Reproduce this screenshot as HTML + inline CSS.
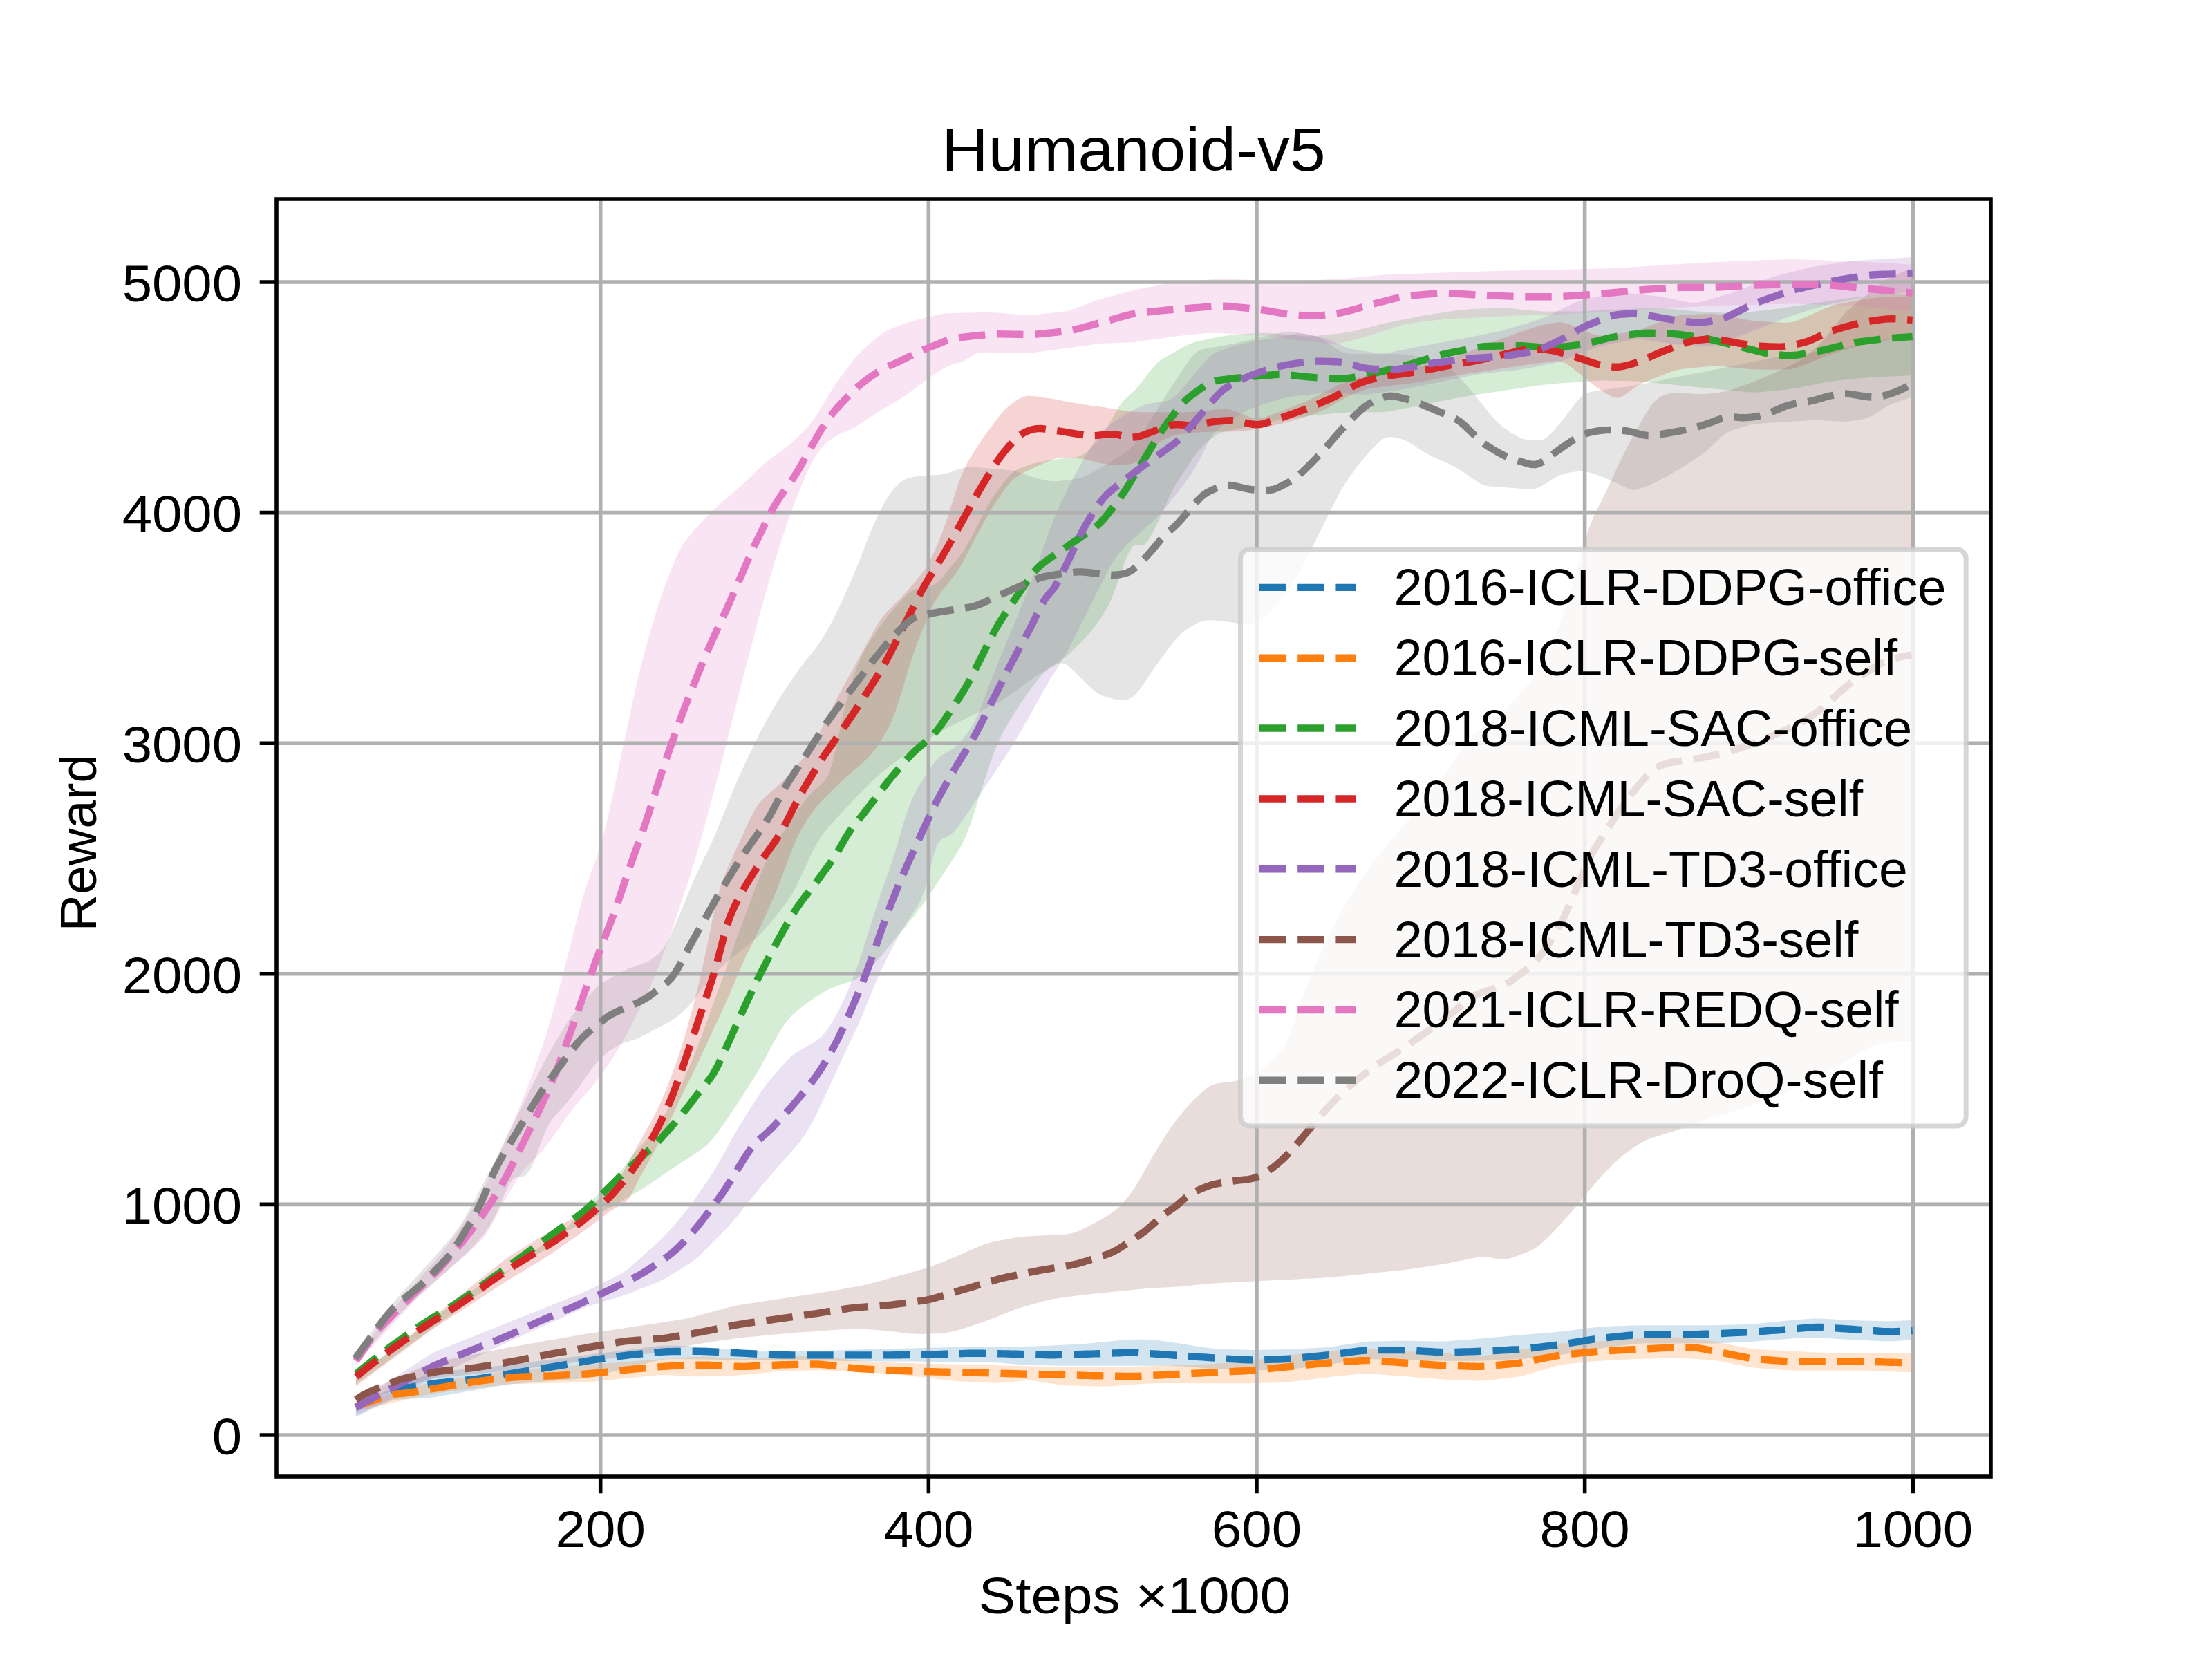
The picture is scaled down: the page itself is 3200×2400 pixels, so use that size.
<!DOCTYPE html>
<html><head><meta charset="utf-8"><style>html,body{margin:0;padding:0;background:#fff;width:3200px;height:2400px;overflow:hidden}</style></head><body><svg width="3200" height="2400" viewBox="0 0 3200 2400" style="display:block"><rect x="0" y="0" width="3200" height="2400" fill="#ffffff"/><defs><clipPath id="axclip"><rect x="400" y="288" width="2480" height="1848"/></clipPath></defs><g clip-path="url(#axclip)"><path d="M514.9 2030.4L520.9 2028.0L526.9 2025.5L532.9 2023.0L538.9 2020.6L544.9 2018.1L550.9 2015.7L557.0 2013.2L563.0 2010.7L569.0 2008.3L575.0 2005.8L581.0 2003.3L587.0 2000.9L593.0 1998.4L599.0 1995.9L605.0 1993.5L611.0 1991.0L617.0 1988.7L623.0 1986.8L629.0 1985.4L635.0 1984.6L641.0 1983.9L647.0 1983.3L653.0 1982.7L659.0 1982.1L665.0 1981.5L671.0 1980.9L677.0 1980.3L683.1 1979.7L689.1 1979.1L695.1 1978.5L701.1 1977.9L707.1 1977.3L713.1 1976.7L719.1 1976.1L725.1 1975.5L731.1 1974.9L737.1 1974.2L743.1 1973.5L749.1 1972.8L755.1 1972.0L761.1 1971.3L767.1 1970.5L773.1 1969.8L779.1 1969.0L785.1 1968.3L791.1 1967.5L797.1 1966.8L803.2 1966.0L809.2 1965.3L815.2 1964.5L821.2 1963.8L827.2 1963.0L833.2 1962.3L839.2 1961.5L845.2 1960.8L851.2 1960.0L857.2 1959.3L863.2 1958.5L869.2 1957.8L875.2 1957.0L881.2 1956.3L887.2 1955.5L893.2 1954.8L899.2 1954.0L905.2 1953.3L911.2 1952.5L917.2 1951.8L923.2 1951.0L929.3 1950.3L935.3 1949.5L941.3 1948.8L947.3 1948.0L953.3 1947.3L959.3 1946.8L965.3 1946.6L971.3 1946.6L977.3 1946.7L983.3 1946.9L989.3 1947.0L995.3 1947.2L1001.3 1947.5L1007.3 1947.9L1013.3 1948.4L1019.3 1948.9L1025.3 1949.4L1031.3 1949.9L1037.3 1950.4L1043.3 1950.9L1049.4 1951.4L1055.4 1951.9L1061.4 1952.4L1067.4 1952.9L1073.4 1953.4L1079.4 1953.9L1085.4 1954.4L1091.4 1954.8L1097.4 1955.0L1103.4 1955.2L1109.4 1955.2L1115.4 1955.2L1121.4 1955.2L1127.4 1955.2L1133.4 1955.2L1139.4 1955.2L1145.4 1955.2L1151.4 1955.2L1157.4 1955.1L1163.4 1955.0L1169.4 1954.8L1175.5 1954.6L1181.5 1954.4L1187.5 1954.2L1193.5 1954.0L1199.5 1953.8L1205.5 1953.6L1211.5 1953.4L1217.5 1953.2L1223.5 1953.0L1229.5 1952.8L1235.5 1952.6L1241.5 1952.4L1247.5 1952.2L1253.5 1952.0L1259.5 1951.9L1265.5 1951.7L1271.5 1951.6L1277.5 1951.4L1283.5 1951.3L1289.5 1951.1L1295.6 1951.0L1301.6 1950.8L1307.6 1950.7L1313.6 1950.5L1319.6 1950.4L1325.6 1950.2L1331.6 1950.1L1337.6 1949.9L1343.6 1949.8L1349.6 1949.6L1355.6 1949.5L1361.6 1949.3L1367.6 1949.2L1373.6 1949.0L1379.6 1948.9L1385.6 1948.9L1391.6 1948.9L1397.6 1948.9L1403.6 1948.9L1409.6 1948.9L1415.6 1948.9L1421.7 1948.9L1427.7 1948.9L1433.7 1948.9L1439.7 1948.8L1445.7 1948.8L1451.7 1948.6L1457.7 1948.5L1463.7 1948.3L1469.7 1948.2L1475.7 1948.0L1481.7 1947.9L1487.7 1947.7L1493.7 1947.6L1499.7 1947.4L1505.7 1947.2L1511.7 1947.0L1517.7 1946.7L1523.7 1946.4L1529.7 1946.1L1535.7 1945.8L1541.8 1945.5L1547.8 1945.2L1553.8 1944.9L1559.8 1944.6L1565.8 1944.2L1571.8 1943.8L1577.8 1943.3L1583.8 1942.7L1589.8 1942.1L1595.8 1941.5L1601.8 1940.9L1607.8 1940.3L1613.8 1939.7L1619.8 1939.1L1625.8 1938.5L1631.8 1938.1L1637.8 1937.9L1643.8 1937.8L1649.8 1937.8L1655.8 1937.8L1661.8 1938.0L1667.9 1938.4L1673.9 1939.1L1679.9 1939.8L1685.9 1940.6L1691.9 1941.5L1697.9 1942.3L1703.9 1943.2L1709.9 1944.1L1715.9 1945.1L1721.9 1946.0L1727.9 1947.0L1733.9 1947.9L1739.9 1948.9L1745.9 1949.8L1751.9 1950.5L1757.9 1951.0L1763.9 1951.3L1769.9 1951.5L1775.9 1951.8L1781.9 1952.0L1788.0 1952.3L1794.0 1952.5L1800.0 1952.7L1806.0 1952.9L1812.0 1952.9L1818.0 1952.9L1824.0 1952.8L1830.0 1952.6L1836.0 1952.5L1842.0 1952.4L1848.0 1952.3L1854.0 1952.1L1860.0 1952.0L1866.0 1951.8L1872.0 1951.5L1878.0 1951.3L1884.0 1951.0L1890.0 1950.7L1896.0 1950.4L1902.0 1950.1L1908.0 1949.8L1914.1 1949.4L1920.1 1948.9L1926.1 1948.2L1932.1 1947.4L1938.1 1946.5L1944.1 1945.6L1950.1 1944.7L1956.1 1943.8L1962.1 1942.9L1968.1 1942.0L1974.1 1941.3L1980.1 1940.8L1986.1 1940.6L1992.1 1940.4L1998.1 1940.3L2004.1 1940.2L2010.1 1940.1L2016.1 1939.9L2022.1 1939.8L2028.1 1939.8L2034.2 1939.7L2040.2 1939.8L2046.2 1939.9L2052.2 1940.0L2058.2 1940.1L2064.2 1940.3L2070.2 1940.4L2076.2 1940.5L2082.2 1940.6L2088.2 1940.5L2094.2 1940.2L2100.2 1939.8L2106.2 1939.3L2112.2 1938.8L2118.2 1938.4L2124.2 1937.9L2130.2 1937.4L2136.2 1936.9L2142.2 1936.4L2148.2 1935.9L2154.2 1935.4L2160.3 1934.8L2166.3 1934.3L2172.3 1933.8L2178.3 1933.2L2184.3 1932.7L2190.3 1932.1L2196.3 1931.6L2202.3 1931.1L2208.3 1930.6L2214.3 1930.1L2220.3 1929.6L2226.3 1929.2L2232.3 1928.7L2238.3 1928.2L2244.3 1927.7L2250.3 1927.2L2256.3 1926.6L2262.3 1925.9L2268.3 1925.2L2274.3 1924.4L2280.3 1923.6L2286.4 1922.9L2292.4 1922.1L2298.4 1921.3L2304.4 1920.6L2310.4 1919.9L2316.4 1919.4L2322.4 1919.1L2328.4 1918.8L2334.4 1918.6L2340.4 1918.3L2346.4 1918.1L2352.4 1917.9L2358.4 1917.6L2364.4 1917.4L2370.4 1917.3L2376.4 1917.2L2382.4 1917.2L2388.4 1917.2L2394.4 1917.2L2400.4 1917.2L2406.5 1917.2L2412.5 1917.2L2418.5 1917.2L2424.5 1917.2L2430.5 1917.2L2436.5 1917.2L2442.5 1917.2L2448.5 1917.2L2454.5 1917.2L2460.5 1917.2L2466.5 1917.2L2472.5 1917.2L2478.5 1917.1L2484.5 1917.0L2490.5 1916.9L2496.5 1916.7L2502.5 1916.5L2508.5 1916.4L2514.5 1916.2L2520.5 1916.0L2526.5 1915.8L2532.6 1915.6L2538.6 1915.2L2544.6 1914.7L2550.6 1914.1L2556.6 1913.5L2562.6 1912.9L2568.6 1912.3L2574.6 1911.7L2580.6 1911.1L2586.6 1910.6L2592.6 1910.0L2598.6 1909.5L2604.6 1908.9L2610.6 1908.4L2616.6 1908.0L2622.6 1907.6L2628.6 1907.5L2634.6 1907.6L2640.6 1907.9L2646.6 1908.2L2652.7 1908.6L2658.7 1908.9L2664.7 1909.2L2670.7 1909.5L2676.7 1909.8L2682.7 1910.1L2688.7 1910.3L2694.7 1910.4L2700.7 1910.6L2706.7 1910.8L2712.7 1911.0L2718.7 1911.2L2724.7 1911.3L2730.7 1911.4L2736.7 1911.3L2742.7 1911.1L2748.7 1910.8L2754.7 1910.5L2760.7 1910.2L2766.7 1909.9L2766.7 1937.9L2760.7 1938.4L2754.7 1938.9L2748.7 1939.4L2742.7 1939.9L2736.7 1940.2L2730.7 1940.4L2724.7 1940.3L2718.7 1940.0L2712.7 1939.7L2706.7 1939.4L2700.7 1939.1L2694.7 1938.8L2688.7 1938.5L2682.7 1938.2L2676.7 1937.9L2670.7 1937.6L2664.7 1937.2L2658.7 1936.9L2652.7 1936.6L2646.6 1936.2L2640.6 1935.9L2634.6 1935.6L2628.6 1935.4L2622.6 1935.4L2616.6 1935.5L2610.6 1935.7L2604.6 1935.9L2598.6 1936.1L2592.6 1936.4L2586.6 1936.8L2580.6 1937.2L2574.6 1937.7L2568.6 1938.2L2562.6 1938.7L2556.6 1939.2L2550.6 1939.6L2544.6 1940.1L2538.6 1940.5L2532.6 1940.9L2526.5 1941.3L2520.5 1941.6L2514.5 1941.9L2508.5 1942.2L2502.5 1942.5L2496.5 1942.8L2490.5 1943.0L2484.5 1943.3L2478.5 1943.5L2472.5 1943.5L2466.5 1943.5L2460.5 1943.5L2454.5 1943.5L2448.5 1943.5L2442.5 1943.5L2436.5 1943.5L2430.5 1943.5L2424.5 1943.5L2418.5 1943.5L2412.5 1943.5L2406.5 1943.5L2400.4 1943.5L2394.4 1943.5L2388.4 1943.5L2382.4 1943.6L2376.4 1943.6L2370.4 1943.8L2364.4 1944.3L2358.4 1944.9L2352.4 1945.7L2346.4 1946.4L2340.4 1947.2L2334.4 1948.0L2328.4 1948.8L2322.4 1949.6L2316.4 1950.4L2310.4 1951.3L2304.4 1952.3L2298.4 1953.3L2292.4 1954.3L2286.4 1955.3L2280.3 1956.3L2274.3 1957.3L2268.3 1958.4L2262.3 1959.3L2256.3 1960.2L2250.3 1960.9L2244.3 1961.6L2238.3 1962.2L2232.3 1962.8L2226.3 1963.4L2220.3 1964.0L2214.3 1964.6L2208.3 1965.2L2202.3 1965.7L2196.3 1966.1L2190.3 1966.5L2184.3 1966.8L2178.3 1967.1L2172.3 1967.4L2166.3 1967.7L2160.3 1968.0L2154.2 1968.3L2148.2 1968.5L2142.2 1968.7L2136.2 1968.7L2130.2 1968.8L2124.2 1968.8L2118.2 1968.8L2112.2 1968.8L2106.2 1968.8L2100.2 1968.8L2094.2 1968.8L2088.2 1968.7L2082.2 1968.6L2076.2 1968.5L2070.2 1968.4L2064.2 1968.3L2058.2 1968.2L2052.2 1968.0L2046.2 1967.9L2040.2 1967.8L2034.2 1967.7L2028.1 1967.5L2022.1 1967.3L2016.1 1967.2L2010.1 1967.0L2004.1 1966.8L1998.1 1966.6L1992.1 1966.4L1986.1 1966.3L1980.1 1966.3L1974.1 1966.6L1968.1 1967.3L1962.1 1968.1L1956.1 1969.0L1950.1 1969.9L1944.1 1970.8L1938.1 1971.7L1932.1 1972.6L1926.1 1973.5L1920.1 1974.3L1914.1 1975.1L1908.0 1975.8L1902.0 1976.6L1896.0 1977.3L1890.0 1978.0L1884.0 1978.7L1878.0 1979.4L1872.0 1980.1L1866.0 1980.7L1860.0 1981.1L1854.0 1981.4L1848.0 1981.6L1842.0 1981.8L1836.0 1981.9L1830.0 1982.1L1824.0 1982.3L1818.0 1982.5L1812.0 1982.6L1806.0 1982.5L1800.0 1982.3L1794.0 1982.1L1788.0 1981.8L1781.9 1981.5L1775.9 1981.2L1769.9 1980.9L1763.9 1980.6L1757.9 1980.2L1751.9 1979.9L1745.9 1979.5L1739.9 1979.0L1733.9 1978.5L1727.9 1978.0L1721.9 1977.5L1715.9 1977.0L1709.9 1976.6L1703.9 1976.2L1697.9 1975.9L1691.9 1975.8L1685.9 1975.8L1679.9 1975.8L1673.9 1975.8L1667.9 1975.8L1661.8 1975.8L1655.8 1975.8L1649.8 1975.8L1643.8 1975.8L1637.8 1975.8L1631.8 1975.8L1625.8 1975.8L1619.8 1975.8L1613.8 1975.8L1607.8 1975.8L1601.8 1975.8L1595.8 1975.8L1589.8 1975.8L1583.8 1975.8L1577.8 1975.8L1571.8 1975.8L1565.8 1975.8L1559.8 1975.8L1553.8 1975.8L1547.8 1975.8L1541.8 1975.7L1535.7 1975.7L1529.7 1975.5L1523.7 1975.4L1517.7 1975.3L1511.7 1975.1L1505.7 1975.0L1499.7 1974.8L1493.7 1974.7L1487.7 1974.5L1481.7 1974.3L1475.7 1974.0L1469.7 1973.6L1463.7 1973.1L1457.7 1972.5L1451.7 1971.9L1445.7 1971.5L1439.7 1971.2L1433.7 1971.0L1427.7 1971.0L1421.7 1971.0L1415.6 1971.0L1409.6 1971.0L1403.6 1971.0L1397.6 1971.0L1391.6 1971.0L1385.6 1971.0L1379.6 1970.9L1373.6 1970.8L1367.6 1970.7L1361.6 1970.6L1355.6 1970.4L1349.6 1970.3L1343.6 1970.1L1337.6 1970.0L1331.6 1969.8L1325.6 1969.7L1319.6 1969.5L1313.6 1969.5L1307.6 1969.4L1301.6 1969.4L1295.6 1969.4L1289.5 1969.4L1283.5 1969.4L1277.5 1969.4L1271.5 1969.4L1265.5 1969.4L1259.5 1969.4L1253.5 1969.4L1247.5 1969.3L1241.5 1969.2L1235.5 1969.1L1229.5 1969.0L1223.5 1968.9L1217.5 1968.8L1211.5 1968.7L1205.5 1968.6L1199.5 1968.5L1193.5 1968.4L1187.5 1968.3L1181.5 1968.2L1175.5 1968.1L1169.4 1968.0L1163.4 1968.0L1157.4 1967.9L1151.4 1967.9L1145.4 1967.8L1139.4 1967.8L1133.4 1967.8L1127.4 1967.8L1121.4 1967.8L1115.4 1967.8L1109.4 1967.8L1103.4 1967.8L1097.4 1967.8L1091.4 1967.8L1085.4 1967.7L1079.4 1967.6L1073.4 1967.5L1067.4 1967.4L1061.4 1967.3L1055.4 1967.2L1049.4 1967.1L1043.3 1967.0L1037.3 1966.9L1031.3 1966.8L1025.3 1966.7L1019.3 1966.6L1013.3 1966.5L1007.3 1966.4L1001.3 1966.3L995.3 1966.2L989.3 1966.2L983.3 1966.1L977.3 1966.1L971.3 1966.1L965.3 1966.3L959.3 1966.9L953.3 1967.9L947.3 1969.3L941.3 1970.8L935.3 1972.3L929.3 1973.8L923.2 1975.3L917.2 1976.8L911.2 1978.3L905.2 1979.8L899.2 1981.3L893.2 1982.8L887.2 1984.3L881.2 1985.8L875.2 1987.3L869.2 1988.8L863.2 1990.3L857.2 1991.7L851.2 1993.0L845.2 1994.0L839.2 1994.6L833.2 1995.1L827.2 1995.6L821.2 1996.0L815.2 1996.5L809.2 1996.9L803.2 1997.4L797.1 1997.8L791.1 1998.3L785.1 1998.7L779.1 1999.2L773.1 1999.6L767.1 2000.1L761.1 2000.5L755.1 2001.0L749.1 2001.5L743.1 2002.0L737.1 2002.6L731.1 2003.4L725.1 2004.4L719.1 2005.4L713.1 2006.5L707.1 2007.5L701.1 2008.6L695.1 2009.6L689.1 2010.7L683.1 2011.7L677.0 2012.8L671.0 2013.8L665.0 2014.9L659.0 2015.9L653.0 2017.0L647.0 2018.0L641.0 2019.1L635.0 2020.1L629.0 2021.1L623.0 2021.8L617.0 2022.3L611.0 2022.7L605.0 2023.0L599.0 2023.3L593.0 2023.6L587.0 2023.9L581.0 2024.2L575.0 2024.7L569.0 2025.7L563.0 2027.4L557.0 2029.6L550.9 2032.1L544.9 2034.6L538.9 2037.1L532.9 2039.7L526.9 2042.2L520.9 2044.7L514.9 2047.2Z" fill="#1f77b4" fill-opacity="0.2" stroke="none"/><path d="M514.9 2030.4L520.9 2028.7L526.9 2027.0L532.9 2025.4L538.9 2023.7L544.9 2022.0L550.9 2020.3L557.0 2018.6L563.0 2016.9L569.0 2015.2L575.0 2013.5L581.0 2011.8L587.0 2010.1L593.0 2008.4L599.0 2006.7L605.0 2005.0L611.0 2003.3L617.0 2001.7L623.0 2000.2L629.0 1999.0L635.0 1998.0L641.0 1997.1L647.0 1996.2L653.0 1995.3L659.0 1994.4L665.0 1993.5L671.0 1992.6L677.0 1991.7L683.1 1990.8L689.1 1989.9L695.1 1989.0L701.1 1988.1L707.1 1987.2L713.1 1986.3L719.1 1985.4L725.1 1984.5L731.1 1983.6L737.1 1982.9L743.1 1982.3L749.1 1981.8L755.1 1981.4L761.1 1980.9L767.1 1980.5L773.1 1980.0L779.1 1979.6L785.1 1979.1L791.1 1978.7L797.1 1978.2L803.2 1977.8L809.2 1977.3L815.2 1976.9L821.2 1976.4L827.2 1976.0L833.2 1975.5L839.2 1975.1L845.2 1974.6L851.2 1974.2L857.2 1973.7L863.2 1973.3L869.2 1972.8L875.2 1972.4L881.2 1971.9L887.2 1971.5L893.2 1971.0L899.2 1970.6L905.2 1970.1L911.2 1969.7L917.2 1969.2L923.2 1968.8L929.3 1968.3L935.3 1967.9L941.3 1967.4L947.3 1967.0L953.3 1966.5L959.3 1966.1L965.3 1965.6L971.3 1965.2L977.3 1964.8L983.3 1964.4L989.3 1964.0L995.3 1963.5L1001.3 1963.1L1007.3 1962.7L1013.3 1962.5L1019.3 1962.5L1025.3 1962.7L1031.3 1963.1L1037.3 1963.5L1043.3 1963.9L1049.4 1964.3L1055.4 1964.8L1061.4 1965.2L1067.4 1965.5L1073.4 1965.6L1079.4 1965.6L1085.4 1965.3L1091.4 1965.0L1097.4 1964.7L1103.4 1964.4L1109.4 1964.1L1115.4 1963.8L1121.4 1963.5L1127.4 1963.2L1133.4 1962.9L1139.4 1962.6L1145.4 1962.3L1151.4 1962.0L1157.4 1961.7L1163.4 1961.4L1169.4 1961.1L1175.5 1960.9L1181.5 1960.8L1187.5 1961.1L1193.5 1961.7L1199.5 1962.6L1205.5 1963.5L1211.5 1964.4L1217.5 1965.3L1223.5 1966.2L1229.5 1967.1L1235.5 1967.9L1241.5 1968.6L1247.5 1969.0L1253.5 1969.4L1259.5 1969.7L1265.5 1970.0L1271.5 1970.3L1277.5 1970.6L1283.5 1970.9L1289.5 1971.2L1295.6 1971.4L1301.6 1971.7L1307.6 1971.8L1313.6 1972.0L1319.6 1972.1L1325.6 1972.3L1331.6 1972.4L1337.6 1972.6L1343.6 1972.7L1349.6 1972.9L1355.6 1973.0L1361.6 1973.2L1367.6 1973.3L1373.6 1973.5L1379.6 1973.6L1385.6 1973.8L1391.6 1973.9L1397.6 1974.1L1403.6 1974.2L1409.6 1974.4L1415.6 1974.5L1421.7 1974.7L1427.7 1974.8L1433.7 1975.0L1439.7 1975.1L1445.7 1975.3L1451.7 1975.4L1457.7 1975.6L1463.7 1975.7L1469.7 1975.9L1475.7 1976.0L1481.7 1976.2L1487.7 1976.3L1493.7 1976.5L1499.7 1976.6L1505.7 1976.8L1511.7 1976.9L1517.7 1977.1L1523.7 1977.1L1529.7 1977.2L1535.7 1977.2L1541.8 1977.2L1547.8 1977.2L1553.8 1977.2L1559.8 1977.2L1565.8 1977.2L1571.8 1977.2L1577.8 1977.2L1583.8 1977.2L1589.8 1977.2L1595.8 1977.2L1601.8 1977.2L1607.8 1977.2L1613.8 1977.2L1619.8 1977.2L1625.8 1977.2L1631.8 1977.2L1637.8 1977.1L1643.8 1977.0L1649.8 1976.8L1655.8 1976.6L1661.8 1976.4L1667.9 1976.2L1673.9 1976.0L1679.9 1975.8L1685.9 1975.6L1691.9 1975.4L1697.9 1975.2L1703.9 1974.9L1709.9 1974.7L1715.9 1974.5L1721.9 1974.3L1727.9 1974.1L1733.9 1973.9L1739.9 1973.7L1745.9 1973.4L1751.9 1973.1L1757.9 1972.8L1763.9 1972.3L1769.9 1971.8L1775.9 1971.3L1781.9 1970.9L1788.0 1970.4L1794.0 1969.9L1800.0 1969.4L1806.0 1968.8L1812.0 1968.1L1818.0 1967.3L1824.0 1966.4L1830.0 1965.5L1836.0 1964.6L1842.0 1963.7L1848.0 1962.8L1854.0 1961.9L1860.0 1961.1L1866.0 1960.3L1872.0 1959.6L1878.0 1959.0L1884.0 1958.4L1890.0 1957.8L1896.0 1957.2L1902.0 1956.6L1908.0 1956.0L1914.1 1955.4L1920.1 1954.9L1926.1 1954.4L1932.1 1953.9L1938.1 1953.5L1944.1 1953.1L1950.1 1952.7L1956.1 1952.2L1962.1 1951.8L1968.1 1951.5L1974.1 1951.3L1980.1 1951.3L1986.1 1951.6L1992.1 1951.9L1998.1 1952.4L2004.1 1952.8L2010.1 1953.2L2016.1 1953.6L2022.1 1954.0L2028.1 1954.4L2034.2 1954.8L2040.2 1955.1L2046.2 1955.4L2052.2 1955.7L2058.2 1956.0L2064.2 1956.3L2070.2 1956.6L2076.2 1956.9L2082.2 1957.3L2088.2 1957.6L2094.2 1958.0L2100.2 1958.5L2106.2 1959.0L2112.2 1959.5L2118.2 1959.9L2124.2 1960.4L2130.2 1960.9L2136.2 1961.3L2142.2 1961.4L2148.2 1961.0L2154.2 1960.2L2160.3 1959.2L2166.3 1958.1L2172.3 1957.0L2178.3 1956.0L2184.3 1954.9L2190.3 1953.8L2196.3 1952.8L2202.3 1951.8L2208.3 1950.8L2214.3 1949.9L2220.3 1949.0L2226.3 1948.1L2232.3 1947.2L2238.3 1946.3L2244.3 1945.4L2250.3 1944.5L2256.3 1943.8L2262.3 1943.3L2268.3 1943.0L2274.3 1942.7L2280.3 1942.4L2286.4 1942.1L2292.4 1941.8L2298.4 1941.5L2304.4 1941.1L2310.4 1940.8L2316.4 1940.4L2322.4 1940.0L2328.4 1939.5L2334.4 1939.0L2340.4 1938.5L2346.4 1938.0L2352.4 1937.6L2358.4 1937.1L2364.4 1936.6L2370.4 1936.3L2376.4 1936.0L2382.4 1935.7L2388.4 1935.5L2394.4 1935.2L2400.4 1935.0L2406.5 1934.7L2412.5 1934.5L2418.5 1934.4L2424.5 1934.4L2430.5 1934.8L2436.5 1935.4L2442.5 1936.1L2448.5 1936.9L2454.5 1937.6L2460.5 1938.3L2466.5 1939.0L2472.5 1939.8L2478.5 1940.6L2484.5 1941.6L2490.5 1942.7L2496.5 1943.9L2502.5 1945.1L2508.5 1946.3L2514.5 1947.5L2520.5 1948.7L2526.5 1949.8L2532.6 1950.9L2538.6 1951.7L2544.6 1952.3L2550.6 1952.6L2556.6 1952.9L2562.6 1953.2L2568.6 1953.5L2574.6 1953.8L2580.6 1954.1L2586.6 1954.4L2592.6 1954.7L2598.6 1955.0L2604.6 1955.3L2610.6 1955.6L2616.6 1955.9L2622.6 1956.2L2628.6 1956.5L2634.6 1956.8L2640.6 1957.1L2646.6 1957.3L2652.7 1957.5L2658.7 1957.5L2664.7 1957.6L2670.7 1957.6L2676.7 1957.6L2682.7 1957.6L2688.7 1957.6L2694.7 1957.6L2700.7 1957.6L2706.7 1957.6L2712.7 1957.6L2718.7 1957.6L2724.7 1957.6L2730.7 1957.6L2736.7 1957.6L2742.7 1957.6L2748.7 1957.6L2754.7 1957.6L2760.7 1957.6L2766.7 1957.6L2766.7 1985.6L2760.7 1985.3L2754.7 1985.0L2748.7 1984.8L2742.7 1984.5L2736.7 1984.2L2730.7 1983.9L2724.7 1983.7L2718.7 1983.4L2712.7 1983.2L2706.7 1983.0L2700.7 1982.8L2694.7 1982.8L2688.7 1982.8L2682.7 1982.8L2676.7 1982.8L2670.7 1982.8L2664.7 1982.8L2658.7 1982.8L2652.7 1982.8L2646.6 1982.8L2640.6 1982.8L2634.6 1982.8L2628.6 1982.8L2622.6 1982.8L2616.6 1982.8L2610.6 1982.8L2604.6 1982.8L2598.6 1982.7L2592.6 1982.6L2586.6 1982.3L2580.6 1981.9L2574.6 1981.5L2568.6 1981.1L2562.6 1980.7L2556.6 1980.2L2550.6 1979.8L2544.6 1979.3L2538.6 1978.7L2532.6 1977.8L2526.5 1976.8L2520.5 1975.6L2514.5 1974.4L2508.5 1973.2L2502.5 1972.0L2496.5 1970.8L2490.5 1969.6L2484.5 1968.6L2478.5 1967.8L2472.5 1967.2L2466.5 1966.8L2460.5 1966.4L2454.5 1966.1L2448.5 1965.7L2442.5 1965.3L2436.5 1965.0L2430.5 1964.7L2424.5 1964.5L2418.5 1964.5L2412.5 1964.7L2406.5 1964.8L2400.4 1965.0L2394.4 1965.2L2388.4 1965.4L2382.4 1965.6L2376.4 1965.7L2370.4 1966.0L2364.4 1966.2L2358.4 1966.5L2352.4 1966.8L2346.4 1967.1L2340.4 1967.4L2334.4 1967.7L2328.4 1968.0L2322.4 1968.3L2316.4 1968.7L2310.4 1969.1L2304.4 1969.6L2298.4 1970.2L2292.4 1970.8L2286.4 1971.4L2280.3 1972.0L2274.3 1972.6L2268.3 1973.2L2262.3 1974.0L2256.3 1975.0L2250.3 1976.4L2244.3 1978.1L2238.3 1979.9L2232.3 1981.7L2226.3 1983.5L2220.3 1985.3L2214.3 1987.1L2208.3 1988.8L2202.3 1990.3L2196.3 1991.5L2190.3 1992.4L2184.3 1993.1L2178.3 1993.9L2172.3 1994.6L2166.3 1995.3L2160.3 1996.0L2154.2 1996.7L2148.2 1997.2L2142.2 1997.5L2136.2 1997.5L2130.2 1997.3L2124.2 1997.1L2118.2 1996.9L2112.2 1996.6L2106.2 1996.4L2100.2 1996.1L2094.2 1995.9L2088.2 1995.6L2082.2 1995.2L2076.2 1994.7L2070.2 1994.2L2064.2 1993.7L2058.2 1993.3L2052.2 1992.8L2046.2 1992.3L2040.2 1991.8L2034.2 1991.3L2028.1 1990.9L2022.1 1990.4L2016.1 1989.9L2010.1 1989.4L2004.1 1988.9L1998.1 1988.4L1992.1 1988.0L1986.1 1987.5L1980.1 1987.3L1974.1 1987.3L1968.1 1987.6L1962.1 1988.1L1956.1 1988.7L1950.1 1989.3L1944.1 1989.9L1938.1 1990.5L1932.1 1991.1L1926.1 1991.8L1920.1 1992.4L1914.1 1993.1L1908.0 1993.9L1902.0 1994.7L1896.0 1995.5L1890.0 1996.2L1884.0 1997.0L1878.0 1997.8L1872.0 1998.5L1866.0 1999.2L1860.0 1999.6L1854.0 1999.9L1848.0 2000.1L1842.0 2000.3L1836.0 2000.4L1830.0 2000.6L1824.0 2000.8L1818.0 2001.0L1812.0 2001.1L1806.0 2001.2L1800.0 2001.3L1794.0 2001.3L1788.0 2001.3L1781.9 2001.3L1775.9 2001.3L1769.9 2001.3L1763.9 2001.3L1757.9 2001.3L1751.9 2001.3L1745.9 2001.3L1739.9 2001.2L1733.9 2001.2L1727.9 2001.2L1721.9 2001.2L1715.9 2001.1L1709.9 2001.1L1703.9 2001.1L1697.9 2001.1L1691.9 2001.1L1685.9 2001.1L1679.9 2001.1L1673.9 2001.1L1667.9 2001.2L1661.8 2001.4L1655.8 2001.8L1649.8 2002.2L1643.8 2002.6L1637.8 2003.1L1631.8 2003.5L1625.8 2004.0L1619.8 2004.4L1613.8 2004.9L1607.8 2005.3L1601.8 2005.5L1595.8 2005.6L1589.8 2005.5L1583.8 2005.4L1577.8 2005.2L1571.8 2005.1L1565.8 2004.9L1559.8 2004.8L1553.8 2004.6L1547.8 2004.4L1541.8 2004.1L1535.7 2003.6L1529.7 2002.8L1523.7 2001.9L1517.7 2000.9L1511.7 1999.9L1505.7 1998.9L1499.7 1998.0L1493.7 1997.3L1487.7 1997.1L1481.7 1997.3L1475.7 1997.8L1469.7 1998.4L1463.7 1999.0L1457.7 1999.6L1451.7 2000.2L1445.7 2000.6L1439.7 2000.7L1433.7 2000.6L1427.7 2000.3L1421.7 2000.0L1415.6 1999.7L1409.6 1999.4L1403.6 1999.1L1397.6 1998.8L1391.6 1998.5L1385.6 1998.2L1379.6 1997.7L1373.6 1997.1L1367.6 1996.4L1361.6 1995.6L1355.6 1994.9L1349.6 1994.1L1343.6 1993.4L1337.6 1992.6L1331.6 1991.9L1325.6 1991.2L1319.6 1990.5L1313.6 1989.9L1307.6 1989.4L1301.6 1988.9L1295.6 1988.4L1289.5 1988.0L1283.5 1987.5L1277.5 1987.1L1271.5 1986.6L1265.5 1986.2L1259.5 1985.7L1253.5 1985.3L1247.5 1985.0L1241.5 1984.7L1235.5 1984.4L1229.5 1984.1L1223.5 1983.8L1217.5 1983.5L1211.5 1983.2L1205.5 1982.9L1199.5 1982.6L1193.5 1982.4L1187.5 1982.3L1181.5 1982.3L1175.5 1982.5L1169.4 1982.6L1163.4 1982.7L1157.4 1982.9L1151.4 1983.0L1145.4 1983.2L1139.4 1983.4L1133.4 1983.5L1127.4 1983.8L1121.4 1984.3L1115.4 1984.8L1109.4 1985.4L1103.4 1986.0L1097.4 1986.6L1091.4 1987.2L1085.4 1987.8L1079.4 1988.4L1073.4 1989.0L1067.4 1989.5L1061.4 1989.9L1055.4 1990.2L1049.4 1990.3L1043.3 1990.5L1037.3 1990.6L1031.3 1990.8L1025.3 1990.9L1019.3 1991.1L1013.3 1991.2L1007.3 1991.3L1001.3 1991.3L995.3 1991.1L989.3 1990.7L983.3 1990.2L977.3 1989.7L971.3 1989.3L965.3 1989.0L959.3 1988.9L953.3 1989.2L947.3 1989.7L941.3 1990.3L935.3 1990.9L929.3 1991.5L923.2 1992.1L917.2 1992.7L911.2 1993.3L905.2 1993.9L899.2 1994.5L893.2 1995.1L887.2 1995.7L881.2 1996.3L875.2 1996.9L869.2 1997.5L863.2 1998.1L857.2 1998.7L851.2 1999.2L845.2 1999.6L839.2 1999.8L833.2 2000.0L827.2 2000.1L821.2 2000.3L815.2 2000.4L809.2 2000.6L803.2 2000.7L797.1 2000.9L791.1 2001.0L785.1 2001.2L779.1 2001.3L773.1 2001.5L767.1 2001.6L761.1 2001.8L755.1 2001.9L749.1 2002.1L743.1 2002.3L737.1 2002.6L731.1 2003.1L725.1 2003.8L719.1 2004.6L713.1 2005.3L707.1 2006.1L701.1 2006.8L695.1 2007.6L689.1 2008.3L683.1 2009.1L677.0 2009.8L671.0 2010.6L665.0 2011.3L659.0 2012.1L653.0 2012.8L647.0 2013.6L641.0 2014.3L635.0 2015.1L629.0 2015.9L623.0 2016.9L617.0 2018.1L611.0 2019.5L605.0 2020.9L599.0 2022.2L593.0 2023.6L587.0 2025.0L581.0 2026.4L575.0 2027.8L569.0 2029.2L563.0 2030.6L557.0 2031.9L550.9 2033.3L544.9 2034.7L538.9 2036.1L532.9 2037.5L526.9 2038.9L520.9 2040.3L514.9 2041.6Z" fill="#ff7f0e" fill-opacity="0.2" stroke="none"/><path d="M514.9 1991.2L520.9 1986.7L526.9 1982.2L532.9 1977.8L538.9 1973.3L544.9 1968.8L550.9 1964.3L557.0 1959.8L563.0 1955.4L569.0 1950.9L575.0 1946.4L581.0 1941.9L587.0 1937.5L593.0 1933.0L599.0 1928.5L605.0 1924.0L611.0 1919.5L617.0 1915.1L623.0 1910.6L629.0 1906.1L635.0 1901.6L641.0 1897.1L647.0 1892.7L653.0 1888.2L659.0 1883.7L665.0 1879.2L671.0 1874.8L677.0 1870.6L683.1 1866.7L689.1 1863.1L695.1 1859.7L701.1 1856.4L707.1 1853.1L713.1 1849.8L719.1 1846.5L725.1 1843.2L731.1 1839.9L737.1 1836.6L743.1 1833.3L749.1 1830.0L755.1 1826.7L761.1 1823.4L767.1 1820.1L773.1 1816.8L779.1 1813.5L785.1 1809.9L791.1 1805.7L797.1 1800.4L803.2 1794.3L809.2 1787.8L815.2 1781.2L821.2 1774.6L827.2 1768.0L833.2 1761.4L839.2 1754.8L845.2 1748.3L851.2 1742.0L857.2 1735.8L863.2 1729.8L869.2 1723.8L875.2 1717.8L881.2 1711.8L887.2 1705.8L893.2 1699.6L899.2 1692.8L905.2 1684.9L911.2 1676.3L917.2 1668.6L923.2 1661.9L929.3 1655.4L935.3 1648.5L941.3 1641.0L947.3 1633.1L953.3 1624.7L959.3 1615.6L965.3 1605.9L971.3 1595.6L977.3 1584.8L983.3 1573.3L989.3 1561.0L995.3 1547.7L1001.3 1533.7L1007.3 1518.9L1013.3 1503.3L1019.3 1487.1L1025.3 1470.6L1031.3 1454.1L1037.3 1437.5L1043.3 1420.7L1049.4 1403.8L1055.4 1386.9L1061.4 1370.1L1067.4 1353.6L1073.4 1337.1L1079.4 1320.6L1085.4 1304.1L1091.4 1287.9L1097.4 1272.3L1103.4 1257.7L1109.4 1244.0L1115.4 1231.3L1121.4 1220.5L1127.4 1211.8L1133.4 1203.8L1139.4 1195.0L1145.4 1185.5L1151.4 1176.2L1157.4 1167.5L1163.4 1159.5L1169.4 1152.1L1175.5 1145.5L1181.5 1140.1L1187.5 1135.3L1193.5 1129.4L1199.5 1118.5L1205.5 1099.0L1211.5 1072.4L1217.5 1043.8L1223.5 1017.3L1229.5 994.5L1235.5 975.7L1241.5 960.1L1247.5 947.2L1253.5 936.3L1259.5 926.6L1265.5 917.3L1271.5 908.4L1277.5 900.0L1283.5 892.0L1289.5 884.6L1295.6 877.7L1301.6 871.2L1307.6 864.8L1313.6 858.9L1319.6 854.3L1325.6 851.7L1331.6 850.5L1337.6 849.8L1343.6 849.0L1349.6 847.1L1355.6 843.2L1361.6 837.3L1367.6 830.2L1373.6 822.8L1379.6 815.3L1385.6 807.7L1391.6 799.8L1397.6 790.8L1403.6 780.3L1409.6 768.8L1415.6 756.9L1421.7 745.0L1427.7 733.7L1433.7 723.5L1439.7 714.6L1445.7 706.3L1451.7 698.3L1457.7 690.8L1463.7 684.4L1469.7 680.0L1475.7 677.1L1481.7 674.9L1487.7 672.9L1493.7 671.0L1499.7 669.4L1505.7 668.1L1511.7 667.0L1517.7 666.0L1523.7 665.1L1529.7 664.2L1535.7 663.4L1541.8 662.8L1547.8 662.3L1553.8 661.7L1559.8 660.7L1565.8 658.3L1571.8 653.8L1577.8 647.9L1583.8 641.5L1589.8 634.7L1595.8 627.2L1601.8 618.2L1607.8 607.6L1613.8 596.5L1619.8 586.5L1625.8 579.0L1631.8 573.5L1637.8 568.3L1643.8 562.2L1649.8 555.0L1655.8 547.1L1661.8 539.2L1667.9 531.7L1673.9 525.3L1679.9 520.5L1685.9 516.7L1691.9 513.3L1697.9 510.0L1703.9 506.6L1709.9 503.3L1715.9 500.1L1721.9 497.3L1727.9 495.1L1733.9 493.5L1739.9 492.3L1745.9 491.0L1751.9 489.8L1757.9 488.6L1763.9 487.4L1769.9 486.3L1775.9 485.2L1781.9 484.4L1788.0 483.9L1794.0 483.5L1800.0 483.2L1806.0 482.9L1812.0 482.6L1818.0 482.3L1824.0 482.0L1830.0 481.8L1836.0 481.8L1842.0 482.1L1848.0 482.6L1854.0 483.2L1860.0 483.8L1866.0 484.4L1872.0 485.0L1878.0 485.6L1884.0 486.1L1890.0 486.4L1896.0 486.3L1902.0 486.0L1908.0 485.4L1914.1 484.8L1920.1 484.2L1926.1 483.6L1932.1 483.0L1938.1 482.4L1944.1 481.6L1950.1 480.6L1956.1 479.4L1962.1 477.9L1968.1 476.5L1974.1 474.9L1980.1 473.4L1986.1 471.9L1992.1 470.4L1998.1 469.0L2004.1 467.6L2010.1 466.3L2016.1 465.0L2022.1 463.8L2028.1 462.6L2034.2 461.4L2040.2 460.2L2046.2 459.0L2052.2 457.8L2058.2 456.7L2064.2 455.7L2070.2 454.7L2076.2 453.8L2082.2 452.9L2088.2 452.0L2094.2 451.1L2100.2 450.2L2106.2 449.3L2112.2 448.5L2118.2 447.9L2124.2 447.4L2130.2 447.1L2136.2 446.8L2142.2 446.5L2148.2 446.2L2154.2 445.9L2160.3 445.6L2166.3 445.4L2172.3 445.4L2178.3 445.6L2184.3 446.1L2190.3 446.7L2196.3 447.3L2202.3 447.9L2208.3 448.5L2214.3 449.1L2220.3 449.7L2226.3 450.1L2232.3 450.4L2238.3 450.5L2244.3 450.6L2250.3 450.6L2256.3 450.6L2262.3 450.6L2268.3 450.6L2274.3 450.6L2280.3 450.5L2286.4 450.4L2292.4 450.2L2298.4 449.9L2304.4 449.6L2310.4 449.3L2316.4 449.0L2322.4 448.7L2328.4 448.4L2334.4 448.1L2340.4 447.8L2346.4 447.5L2352.4 447.2L2358.4 446.9L2364.4 446.6L2370.4 446.3L2376.4 446.0L2382.4 445.7L2388.4 445.4L2394.4 445.4L2400.4 445.5L2406.5 446.0L2412.5 446.5L2418.5 447.1L2424.5 447.7L2430.5 448.3L2436.5 448.9L2442.5 449.5L2448.5 450.1L2454.5 450.5L2460.5 450.9L2466.5 451.2L2472.5 451.5L2478.5 451.8L2484.5 452.1L2490.5 452.4L2496.5 452.7L2502.5 453.0L2508.5 453.0L2514.5 452.7L2520.5 452.2L2526.5 451.6L2532.6 451.0L2538.6 450.4L2544.6 449.8L2550.6 449.2L2556.6 448.6L2562.6 447.9L2568.6 447.1L2574.6 446.3L2580.6 445.4L2586.6 444.5L2592.6 443.6L2598.6 442.7L2604.6 441.8L2610.6 440.9L2616.6 440.0L2622.6 439.1L2628.6 438.2L2634.6 437.3L2640.6 436.4L2646.6 435.5L2652.7 434.6L2658.7 433.7L2664.7 432.8L2670.7 431.9L2676.7 431.1L2682.7 430.4L2688.7 429.8L2694.7 429.2L2700.7 428.6L2706.7 428.0L2712.7 427.4L2718.7 426.8L2724.7 426.2L2730.7 425.8L2736.7 425.5L2742.7 425.4L2748.7 425.3L2754.7 425.3L2760.7 425.3L2766.7 425.3L2766.7 543.1L2760.7 543.3L2754.7 543.6L2748.7 543.9L2742.7 544.2L2736.7 544.4L2730.7 544.7L2724.7 545.0L2718.7 545.2L2712.7 545.5L2706.7 545.9L2700.7 546.4L2694.7 546.9L2688.7 547.5L2682.7 548.1L2676.7 548.7L2670.7 549.3L2664.7 549.9L2658.7 550.5L2652.7 551.2L2646.6 552.1L2640.6 553.2L2634.6 554.4L2628.6 555.5L2622.6 556.7L2616.6 557.9L2610.6 559.1L2604.6 560.3L2598.6 561.5L2592.6 562.5L2586.6 563.3L2580.6 563.9L2574.6 564.5L2568.6 565.1L2562.6 565.7L2556.6 566.3L2550.6 566.9L2544.6 567.4L2538.6 567.7L2532.6 567.6L2526.5 567.2L2520.5 566.6L2514.5 566.0L2508.5 565.4L2502.5 564.8L2496.5 564.2L2490.5 563.6L2484.5 563.0L2478.5 562.4L2472.5 561.8L2466.5 561.2L2460.5 560.6L2454.5 560.0L2448.5 559.4L2442.5 558.8L2436.5 558.2L2430.5 557.6L2424.5 557.0L2418.5 556.4L2412.5 555.8L2406.5 555.2L2400.4 554.6L2394.4 554.0L2388.4 553.4L2382.4 552.8L2376.4 552.3L2370.4 551.8L2364.4 551.5L2358.4 551.3L2352.4 551.1L2346.4 551.0L2340.4 550.9L2334.4 550.8L2328.4 550.7L2322.4 550.6L2316.4 550.6L2310.4 550.7L2304.4 551.0L2298.4 551.4L2292.4 551.9L2286.4 552.3L2280.3 552.8L2274.3 553.2L2268.3 553.7L2262.3 554.1L2256.3 554.6L2250.3 555.1L2244.3 555.7L2238.3 556.2L2232.3 556.8L2226.3 557.5L2220.3 558.4L2214.3 559.2L2208.3 560.1L2202.3 561.0L2196.3 561.9L2190.3 562.8L2184.3 563.7L2178.3 564.6L2172.3 565.5L2166.3 566.4L2160.3 567.3L2154.2 568.2L2148.2 569.1L2142.2 570.0L2136.2 570.9L2130.2 571.8L2124.2 572.8L2118.2 573.7L2112.2 574.8L2106.2 576.0L2100.2 577.2L2094.2 578.4L2088.2 579.6L2082.2 580.8L2076.2 582.0L2070.2 583.2L2064.2 584.4L2058.2 585.6L2052.2 586.8L2046.2 588.0L2040.2 589.2L2034.2 590.4L2028.1 591.6L2022.1 592.8L2016.1 593.9L2010.1 595.0L2004.1 595.8L1998.1 596.2L1992.1 596.3L1986.1 596.3L1980.1 596.3L1974.1 596.3L1968.1 596.3L1962.1 596.3L1956.1 596.4L1950.1 596.5L1944.1 596.9L1938.1 597.4L1932.1 598.0L1926.1 598.5L1920.1 599.1L1914.1 599.7L1908.0 600.3L1902.0 600.9L1896.0 601.6L1890.0 602.2L1884.0 602.8L1878.0 603.4L1872.0 604.0L1866.0 604.8L1860.0 605.7L1854.0 606.8L1848.0 608.0L1842.0 609.2L1836.0 610.4L1830.0 611.6L1824.0 612.8L1818.0 614.0L1812.0 615.4L1806.0 617.1L1800.0 618.7L1794.0 620.1L1788.0 621.2L1781.9 622.2L1775.9 623.4L1769.9 625.0L1763.9 627.1L1757.9 630.3L1751.9 634.7L1745.9 639.8L1739.9 645.4L1733.9 651.8L1727.9 659.6L1721.9 668.5L1715.9 677.7L1709.9 686.8L1703.9 695.9L1697.9 705.9L1691.9 717.7L1685.9 731.1L1679.9 744.9L1673.9 757.8L1667.9 769.9L1661.8 780.6L1655.8 787.8L1649.8 789.4L1643.8 788.1L1637.8 790.9L1631.8 801.5L1625.8 817.1L1619.8 834.2L1613.8 851.1L1607.8 866.5L1601.8 879.2L1595.8 889.3L1589.8 898.1L1583.8 906.4L1577.8 914.1L1571.8 920.9L1565.8 927.2L1559.8 933.3L1553.8 939.2L1547.8 944.9L1541.8 950.0L1535.7 954.5L1529.7 958.7L1523.7 962.7L1517.7 967.0L1511.7 972.0L1505.7 978.3L1499.7 985.7L1493.7 993.5L1487.7 1001.6L1481.7 1009.8L1475.7 1018.5L1469.7 1027.9L1463.7 1037.8L1457.7 1047.8L1451.7 1058.3L1445.7 1069.9L1439.7 1083.9L1433.7 1100.3L1427.7 1118.0L1421.7 1136.5L1415.6 1155.5L1409.6 1174.8L1403.6 1193.2L1397.6 1209.2L1391.6 1221.8L1385.6 1232.1L1379.6 1241.5L1373.6 1250.6L1367.6 1259.6L1361.6 1268.8L1355.6 1278.1L1349.6 1287.3L1343.6 1296.3L1337.6 1304.8L1331.6 1312.8L1325.6 1320.7L1319.6 1328.4L1313.6 1336.0L1307.6 1343.4L1301.6 1350.6L1295.6 1357.8L1289.5 1365.0L1283.5 1372.2L1277.5 1379.5L1271.5 1386.6L1265.5 1393.6L1259.5 1400.1L1253.5 1405.7L1247.5 1410.5L1241.5 1414.7L1235.5 1418.1L1229.5 1420.5L1223.5 1422.1L1217.5 1423.8L1211.5 1425.9L1205.5 1428.4L1199.5 1431.1L1193.5 1434.2L1187.5 1437.8L1181.5 1441.7L1175.5 1445.7L1169.4 1449.7L1163.4 1453.9L1157.4 1458.5L1151.4 1463.5L1145.4 1469.2L1139.4 1476.0L1133.4 1484.3L1127.4 1493.6L1121.4 1503.8L1115.4 1514.8L1109.4 1526.3L1103.4 1537.5L1097.4 1548.0L1091.4 1558.1L1085.4 1567.8L1079.4 1577.3L1073.4 1586.4L1067.4 1595.5L1061.4 1604.5L1055.4 1613.5L1049.4 1622.4L1043.3 1631.1L1037.3 1639.5L1031.3 1647.1L1025.3 1653.8L1019.3 1659.3L1013.3 1663.8L1007.3 1667.9L1001.3 1671.8L995.3 1675.7L989.3 1679.6L983.3 1683.5L977.3 1687.4L971.3 1691.4L965.3 1695.5L959.3 1699.5L953.3 1703.6L947.3 1707.8L941.3 1711.9L935.3 1716.0L929.3 1719.8L923.2 1723.6L917.2 1727.2L911.2 1730.8L905.2 1734.3L899.2 1737.7L893.2 1741.2L887.2 1744.7L881.2 1748.1L875.2 1751.6L869.2 1755.0L863.2 1758.5L857.2 1761.9L851.2 1765.3L845.2 1768.5L839.2 1771.6L833.2 1774.6L827.2 1777.6L821.2 1780.6L815.2 1783.6L809.2 1786.6L803.2 1789.7L797.1 1792.9L791.1 1796.6L785.1 1800.8L779.1 1805.3L773.1 1809.9L767.1 1814.6L761.1 1819.2L755.1 1823.9L749.1 1828.5L743.1 1833.2L737.1 1837.9L731.1 1842.5L725.1 1847.2L719.1 1851.8L713.1 1856.5L707.1 1861.1L701.1 1865.8L695.1 1870.4L689.1 1875.1L683.1 1879.7L677.0 1884.2L671.0 1888.6L665.0 1893.0L659.0 1897.4L653.0 1901.7L647.0 1906.1L641.0 1910.5L635.0 1914.9L629.0 1919.3L623.0 1923.6L617.0 1928.0L611.0 1932.4L605.0 1936.8L599.0 1941.1L593.0 1945.5L587.0 1949.9L581.0 1954.3L575.0 1958.6L569.0 1963.0L563.0 1967.4L557.0 1971.8L550.9 1976.1L544.9 1980.5L538.9 1984.9L532.9 1989.3L526.9 1993.7L520.9 1998.0L514.9 2002.4Z" fill="#2ca02c" fill-opacity="0.2" stroke="none"/><path d="M514.9 1994.0L520.9 1989.2L526.9 1984.4L532.9 1979.7L538.9 1974.9L544.9 1970.1L550.9 1965.4L557.0 1960.6L563.0 1955.8L569.0 1951.0L575.0 1946.3L581.0 1941.5L587.0 1936.7L593.0 1931.9L599.0 1927.2L605.0 1922.4L611.0 1917.6L617.0 1912.8L623.0 1908.1L629.0 1903.3L635.0 1898.5L641.0 1893.7L647.0 1888.9L653.0 1884.1L659.0 1879.3L665.0 1874.5L671.0 1869.7L677.0 1864.8L683.1 1860.0L689.1 1855.2L695.1 1850.4L701.1 1845.6L707.1 1840.8L713.1 1836.0L719.1 1831.2L725.1 1826.4L731.1 1821.8L737.1 1817.4L743.1 1813.5L749.1 1809.8L755.1 1806.2L761.1 1802.6L767.1 1798.9L773.1 1795.3L779.1 1791.7L785.1 1788.1L791.1 1784.5L797.1 1780.9L803.2 1777.3L809.2 1773.7L815.2 1770.1L821.2 1766.5L827.2 1762.9L833.2 1759.3L839.2 1755.6L845.2 1751.7L851.2 1747.3L857.2 1742.4L863.2 1737.2L869.2 1732.0L875.2 1726.7L881.2 1721.4L887.2 1715.6L893.2 1708.5L899.2 1699.4L905.2 1688.9L911.2 1678.0L917.2 1667.0L923.2 1656.1L929.3 1645.1L935.3 1634.3L941.3 1623.4L947.3 1612.3L953.3 1600.2L959.3 1586.6L965.3 1571.8L971.3 1556.2L977.3 1540.1L983.3 1522.6L989.3 1503.3L995.3 1482.5L1001.3 1460.7L1007.3 1437.5L1013.3 1412.4L1019.3 1385.5L1025.3 1356.6L1031.3 1327.2L1037.3 1300.4L1043.3 1279.3L1049.4 1263.3L1055.4 1249.5L1061.4 1236.4L1067.4 1223.3L1073.4 1210.2L1079.4 1197.1L1085.4 1184.3L1091.4 1172.6L1097.4 1163.1L1103.4 1156.2L1109.4 1150.7L1115.4 1145.6L1121.4 1140.4L1127.4 1134.9L1133.4 1128.9L1139.4 1122.4L1145.4 1115.7L1151.4 1108.9L1157.4 1102.1L1163.4 1095.2L1169.4 1087.6L1175.5 1078.5L1181.5 1067.9L1187.5 1056.2L1193.5 1044.3L1199.5 1032.3L1205.5 1020.6L1211.5 1009.1L1217.5 998.0L1223.5 986.9L1229.5 975.9L1235.5 964.9L1241.5 953.9L1247.5 942.9L1253.5 931.9L1259.5 920.9L1265.5 910.2L1271.5 900.2L1277.5 891.7L1283.5 884.7L1289.5 878.4L1295.6 872.3L1301.6 866.3L1307.6 859.9L1313.6 853.3L1319.6 846.4L1325.6 839.4L1331.6 832.1L1337.6 824.1L1343.6 814.2L1349.6 802.3L1355.6 788.9L1361.6 774.2L1367.6 757.7L1373.6 739.6L1379.6 720.8L1385.6 702.4L1391.6 686.1L1397.6 673.0L1403.6 662.3L1409.6 652.6L1415.6 643.2L1421.7 634.2L1427.7 625.8L1433.7 617.7L1439.7 609.7L1445.7 601.9L1451.7 594.8L1457.7 588.9L1463.7 584.0L1469.7 579.7L1475.7 576.0L1481.7 573.4L1487.7 572.5L1493.7 572.9L1499.7 573.6L1505.7 574.5L1511.7 575.4L1517.7 576.3L1523.7 577.3L1529.7 578.3L1535.7 579.4L1541.8 580.6L1547.8 581.7L1553.8 582.8L1559.8 583.9L1565.8 584.9L1571.8 585.8L1577.8 586.7L1583.8 587.5L1589.8 588.3L1595.8 589.1L1601.8 590.0L1607.8 591.0L1613.8 592.0L1619.8 593.0L1625.8 593.9L1631.8 594.9L1637.8 595.6L1643.8 596.1L1649.8 596.3L1655.8 596.3L1661.8 596.3L1667.9 596.3L1673.9 596.3L1679.9 596.3L1685.9 596.3L1691.9 596.3L1697.9 596.3L1703.9 596.3L1709.9 596.3L1715.9 596.3L1721.9 596.1L1727.9 595.8L1733.9 595.3L1739.9 594.7L1745.9 594.0L1751.9 593.4L1757.9 592.8L1763.9 592.2L1769.9 591.8L1775.9 592.0L1781.9 593.3L1788.0 595.4L1794.0 597.8L1800.0 600.2L1806.0 602.4L1812.0 604.4L1818.0 605.4L1824.0 605.0L1830.0 603.5L1836.0 601.5L1842.0 599.3L1848.0 597.1L1854.0 594.8L1860.0 592.4L1866.0 590.0L1872.0 587.6L1878.0 585.2L1884.0 582.8L1890.0 580.2L1896.0 577.5L1902.0 574.6L1908.0 571.6L1914.1 568.6L1920.1 565.6L1926.1 562.6L1932.1 559.6L1938.1 556.6L1944.1 553.8L1950.1 551.4L1956.1 549.2L1962.1 547.4L1968.1 545.6L1974.1 543.9L1980.1 542.5L1986.1 541.1L1992.1 539.9L1998.1 538.7L2004.1 537.5L2010.1 536.3L2016.1 535.2L2022.1 534.3L2028.1 533.4L2034.2 532.6L2040.2 531.8L2046.2 530.9L2052.2 530.1L2058.2 529.0L2064.2 527.7L2070.2 526.1L2076.2 524.3L2082.2 522.5L2088.2 520.7L2094.2 518.9L2100.2 517.1L2106.2 515.3L2112.2 513.4L2118.2 511.3L2124.2 509.1L2130.2 506.7L2136.2 504.3L2142.2 501.9L2148.2 499.5L2154.2 497.1L2160.3 494.7L2166.3 492.4L2172.3 490.1L2178.3 487.8L2184.3 485.7L2190.3 483.6L2196.3 481.5L2202.3 479.4L2208.3 477.3L2214.3 475.2L2220.3 473.2L2226.3 471.3L2232.3 469.8L2238.3 468.5L2244.3 467.4L2250.3 466.5L2256.3 466.1L2262.3 466.7L2268.3 468.4L2274.3 470.7L2280.3 473.2L2286.4 475.8L2292.4 478.4L2298.4 480.9L2304.4 483.2L2310.4 485.0L2316.4 485.6L2322.4 485.4L2328.4 484.6L2334.4 483.7L2340.4 482.8L2346.4 481.9L2352.4 481.0L2358.4 480.1L2364.4 478.9L2370.4 477.4L2376.4 475.4L2382.4 473.1L2388.4 470.7L2394.4 468.3L2400.4 465.9L2406.5 463.5L2412.5 461.1L2418.5 458.9L2424.5 457.2L2430.5 456.1L2436.5 455.6L2442.5 455.3L2448.5 455.0L2454.5 454.7L2460.5 454.4L2466.5 454.1L2472.5 453.9L2478.5 453.9L2484.5 454.5L2490.5 455.4L2496.5 456.5L2502.5 457.7L2508.5 458.9L2514.5 460.1L2520.5 461.3L2526.5 462.5L2532.6 463.5L2538.6 464.4L2544.6 464.9L2550.6 465.3L2556.6 465.6L2562.6 465.9L2568.6 466.2L2574.6 466.5L2580.6 466.7L2586.6 466.8L2592.6 466.1L2598.6 464.5L2604.6 462.1L2610.6 459.4L2616.6 456.7L2622.6 454.0L2628.6 451.3L2634.6 448.6L2640.6 446.0L2646.6 443.7L2652.7 441.8L2658.7 440.3L2664.7 439.0L2670.7 437.8L2676.7 436.6L2682.7 435.4L2688.7 434.2L2694.7 433.1L2700.7 432.0L2706.7 431.2L2712.7 430.7L2718.7 430.3L2724.7 430.1L2730.7 429.8L2736.7 429.5L2742.7 429.2L2748.7 429.0L2754.7 428.7L2760.7 428.4L2766.7 428.1L2766.7 487.0L2760.7 487.8L2754.7 488.6L2748.7 489.5L2742.7 490.3L2736.7 491.1L2730.7 491.9L2724.7 492.7L2718.7 493.6L2712.7 494.5L2706.7 495.5L2700.7 496.9L2694.7 498.6L2688.7 500.3L2682.7 502.1L2676.7 503.9L2670.7 505.7L2664.7 507.5L2658.7 509.4L2652.7 511.3L2646.6 513.4L2640.6 515.6L2634.6 518.0L2628.6 520.4L2622.6 522.8L2616.6 525.2L2610.6 527.6L2604.6 529.9L2598.6 532.1L2592.6 533.7L2586.6 534.4L2580.6 534.6L2574.6 534.6L2568.6 534.7L2562.6 534.7L2556.6 534.7L2550.6 534.6L2544.6 534.6L2538.6 534.4L2532.6 534.1L2526.5 533.6L2520.5 533.0L2514.5 532.4L2508.5 531.8L2502.5 531.2L2496.5 530.6L2490.5 530.1L2484.5 529.7L2478.5 529.6L2472.5 530.0L2466.5 530.5L2460.5 531.1L2454.5 531.7L2448.5 532.3L2442.5 532.9L2436.5 533.5L2430.5 534.3L2424.5 535.5L2418.5 537.4L2412.5 539.6L2406.5 542.0L2400.4 544.4L2394.4 546.8L2388.4 549.2L2382.4 551.6L2376.4 554.2L2370.4 557.2L2364.4 561.0L2358.4 565.4L2352.4 570.0L2346.4 573.9L2340.4 575.8L2334.4 574.8L2328.4 572.0L2322.4 568.4L2316.4 564.6L2310.4 560.5L2304.4 556.0L2298.4 551.2L2292.4 546.5L2286.4 541.7L2280.3 536.9L2274.3 532.1L2268.3 527.7L2262.3 524.2L2256.3 522.5L2250.3 522.3L2244.3 522.9L2238.3 523.7L2232.3 524.6L2226.3 525.4L2220.3 526.3L2214.3 527.1L2208.3 528.0L2202.3 528.8L2196.3 529.7L2190.3 530.6L2184.3 531.5L2178.3 532.4L2172.3 533.3L2166.3 534.2L2160.3 535.1L2154.2 536.0L2148.2 536.9L2142.2 537.8L2136.2 538.7L2130.2 539.6L2124.2 540.5L2118.2 541.4L2112.2 542.3L2106.2 543.2L2100.2 544.1L2094.2 545.0L2088.2 546.1L2082.2 547.2L2076.2 548.3L2070.2 549.5L2064.2 550.7L2058.2 551.9L2052.2 553.1L2046.2 554.1L2040.2 554.8L2034.2 555.5L2028.1 556.1L2022.1 556.7L2016.1 557.3L2010.1 557.9L2004.1 558.6L1998.1 559.5L1992.1 560.3L1986.1 561.3L1980.1 562.5L1974.1 564.1L1968.1 566.1L1962.1 568.4L1956.1 570.9L1950.1 573.6L1944.1 576.7L1938.1 580.1L1932.1 583.6L1926.1 587.1L1920.1 590.3L1914.1 593.1L1908.0 595.6L1902.0 598.0L1896.0 600.3L1890.0 602.4L1884.0 604.4L1878.0 606.2L1872.0 608.0L1866.0 609.7L1860.0 611.2L1854.0 612.7L1848.0 614.1L1842.0 615.5L1836.0 616.9L1830.0 618.3L1824.0 619.6L1818.0 620.7L1812.0 621.7L1806.0 622.6L1800.0 623.4L1794.0 624.0L1788.0 624.3L1781.9 624.3L1775.9 624.4L1769.9 624.4L1763.9 624.5L1757.9 624.6L1751.9 624.8L1745.9 625.0L1739.9 625.2L1733.9 625.5L1727.9 625.8L1721.9 626.4L1715.9 627.2L1709.9 628.1L1703.9 629.1L1697.9 630.3L1691.9 632.0L1685.9 634.5L1679.9 638.0L1673.9 642.5L1667.9 648.2L1661.8 654.5L1655.8 660.3L1649.8 665.0L1643.8 668.5L1637.8 670.7L1631.8 671.7L1625.8 672.0L1619.8 672.0L1613.8 672.0L1607.8 671.9L1601.8 671.5L1595.8 670.7L1589.8 669.5L1583.8 668.0L1577.8 666.5L1571.8 665.1L1565.8 664.0L1559.8 663.2L1553.8 662.6L1547.8 662.1L1541.8 661.7L1535.7 661.8L1529.7 662.7L1523.7 664.6L1517.7 666.9L1511.7 669.4L1505.7 671.9L1499.7 674.6L1493.7 677.4L1487.7 680.3L1481.7 683.3L1475.7 686.5L1469.7 690.3L1463.7 695.5L1457.7 702.4L1451.7 710.5L1445.7 718.9L1439.7 727.9L1433.7 737.6L1427.7 747.9L1421.7 758.6L1415.6 769.5L1409.6 780.7L1403.6 792.2L1397.6 804.0L1391.6 815.3L1385.6 825.4L1379.6 833.8L1373.6 841.2L1367.6 848.4L1361.6 855.8L1355.6 864.6L1349.6 875.7L1343.6 888.9L1337.6 903.4L1331.6 918.3L1325.6 933.8L1319.6 950.9L1313.6 970.1L1307.6 990.4L1301.6 1010.2L1295.6 1028.4L1289.5 1044.1L1283.5 1056.6L1277.5 1066.7L1271.5 1075.8L1265.5 1084.4L1259.5 1091.9L1253.5 1098.2L1247.5 1103.7L1241.5 1108.9L1235.5 1114.2L1229.5 1119.4L1223.5 1124.7L1217.5 1130.2L1211.5 1136.0L1205.5 1141.9L1199.5 1147.9L1193.5 1154.0L1187.5 1160.1L1181.5 1166.7L1175.5 1174.3L1169.4 1183.2L1163.4 1192.9L1157.4 1203.4L1151.4 1215.7L1145.4 1230.2L1139.4 1246.3L1133.4 1262.6L1127.4 1278.3L1121.4 1292.9L1115.4 1306.7L1109.4 1320.1L1103.4 1333.4L1097.4 1346.5L1091.4 1359.0L1085.4 1370.7L1079.4 1382.5L1073.4 1395.7L1067.4 1409.9L1061.4 1424.3L1055.4 1438.2L1049.4 1451.8L1043.3 1464.9L1037.3 1477.9L1031.3 1490.7L1025.3 1503.6L1019.3 1516.7L1013.3 1529.8L1007.3 1542.6L1001.3 1554.8L995.3 1566.5L989.3 1578.5L983.3 1591.1L977.3 1604.1L971.3 1616.9L965.3 1629.0L959.3 1640.6L953.3 1652.2L947.3 1663.7L941.3 1675.1L935.3 1685.9L929.3 1696.4L923.2 1707.9L917.2 1720.6L911.2 1731.8L905.2 1739.0L899.2 1742.8L893.2 1745.8L887.2 1749.4L881.2 1753.6L875.2 1758.1L869.2 1762.6L863.2 1767.1L857.2 1771.6L851.2 1776.0L845.2 1780.4L839.2 1784.7L833.2 1788.9L827.2 1793.1L821.2 1797.3L815.2 1801.5L809.2 1805.7L803.2 1809.9L797.1 1814.0L791.1 1817.9L785.1 1821.7L779.1 1825.4L773.1 1829.0L767.1 1832.6L761.1 1836.2L755.1 1839.8L749.1 1843.4L743.1 1847.0L737.1 1850.7L731.1 1854.5L725.1 1858.4L719.1 1862.3L713.1 1866.2L707.1 1870.1L701.1 1874.0L695.1 1877.9L689.1 1881.8L683.1 1885.7L677.0 1889.6L671.0 1893.5L665.0 1897.4L659.0 1901.3L653.0 1905.2L647.0 1909.1L641.0 1913.0L635.0 1916.9L629.0 1920.9L623.0 1925.0L617.0 1929.3L611.0 1933.8L605.0 1938.2L599.0 1942.7L593.0 1947.2L587.0 1951.6L581.0 1956.1L575.0 1960.6L569.0 1965.0L563.0 1969.5L557.0 1973.9L550.9 1978.4L544.9 1982.9L538.9 1987.3L532.9 1991.8L526.9 1996.3L520.9 2000.7L514.9 2005.2Z" fill="#d62728" fill-opacity="0.2" stroke="none"/><path d="M514.9 2030.4L520.9 2026.4L526.9 2022.4L532.9 2018.4L538.9 2014.4L544.9 2010.4L550.9 2006.4L557.0 2002.4L563.0 1998.4L569.0 1994.4L575.0 1990.4L581.0 1986.4L587.0 1982.4L593.0 1978.4L599.0 1974.4L605.0 1970.4L611.0 1966.4L617.0 1962.5L623.0 1959.0L629.0 1955.9L635.0 1953.3L641.0 1950.8L647.0 1948.4L653.0 1946.0L659.0 1943.6L665.0 1941.2L671.0 1938.8L677.0 1936.4L683.1 1934.0L689.1 1931.6L695.1 1929.2L701.1 1926.8L707.1 1924.4L713.1 1922.0L719.1 1919.6L725.1 1917.2L731.1 1914.8L737.1 1912.4L743.1 1910.0L749.1 1907.6L755.1 1905.2L761.1 1902.8L767.1 1900.4L773.1 1898.0L779.1 1895.6L785.1 1893.2L791.1 1890.8L797.1 1888.4L803.2 1886.0L809.2 1883.6L815.2 1881.2L821.2 1878.8L827.2 1876.4L833.2 1874.0L839.2 1871.5L845.2 1869.0L851.2 1866.3L857.2 1863.5L863.2 1860.5L869.2 1857.5L875.2 1854.5L881.2 1851.5L887.2 1848.5L893.2 1845.4L899.2 1842.1L905.2 1838.2L911.2 1833.6L917.2 1828.3L923.2 1823.0L929.3 1817.6L935.3 1812.2L941.3 1806.8L947.3 1801.3L953.3 1795.8L959.3 1790.0L965.3 1783.6L971.3 1776.8L977.3 1769.9L983.3 1762.8L989.3 1755.6L995.3 1748.0L1001.3 1739.9L1007.3 1731.4L1013.3 1722.8L1019.3 1714.2L1025.3 1705.5L1031.3 1696.3L1037.3 1686.4L1043.3 1675.8L1049.4 1664.9L1055.4 1653.9L1061.4 1643.1L1067.4 1632.6L1073.4 1622.7L1079.4 1613.1L1085.4 1603.7L1091.4 1594.3L1097.4 1585.0L1103.4 1576.1L1109.4 1567.9L1115.4 1560.5L1121.4 1553.5L1127.4 1546.7L1133.4 1539.8L1139.4 1533.3L1145.4 1527.6L1151.4 1523.0L1157.4 1519.3L1163.4 1515.9L1169.4 1512.5L1175.5 1509.1L1181.5 1505.3L1187.5 1500.6L1193.5 1494.0L1199.5 1485.5L1205.5 1475.8L1211.5 1465.1L1217.5 1453.1L1223.5 1440.0L1229.5 1426.2L1235.5 1411.1L1241.5 1394.5L1247.5 1376.6L1253.5 1357.8L1259.5 1338.5L1265.5 1319.3L1271.5 1301.0L1277.5 1283.7L1283.5 1266.7L1289.5 1249.0L1295.6 1229.9L1301.6 1209.8L1307.6 1189.5L1313.6 1170.8L1319.6 1155.4L1325.6 1143.4L1331.6 1133.3L1337.6 1123.8L1343.6 1114.5L1349.6 1105.7L1355.6 1098.3L1361.6 1093.0L1367.6 1089.3L1373.6 1086.0L1379.6 1082.2L1385.6 1077.1L1391.6 1070.5L1397.6 1062.8L1403.6 1054.4L1409.6 1044.2L1415.6 1031.3L1421.7 1016.0L1427.7 1000.0L1433.7 984.4L1439.7 969.3L1445.7 954.5L1451.7 939.9L1457.7 925.6L1463.7 911.4L1469.7 897.1L1475.7 882.5L1481.7 867.3L1487.7 851.7L1493.7 835.7L1499.7 819.2L1505.7 802.5L1511.7 785.6L1517.7 769.0L1523.7 753.2L1529.7 738.7L1535.7 725.5L1541.8 713.0L1547.8 701.1L1553.8 689.6L1559.8 678.5L1565.8 667.9L1571.8 657.4L1577.8 647.2L1583.8 637.6L1589.8 629.1L1595.8 622.4L1601.8 617.3L1607.8 612.9L1613.8 608.8L1619.8 604.9L1625.8 601.2L1631.8 597.6L1637.8 594.3L1643.8 591.1L1649.8 588.3L1655.8 585.8L1661.8 584.1L1667.9 582.9L1673.9 582.1L1679.9 581.4L1685.9 580.4L1691.9 578.7L1697.9 575.1L1703.9 569.6L1709.9 562.8L1715.9 555.7L1721.9 548.5L1727.9 541.3L1733.9 534.1L1739.9 526.9L1745.9 520.2L1751.9 514.6L1757.9 510.7L1763.9 508.1L1769.9 505.9L1775.9 503.7L1781.9 501.6L1788.0 499.7L1794.0 498.0L1800.0 496.7L1806.0 495.5L1812.0 494.3L1818.0 493.2L1824.0 492.1L1830.0 491.0L1836.0 489.8L1842.0 488.7L1848.0 487.6L1854.0 486.5L1860.0 485.3L1866.0 484.2L1872.0 483.2L1878.0 482.6L1884.0 482.7L1890.0 483.5L1896.0 484.6L1902.0 485.9L1908.0 487.2L1914.1 488.6L1920.1 490.5L1926.1 492.9L1932.1 495.7L1938.1 498.6L1944.1 501.3L1950.1 503.4L1956.1 505.0L1962.1 506.1L1968.1 507.1L1974.1 508.1L1980.1 509.1L1986.1 510.1L1992.1 510.9L1998.1 511.2L2004.1 510.8L2010.1 509.9L2016.1 508.7L2022.1 507.6L2028.1 506.4L2034.2 505.2L2040.2 504.0L2046.2 502.8L2052.2 501.6L2058.2 500.4L2064.2 499.3L2070.2 498.2L2076.2 497.1L2082.2 496.0L2088.2 494.9L2094.2 493.9L2100.2 492.8L2106.2 491.7L2112.2 490.6L2118.2 489.4L2124.2 488.2L2130.2 487.1L2136.2 485.9L2142.2 484.7L2148.2 483.5L2154.2 482.3L2160.3 481.0L2166.3 479.8L2172.3 478.4L2178.3 476.8L2184.3 475.1L2190.3 473.3L2196.3 471.5L2202.3 469.7L2208.3 467.9L2214.3 466.1L2220.3 464.2L2226.3 462.1L2232.3 459.7L2238.3 457.1L2244.3 454.2L2250.3 451.3L2256.3 448.5L2262.3 445.6L2268.3 442.7L2274.3 439.9L2280.3 437.2L2286.4 435.0L2292.4 433.3L2298.4 431.9L2304.4 430.5L2310.4 429.2L2316.4 427.9L2322.4 426.6L2328.4 425.3L2334.4 424.1L2340.4 423.4L2346.4 423.3L2352.4 423.7L2358.4 424.3L2364.4 424.9L2370.4 425.5L2376.4 426.1L2382.4 426.7L2388.4 427.4L2394.4 428.1L2400.4 429.0L2406.5 430.1L2412.5 431.3L2418.5 432.5L2424.5 433.7L2430.5 434.9L2436.5 436.1L2442.5 437.2L2448.5 437.9L2454.5 437.8L2460.5 436.8L2466.5 435.2L2472.5 433.4L2478.5 431.6L2484.5 429.8L2490.5 428.0L2496.5 426.2L2502.5 424.4L2508.5 422.4L2514.5 420.2L2520.5 417.9L2526.5 415.5L2532.6 413.1L2538.6 410.7L2544.6 408.3L2550.6 405.9L2556.6 403.5L2562.6 401.3L2568.6 399.4L2574.6 397.7L2580.6 396.2L2586.6 394.7L2592.6 393.2L2598.6 391.7L2604.6 390.2L2610.6 388.7L2616.6 387.3L2622.6 386.1L2628.6 385.0L2634.6 384.1L2640.6 383.2L2646.6 382.3L2652.7 381.4L2658.7 380.5L2664.7 379.6L2670.7 378.7L2676.7 378.0L2682.7 377.4L2688.7 377.0L2694.7 376.6L2700.7 376.2L2706.7 375.8L2712.7 375.5L2718.7 375.1L2724.7 374.7L2730.7 374.3L2736.7 374.0L2742.7 373.6L2748.7 373.2L2754.7 372.8L2760.7 372.5L2766.7 372.1L2766.7 422.5L2760.7 423.1L2754.7 423.6L2748.7 424.2L2742.7 424.7L2736.7 425.3L2730.7 425.8L2724.7 426.4L2718.7 426.9L2712.7 427.5L2706.7 428.2L2700.7 429.1L2694.7 430.2L2688.7 431.4L2682.7 432.6L2676.7 433.8L2670.7 435.0L2664.7 436.2L2658.7 437.5L2652.7 438.8L2646.6 440.3L2640.6 441.9L2634.6 443.7L2628.6 445.5L2622.6 447.3L2616.6 449.1L2610.6 450.9L2604.6 452.7L2598.6 454.6L2592.6 456.6L2586.6 458.8L2580.6 461.1L2574.6 463.5L2568.6 465.9L2562.6 468.3L2556.6 470.7L2550.6 473.1L2544.6 475.5L2538.6 477.9L2532.6 480.3L2526.5 482.7L2520.5 485.1L2514.5 487.5L2508.5 489.9L2502.5 492.3L2496.5 494.7L2490.5 497.0L2484.5 498.9L2478.5 500.1L2472.5 500.4L2466.5 500.3L2460.5 500.0L2454.5 499.7L2448.5 499.4L2442.5 499.1L2436.5 498.8L2430.5 498.4L2424.5 497.9L2418.5 497.2L2412.5 496.4L2406.5 495.5L2400.4 494.6L2394.4 493.7L2388.4 492.8L2382.4 491.9L2376.4 491.1L2370.4 490.8L2364.4 491.1L2358.4 492.0L2352.4 493.1L2346.4 494.3L2340.4 495.5L2334.4 496.7L2328.4 497.9L2322.4 499.1L2316.4 500.6L2310.4 502.3L2304.4 504.4L2298.4 506.8L2292.4 509.1L2286.4 511.5L2280.3 513.9L2274.3 516.3L2268.3 518.7L2262.3 521.0L2256.3 523.0L2250.3 524.6L2244.3 525.9L2238.3 527.1L2232.3 528.3L2226.3 529.5L2220.3 530.7L2214.3 531.9L2208.3 533.1L2202.3 534.1L2196.3 535.0L2190.3 535.7L2184.3 536.3L2178.3 536.9L2172.3 537.5L2166.3 538.1L2160.3 538.7L2154.2 539.3L2148.2 540.0L2142.2 540.9L2136.2 542.0L2130.2 543.1L2124.2 544.3L2118.2 545.5L2112.2 546.7L2106.2 547.9L2100.2 549.1L2094.2 550.3L2088.2 551.5L2082.2 552.7L2076.2 553.9L2070.2 555.1L2064.2 556.3L2058.2 557.5L2052.2 558.7L2046.2 559.9L2040.2 561.1L2034.2 562.2L2028.1 563.3L2022.1 564.2L2016.1 565.1L2010.1 566.0L2004.1 566.9L1998.1 567.8L1992.1 568.7L1986.1 569.6L1980.1 570.2L1974.1 570.6L1968.1 570.6L1962.1 570.4L1956.1 570.1L1950.1 569.8L1944.1 569.5L1938.1 569.2L1932.1 568.9L1926.1 568.7L1920.1 568.7L1914.1 569.0L1908.0 569.5L1902.0 570.1L1896.0 570.7L1890.0 571.3L1884.0 571.9L1878.0 572.5L1872.0 573.2L1866.0 574.1L1860.0 575.4L1854.0 577.0L1848.0 578.8L1842.0 580.6L1836.0 582.4L1830.0 584.2L1824.0 586.0L1818.0 587.9L1812.0 590.0L1806.0 592.7L1800.0 596.0L1794.0 599.7L1788.0 603.5L1781.9 607.3L1775.9 611.1L1769.9 614.9L1763.9 619.2L1757.9 624.9L1751.9 633.1L1745.9 643.9L1739.9 655.9L1733.9 667.5L1727.9 678.0L1721.9 687.4L1715.9 696.1L1709.9 704.2L1703.9 711.8L1697.9 719.5L1691.9 727.3L1685.9 735.0L1679.9 742.2L1673.9 748.6L1667.9 754.5L1661.8 759.9L1655.8 765.1L1649.8 770.3L1643.8 775.6L1637.8 781.1L1631.8 786.8L1625.8 792.7L1619.8 799.2L1613.8 807.0L1607.8 816.6L1601.8 827.6L1595.8 839.4L1589.8 851.4L1583.8 863.4L1577.8 875.4L1571.8 887.4L1565.8 899.4L1559.8 911.4L1553.8 923.4L1547.8 935.0L1541.8 946.0L1535.7 956.2L1529.7 966.0L1523.7 975.7L1517.7 985.6L1511.7 995.8L1505.7 1006.4L1499.7 1017.2L1493.7 1028.0L1487.7 1038.7L1481.7 1049.3L1475.7 1059.8L1469.7 1070.1L1463.7 1080.0L1457.7 1089.4L1451.7 1098.5L1445.7 1107.5L1439.7 1116.5L1433.7 1125.5L1427.7 1134.5L1421.7 1143.5L1415.6 1152.5L1409.6 1161.5L1403.6 1170.4L1397.6 1179.2L1391.6 1188.0L1385.6 1196.4L1379.6 1203.8L1373.6 1208.9L1367.6 1211.5L1361.6 1214.2L1355.6 1222.4L1349.6 1240.3L1343.6 1264.9L1337.6 1287.4L1331.6 1303.0L1325.6 1313.5L1319.6 1322.5L1313.6 1331.4L1307.6 1340.8L1301.6 1351.0L1295.6 1362.1L1289.5 1373.7L1283.5 1385.7L1277.5 1397.9L1271.5 1410.6L1265.5 1424.4L1259.5 1439.0L1253.5 1454.1L1247.5 1468.9L1241.5 1482.7L1235.5 1495.6L1229.5 1508.0L1223.5 1520.6L1217.5 1533.5L1211.5 1546.4L1205.5 1559.4L1199.5 1572.5L1193.5 1585.5L1187.5 1598.4L1181.5 1610.9L1175.5 1622.7L1169.4 1633.3L1163.4 1642.9L1157.4 1651.3L1151.4 1658.6L1145.4 1665.4L1139.4 1672.2L1133.4 1678.9L1127.4 1685.8L1121.4 1692.7L1115.4 1699.6L1109.4 1706.6L1103.4 1713.6L1097.4 1720.8L1091.4 1728.2L1085.4 1735.7L1079.4 1743.2L1073.4 1750.7L1067.4 1758.2L1061.4 1765.5L1055.4 1772.5L1049.4 1778.9L1043.3 1785.1L1037.3 1791.1L1031.3 1797.1L1025.3 1803.1L1019.3 1809.1L1013.3 1814.9L1007.3 1820.4L1001.3 1825.1L995.3 1829.2L989.3 1833.1L983.3 1836.8L977.3 1840.6L971.3 1844.3L965.3 1847.9L959.3 1851.1L953.3 1853.9L947.3 1856.4L941.3 1858.8L935.3 1861.2L929.3 1863.6L923.2 1866.0L917.2 1868.4L911.2 1870.7L905.2 1872.9L899.2 1875.0L893.2 1876.8L887.2 1878.7L881.2 1880.5L875.2 1882.3L869.2 1884.1L863.2 1885.9L857.2 1887.7L851.2 1889.7L845.2 1892.0L839.2 1894.5L833.2 1897.2L827.2 1899.9L821.2 1902.6L815.2 1905.3L809.2 1908.0L803.2 1910.7L797.1 1913.4L791.1 1916.1L785.1 1918.8L779.1 1921.5L773.1 1924.2L767.1 1926.9L761.1 1929.6L755.1 1932.3L749.1 1935.0L743.1 1937.7L737.1 1940.5L731.1 1943.3L725.1 1946.1L719.1 1948.9L713.1 1951.8L707.1 1954.6L701.1 1957.5L695.1 1960.3L689.1 1963.2L683.1 1966.1L677.0 1968.9L671.0 1971.8L665.0 1974.6L659.0 1977.5L653.0 1980.3L647.0 1983.2L641.0 1986.0L635.0 1988.9L629.0 1991.8L623.0 1994.7L617.0 1997.7L611.0 2000.8L605.0 2003.9L599.0 2006.9L593.0 2010.0L587.0 2013.1L581.0 2016.2L575.0 2019.3L569.0 2022.3L563.0 2025.4L557.0 2028.5L550.9 2031.6L544.9 2034.7L538.9 2037.7L532.9 2040.8L526.9 2043.9L520.9 2047.0L514.9 2050.1Z" fill="#9467bd" fill-opacity="0.2" stroke="none"/><path d="M514.9 2019.2L520.9 2016.6L526.9 2014.0L532.9 2011.4L538.9 2008.7L544.9 2006.1L551.0 2003.5L557.0 2000.9L563.0 1998.3L569.0 1995.7L575.0 1993.0L581.0 1990.4L587.0 1987.8L593.0 1985.2L599.0 1982.6L605.0 1979.9L611.0 1977.3L617.0 1974.8L623.0 1972.6L629.0 1970.9L635.0 1969.5L641.0 1968.2L647.1 1967.0L653.1 1965.8L659.1 1964.6L665.1 1963.4L671.1 1962.2L677.1 1961.0L683.1 1959.8L689.1 1958.6L695.1 1957.4L701.1 1956.2L707.1 1955.0L713.1 1953.8L719.1 1952.6L725.1 1951.4L731.1 1950.2L737.1 1949.1L743.2 1948.0L749.2 1946.9L755.2 1945.9L761.2 1944.8L767.2 1943.8L773.2 1942.7L779.2 1941.6L785.2 1940.6L791.2 1939.5L797.2 1938.5L803.2 1937.4L809.2 1936.4L815.2 1935.3L821.2 1934.3L827.2 1933.2L833.2 1932.2L839.3 1931.1L845.3 1930.1L851.3 1929.1L857.3 1928.2L863.3 1927.3L869.3 1926.4L875.3 1925.5L881.3 1924.6L887.3 1923.7L893.3 1922.8L899.3 1921.9L905.3 1921.0L911.3 1920.1L917.3 1919.2L923.3 1918.3L929.4 1917.4L935.4 1916.5L941.4 1915.6L947.4 1914.7L953.4 1913.8L959.4 1912.9L965.4 1911.9L971.4 1910.9L977.4 1909.9L983.4 1908.9L989.4 1907.9L995.4 1906.8L1001.4 1905.5L1007.4 1904.0L1013.4 1902.4L1019.4 1900.8L1025.5 1899.1L1031.5 1897.5L1037.5 1895.8L1043.5 1894.2L1049.5 1892.5L1055.5 1890.9L1061.5 1889.5L1067.5 1888.3L1073.5 1887.2L1079.5 1886.3L1085.5 1885.4L1091.5 1884.5L1097.5 1883.6L1103.5 1882.7L1109.5 1881.8L1115.5 1880.9L1121.6 1880.0L1127.6 1879.1L1133.6 1878.2L1139.6 1877.3L1145.6 1876.4L1151.6 1875.5L1157.6 1874.6L1163.6 1873.7L1169.6 1872.8L1175.6 1871.9L1181.6 1871.0L1187.6 1870.0L1193.6 1869.1L1199.6 1868.0L1205.6 1867.0L1211.6 1865.9L1217.7 1864.9L1223.7 1863.8L1229.7 1862.8L1235.7 1861.7L1241.7 1860.7L1247.7 1859.5L1253.7 1858.3L1259.7 1856.8L1265.7 1855.2L1271.7 1853.6L1277.7 1851.9L1283.7 1850.3L1289.7 1848.6L1295.7 1847.0L1301.7 1845.3L1307.7 1843.7L1313.8 1842.0L1319.8 1840.2L1325.8 1838.5L1331.8 1836.7L1337.8 1834.8L1343.8 1832.9L1349.8 1830.9L1355.8 1828.6L1361.8 1826.3L1367.8 1823.9L1373.8 1821.5L1379.8 1819.0L1385.8 1816.5L1391.8 1813.9L1397.8 1811.3L1403.8 1808.7L1409.9 1806.1L1415.9 1803.5L1421.9 1801.1L1427.9 1799.0L1433.9 1797.3L1439.9 1796.0L1445.9 1794.8L1451.9 1793.6L1457.9 1792.4L1463.9 1791.2L1469.9 1790.2L1475.9 1789.3L1481.9 1788.8L1487.9 1788.4L1493.9 1788.1L1499.9 1787.8L1506.0 1787.5L1512.0 1787.2L1518.0 1786.9L1524.0 1786.6L1530.0 1786.3L1536.0 1785.9L1542.0 1785.4L1548.0 1784.6L1554.0 1783.2L1560.0 1780.9L1566.0 1778.2L1572.0 1775.2L1578.0 1772.1L1584.0 1769.0L1590.0 1765.6L1596.0 1762.1L1602.1 1758.5L1608.1 1754.7L1614.1 1750.3L1620.1 1745.0L1626.1 1738.5L1632.1 1731.3L1638.1 1723.2L1644.1 1714.0L1650.1 1703.8L1656.1 1693.1L1662.1 1682.4L1668.1 1672.0L1674.1 1662.0L1680.1 1652.3L1686.1 1642.8L1692.1 1633.6L1698.2 1625.1L1704.2 1617.3L1710.2 1609.9L1716.2 1602.8L1722.2 1596.1L1728.2 1589.9L1734.2 1584.2L1740.2 1578.8L1746.2 1573.8L1752.2 1570.0L1758.2 1567.9L1764.2 1566.8L1770.2 1566.2L1776.2 1565.5L1782.2 1564.8L1788.2 1563.8L1794.3 1562.1L1800.3 1559.7L1806.3 1557.1L1812.3 1554.2L1818.3 1551.2L1824.3 1547.4L1830.3 1542.6L1836.3 1536.9L1842.3 1531.0L1848.3 1524.9L1854.3 1518.3L1860.3 1509.5L1866.3 1496.4L1872.3 1478.9L1878.3 1460.0L1884.3 1442.5L1890.4 1426.8L1896.4 1412.1L1902.4 1397.8L1908.4 1384.1L1914.4 1370.9L1920.4 1358.1L1926.4 1345.8L1932.4 1333.9L1938.4 1322.4L1944.4 1311.3L1950.4 1300.7L1956.4 1290.9L1962.4 1281.7L1968.4 1272.8L1974.4 1263.9L1980.4 1255.2L1986.5 1246.9L1992.5 1239.2L1998.5 1232.0L2004.5 1225.0L2010.5 1218.1L2016.5 1211.2L2022.5 1204.2L2028.5 1197.1L2034.5 1189.8L2040.5 1182.4L2046.5 1174.9L2052.5 1167.4L2058.5 1159.9L2064.5 1152.3L2070.5 1144.8L2076.6 1137.2L2082.6 1129.5L2088.6 1121.5L2094.6 1113.3L2100.6 1105.0L2106.6 1096.5L2112.6 1087.9L2118.6 1079.4L2124.6 1071.3L2130.6 1064.2L2136.6 1058.7L2142.6 1054.3L2148.6 1050.0L2154.6 1045.5L2160.6 1040.8L2166.6 1036.0L2172.7 1030.9L2178.7 1025.4L2184.7 1019.4L2190.7 1012.9L2196.7 1006.2L2202.7 999.4L2208.7 992.5L2214.7 985.1L2220.7 976.8L2226.7 967.3L2232.7 956.6L2238.7 944.9L2244.7 932.6L2250.7 919.1L2256.7 903.6L2262.7 886.1L2268.8 866.9L2274.8 846.4L2280.8 825.2L2286.8 803.8L2292.8 782.9L2298.8 764.2L2304.8 748.8L2310.8 736.1L2316.8 724.4L2322.8 712.3L2328.8 699.5L2334.8 686.4L2340.8 673.7L2346.8 661.3L2352.8 649.4L2358.8 637.8L2364.9 626.7L2370.9 615.9L2376.9 605.3L2382.9 595.2L2388.9 586.3L2394.9 579.4L2400.9 574.6L2406.9 571.6L2412.9 569.7L2418.9 568.6L2424.9 568.2L2430.9 568.4L2436.9 568.8L2442.9 569.3L2448.9 569.7L2454.9 570.0L2461.0 570.1L2467.0 569.9L2473.0 569.4L2479.0 568.7L2485.0 567.9L2491.0 566.9L2497.0 565.7L2503.0 564.2L2509.0 562.4L2515.0 560.3L2521.0 558.1L2527.0 555.9L2533.0 553.7L2539.0 551.4L2545.0 548.9L2551.0 546.4L2557.1 543.8L2563.1 541.1L2569.1 538.5L2575.1 535.7L2581.1 532.9L2587.1 530.0L2593.1 527.1L2599.1 524.1L2605.1 520.8L2611.1 516.9L2617.1 512.1L2623.1 506.6L2629.1 500.9L2635.1 494.7L2641.1 487.9L2647.1 480.6L2653.2 472.8L2659.2 464.9L2665.2 457.6L2671.2 451.1L2677.2 445.4L2683.2 440.3L2689.2 435.5L2695.2 430.7L2701.2 426.0L2707.2 421.0L2713.2 415.7L2719.2 410.8L2725.2 406.8L2731.2 403.5L2737.2 400.6L2743.2 397.7L2749.3 394.8L2755.3 392.3L2761.3 390.3L2767.3 388.8L2766.7 1506.3L2760.7 1506.3L2754.7 1506.3L2748.7 1506.4L2742.7 1506.6L2736.7 1507.3L2730.7 1508.4L2724.7 1509.8L2718.7 1511.3L2712.7 1513.0L2706.7 1515.0L2700.7 1517.8L2694.7 1521.0L2688.7 1524.6L2682.7 1528.2L2676.7 1531.8L2670.7 1535.4L2664.7 1539.0L2658.7 1542.5L2652.7 1546.0L2646.6 1549.3L2640.6 1552.5L2634.6 1555.5L2628.6 1558.5L2622.6 1561.5L2616.6 1564.5L2610.6 1567.5L2604.6 1570.5L2598.6 1573.5L2592.6 1576.3L2586.6 1578.9L2580.6 1581.3L2574.6 1583.7L2568.6 1586.1L2562.6 1588.5L2556.6 1590.9L2550.6 1593.3L2544.6 1595.7L2538.6 1597.9L2532.6 1600.0L2526.5 1601.9L2520.5 1603.7L2514.5 1605.5L2508.5 1607.3L2502.5 1609.1L2496.5 1610.9L2490.5 1612.7L2484.5 1614.6L2478.5 1616.5L2472.5 1618.6L2466.5 1620.6L2460.5 1622.7L2454.5 1624.8L2448.5 1626.9L2442.5 1629.0L2436.5 1631.1L2430.5 1633.2L2424.5 1635.2L2418.5 1637.2L2412.5 1639.1L2406.5 1641.0L2400.4 1642.8L2394.4 1644.7L2388.4 1646.7L2382.4 1649.1L2376.4 1652.1L2370.4 1655.7L2364.4 1659.6L2358.4 1663.6L2352.4 1667.8L2346.4 1672.5L2340.4 1677.8L2334.4 1683.6L2328.4 1689.6L2322.4 1695.7L2316.4 1702.0L2310.4 1708.7L2304.4 1715.8L2298.4 1723.2L2292.4 1730.5L2286.4 1737.8L2280.3 1744.9L2274.3 1751.9L2268.3 1758.9L2262.3 1765.8L2256.3 1772.4L2250.3 1778.8L2244.3 1784.9L2238.3 1790.9L2232.3 1796.7L2226.3 1801.9L2220.3 1806.1L2214.3 1809.2L2208.3 1811.7L2202.3 1814.0L2196.3 1816.2L2190.3 1818.4L2184.3 1820.4L2178.3 1821.6L2172.3 1821.7L2166.3 1821.0L2160.3 1820.0L2154.2 1819.1L2148.2 1818.5L2142.2 1818.6L2136.2 1819.2L2130.2 1820.3L2124.2 1821.5L2118.2 1822.7L2112.2 1823.9L2106.2 1825.1L2100.2 1826.3L2094.2 1827.4L2088.2 1828.5L2082.2 1829.5L2076.2 1830.5L2070.2 1831.4L2064.2 1832.3L2058.2 1833.2L2052.2 1834.1L2046.2 1835.0L2040.2 1835.8L2034.2 1836.7L2028.1 1837.4L2022.1 1838.0L2016.1 1838.7L2010.1 1839.3L2004.1 1839.9L1998.1 1840.5L1992.1 1841.1L1986.1 1841.7L1980.1 1842.3L1974.1 1842.9L1968.1 1843.5L1962.1 1844.1L1956.1 1844.7L1950.1 1845.3L1944.1 1845.9L1938.1 1846.5L1932.1 1847.1L1926.1 1847.6L1920.1 1848.1L1914.1 1848.5L1908.0 1848.9L1902.0 1849.2L1896.0 1849.5L1890.0 1849.8L1884.0 1850.1L1878.0 1850.4L1872.0 1850.7L1866.0 1851.0L1860.0 1851.3L1854.0 1851.6L1848.0 1851.9L1842.0 1852.2L1836.0 1852.5L1830.0 1852.8L1824.0 1853.1L1818.0 1853.4L1812.0 1853.7L1806.0 1854.0L1800.0 1854.3L1794.0 1854.6L1788.0 1854.9L1781.9 1855.2L1775.9 1855.5L1769.9 1855.8L1763.9 1856.1L1757.9 1856.4L1751.9 1856.8L1745.9 1857.3L1739.9 1857.9L1733.9 1858.5L1727.9 1859.1L1721.9 1859.7L1715.9 1860.3L1709.9 1860.8L1703.9 1861.4L1697.9 1861.8L1691.9 1862.2L1685.9 1862.5L1679.9 1862.7L1673.9 1863.0L1667.9 1863.4L1661.8 1863.8L1655.8 1864.3L1649.8 1864.9L1643.8 1865.5L1637.8 1866.1L1631.8 1866.7L1625.8 1867.3L1619.8 1867.9L1613.8 1868.5L1607.8 1869.1L1601.8 1869.7L1595.8 1870.3L1589.8 1870.9L1583.8 1871.5L1577.8 1872.1L1571.8 1872.8L1565.8 1873.5L1559.8 1874.2L1553.8 1875.0L1547.8 1875.8L1541.8 1876.6L1535.7 1877.4L1529.7 1878.3L1523.7 1879.3L1517.7 1880.6L1511.7 1882.1L1505.7 1883.6L1499.7 1885.2L1493.7 1886.8L1487.7 1888.4L1481.7 1890.1L1475.7 1891.9L1469.7 1894.0L1463.7 1896.3L1457.7 1898.7L1451.7 1901.1L1445.7 1903.5L1439.7 1905.9L1433.7 1908.3L1427.7 1910.5L1421.7 1912.7L1415.6 1914.7L1409.6 1916.7L1403.6 1918.7L1397.6 1920.7L1391.6 1922.7L1385.6 1924.6L1379.6 1926.1L1373.6 1927.2L1367.6 1927.9L1361.6 1928.5L1355.6 1929.1L1349.6 1929.5L1343.6 1929.8L1337.6 1929.9L1331.6 1929.9L1325.6 1929.8L1319.6 1929.6L1313.6 1929.2L1307.6 1928.5L1301.6 1927.6L1295.6 1926.8L1289.5 1925.9L1283.5 1925.2L1277.5 1924.7L1271.5 1924.2L1265.5 1923.8L1259.5 1923.4L1253.5 1923.0L1247.5 1922.7L1241.5 1922.4L1235.5 1922.4L1229.5 1922.5L1223.5 1922.9L1217.5 1923.3L1211.5 1923.7L1205.5 1924.1L1199.5 1924.5L1193.5 1924.9L1187.5 1925.3L1181.5 1925.8L1175.5 1926.2L1169.4 1926.7L1163.4 1927.1L1157.4 1927.6L1151.4 1928.0L1145.4 1928.5L1139.4 1928.9L1133.4 1929.4L1127.4 1929.9L1121.4 1930.4L1115.4 1931.0L1109.4 1931.6L1103.4 1932.2L1097.4 1932.8L1091.4 1933.4L1085.4 1934.0L1079.4 1934.6L1073.4 1935.2L1067.4 1935.9L1061.4 1936.6L1055.4 1937.4L1049.4 1938.3L1043.3 1939.2L1037.3 1940.1L1031.3 1941.0L1025.3 1941.9L1019.3 1942.8L1013.3 1943.7L1007.3 1944.6L1001.3 1945.7L995.3 1946.9L989.3 1948.2L983.3 1949.5L977.3 1950.9L971.3 1952.3L965.3 1953.6L959.3 1954.8L953.3 1955.8L947.3 1956.7L941.3 1957.7L935.3 1958.6L929.3 1959.5L923.2 1960.4L917.2 1961.2L911.2 1962.1L905.2 1962.9L899.2 1963.6L893.2 1964.3L887.2 1964.9L881.2 1965.5L875.2 1966.1L869.2 1966.7L863.2 1967.3L857.2 1967.9L851.2 1968.5L845.2 1969.2L839.2 1969.9L833.2 1970.7L827.2 1971.4L821.2 1972.2L815.2 1972.9L809.2 1973.7L803.2 1974.4L797.1 1975.2L791.1 1975.9L785.1 1976.7L779.1 1977.4L773.1 1978.2L767.1 1978.9L761.1 1979.7L755.1 1980.4L749.1 1981.2L743.1 1981.9L737.1 1982.6L731.1 1983.3L725.1 1983.9L719.1 1984.5L713.1 1985.1L707.1 1985.7L701.1 1986.3L695.1 1986.9L689.1 1987.5L683.1 1988.1L677.0 1988.7L671.0 1989.3L665.0 1989.9L659.0 1990.5L653.0 1991.1L647.0 1991.7L641.0 1992.3L635.0 1993.0L629.0 1993.8L623.0 1994.9L617.0 1996.5L611.0 1998.4L605.0 2000.4L599.0 2002.4L593.0 2004.4L587.0 2006.4L581.0 2008.4L575.0 2010.4L569.0 2012.4L563.0 2014.4L557.0 2016.4L550.9 2018.4L544.9 2020.4L538.9 2022.4L532.9 2024.4L526.9 2026.4L520.9 2028.4L514.9 2030.4Z" fill="#8c564b" fill-opacity="0.2" stroke="none"/><path d="M514.9 1963.2L520.9 1955.5L526.9 1947.8L532.9 1940.1L538.9 1932.4L544.9 1924.7L550.9 1917.0L557.0 1909.4L563.0 1901.7L569.0 1894.0L575.0 1886.3L581.0 1878.8L587.0 1871.6L593.0 1864.7L599.0 1857.9L605.0 1851.2L611.0 1844.6L617.0 1837.9L623.0 1831.2L629.0 1824.4L635.0 1817.3L641.0 1809.8L647.0 1801.9L653.0 1793.9L659.0 1785.9L665.0 1777.5L671.0 1768.6L677.0 1759.1L683.1 1749.2L689.1 1739.2L695.1 1728.9L701.1 1717.9L707.1 1705.5L713.1 1692.2L719.1 1678.3L725.1 1664.3L731.1 1650.2L737.1 1636.1L743.1 1621.8L749.1 1607.4L755.1 1592.8L761.1 1578.0L767.1 1562.4L773.1 1546.1L779.1 1529.3L785.1 1512.1L791.1 1493.7L797.1 1473.5L803.2 1451.7L809.2 1429.2L815.2 1406.2L821.2 1382.7L827.2 1358.8L833.2 1335.2L839.2 1312.5L845.2 1292.0L851.2 1273.8L857.2 1256.9L863.2 1240.0L869.2 1221.7L875.2 1200.1L881.2 1174.6L887.2 1146.8L893.2 1118.4L899.2 1090.1L905.2 1062.0L911.2 1034.0L917.2 1006.3L923.2 979.7L929.3 955.2L935.3 932.9L941.3 912.1L947.3 891.9L953.3 872.8L959.3 855.1L965.3 838.8L971.3 823.1L977.3 808.4L983.3 795.7L989.3 785.8L995.3 777.9L1001.3 770.6L1007.3 763.6L1013.3 756.9L1019.3 750.7L1025.3 744.6L1031.3 738.6L1037.3 732.9L1043.3 727.5L1049.4 722.3L1055.4 717.3L1061.4 712.2L1067.4 707.1L1073.4 701.7L1079.4 696.0L1085.4 690.1L1091.4 684.1L1097.4 678.2L1103.4 672.6L1109.4 667.4L1115.4 662.8L1121.4 658.4L1127.4 654.1L1133.4 649.8L1139.4 645.4L1145.4 640.5L1151.4 635.1L1157.4 629.2L1163.4 623.1L1169.4 616.4L1175.5 608.7L1181.5 599.7L1187.5 590.0L1193.5 580.0L1199.5 570.1L1205.5 560.7L1211.5 551.8L1217.5 543.5L1223.5 535.4L1229.5 527.4L1235.5 519.8L1241.5 512.8L1247.5 506.8L1253.5 501.4L1259.5 496.2L1265.5 491.1L1271.5 486.1L1277.5 481.7L1283.5 478.1L1289.5 475.4L1295.6 473.1L1301.6 470.9L1307.6 468.8L1313.6 466.7L1319.6 464.8L1325.6 463.1L1331.6 461.5L1337.6 460.0L1343.6 458.5L1349.6 457.0L1355.6 455.6L1361.6 454.4L1367.6 453.6L1373.6 453.2L1379.6 453.0L1385.6 452.8L1391.6 452.7L1397.6 452.5L1403.6 452.4L1409.6 452.2L1415.6 452.1L1421.7 452.0L1427.7 451.9L1433.7 452.1L1439.7 452.4L1445.7 452.8L1451.7 453.3L1457.7 453.8L1463.7 454.3L1469.7 454.7L1475.7 455.2L1481.7 455.6L1487.7 455.7L1493.7 455.4L1499.7 454.9L1505.7 454.3L1511.7 453.7L1517.7 453.1L1523.7 452.5L1529.7 451.9L1535.7 451.2L1541.8 450.2L1547.8 448.7L1553.8 446.7L1559.8 444.5L1565.8 442.2L1571.8 440.0L1577.8 437.8L1583.8 435.6L1589.8 433.6L1595.8 431.8L1601.8 430.1L1607.8 428.5L1613.8 426.8L1619.8 425.2L1625.8 423.6L1631.8 422.0L1637.8 420.5L1643.8 419.1L1649.8 417.8L1655.8 416.6L1661.8 415.4L1667.9 414.2L1673.9 413.0L1679.9 411.8L1685.9 410.6L1691.9 409.5L1697.9 408.6L1703.9 408.0L1709.9 407.5L1715.9 407.0L1721.9 406.5L1727.9 406.1L1733.9 405.6L1739.9 405.1L1745.9 404.7L1751.9 404.2L1757.9 403.8L1763.9 403.4L1769.9 403.3L1775.9 403.3L1781.9 403.6L1788.0 403.9L1794.0 404.2L1800.0 404.5L1806.0 404.8L1812.0 405.1L1818.0 405.3L1824.0 405.6L1830.0 405.7L1836.0 405.7L1842.0 405.7L1848.0 405.7L1854.0 405.7L1860.0 405.7L1866.0 405.7L1872.0 405.7L1878.0 405.7L1884.0 405.7L1890.0 405.6L1896.0 405.5L1902.0 405.2L1908.0 404.9L1914.1 404.6L1920.1 404.3L1926.1 404.0L1932.1 403.7L1938.1 403.4L1944.1 403.1L1950.1 402.6L1956.1 402.1L1962.1 401.5L1968.1 400.9L1974.1 400.3L1980.1 399.7L1986.1 399.1L1992.1 398.5L1998.1 398.0L2004.1 397.5L2010.1 397.2L2016.1 396.9L2022.1 396.7L2028.1 396.5L2034.2 396.3L2040.2 396.1L2046.2 395.9L2052.2 395.7L2058.2 395.5L2064.2 395.3L2070.2 395.1L2076.2 394.9L2082.2 394.7L2088.2 394.5L2094.2 394.3L2100.2 394.1L2106.2 393.9L2112.2 393.7L2118.2 393.5L2124.2 393.3L2130.2 393.1L2136.2 392.9L2142.2 392.7L2148.2 392.5L2154.2 392.3L2160.3 392.1L2166.3 391.9L2172.3 391.7L2178.3 391.6L2184.3 391.5L2190.3 391.4L2196.3 391.2L2202.3 391.1L2208.3 391.0L2214.3 390.9L2220.3 390.8L2226.3 390.6L2232.3 390.5L2238.3 390.4L2244.3 390.3L2250.3 390.1L2256.3 390.0L2262.3 389.9L2268.3 389.7L2274.3 389.6L2280.3 389.4L2286.4 389.2L2292.4 389.1L2298.4 388.9L2304.4 388.8L2310.4 388.6L2316.4 388.4L2322.4 388.3L2328.4 388.1L2334.4 387.9L2340.4 387.7L2346.4 387.4L2352.4 387.0L2358.4 386.6L2364.4 386.2L2370.4 385.8L2376.4 385.4L2382.4 385.0L2388.4 384.6L2394.4 384.2L2400.4 383.8L2406.5 383.4L2412.5 383.0L2418.5 382.6L2424.5 382.2L2430.5 381.9L2436.5 381.6L2442.5 381.2L2448.5 380.9L2454.5 380.6L2460.5 380.3L2466.5 380.0L2472.5 379.6L2478.5 379.3L2484.5 379.0L2490.5 378.7L2496.5 378.4L2502.5 378.0L2508.5 377.8L2514.5 377.5L2520.5 377.3L2526.5 377.1L2532.6 376.9L2538.6 376.7L2544.6 376.5L2550.6 376.3L2556.6 376.1L2562.6 375.9L2568.6 375.7L2574.6 375.5L2580.6 375.3L2586.6 375.1L2592.6 375.1L2598.6 375.1L2604.6 375.3L2610.6 375.5L2616.6 375.7L2622.6 375.9L2628.6 376.1L2634.6 376.3L2640.6 376.5L2646.6 376.7L2652.7 376.9L2658.7 377.1L2664.7 377.3L2670.7 377.5L2676.7 377.7L2682.7 378.0L2688.7 378.3L2694.7 378.6L2700.7 378.9L2706.7 379.2L2712.7 379.5L2718.7 379.8L2724.7 380.1L2730.7 380.4L2736.7 380.8L2742.7 381.3L2748.7 381.8L2754.7 382.3L2760.7 382.8L2766.7 383.3L2766.7 450.6L2760.7 450.0L2754.7 449.4L2748.7 448.9L2742.7 448.3L2736.7 447.8L2730.7 447.2L2724.7 446.6L2718.7 446.1L2712.7 445.5L2706.7 444.9L2700.7 444.4L2694.7 443.8L2688.7 443.3L2682.7 442.7L2676.7 442.3L2670.7 442.0L2664.7 441.7L2658.7 441.5L2652.7 441.3L2646.6 441.1L2640.6 440.9L2634.6 440.7L2628.6 440.5L2622.6 440.3L2616.6 440.1L2610.6 439.9L2604.6 439.7L2598.6 439.6L2592.6 439.5L2586.6 439.5L2580.6 439.7L2574.6 439.8L2568.6 440.0L2562.6 440.1L2556.6 440.3L2550.6 440.4L2544.6 440.6L2538.6 440.7L2532.6 440.9L2526.5 441.0L2520.5 441.2L2514.5 441.3L2508.5 441.5L2502.5 441.6L2496.5 441.8L2490.5 441.9L2484.5 442.1L2478.5 442.3L2472.5 442.6L2466.5 442.9L2460.5 443.2L2454.5 443.5L2448.5 443.8L2442.5 444.1L2436.5 444.4L2430.5 444.7L2424.5 445.0L2418.5 445.3L2412.5 445.6L2406.5 445.9L2400.4 446.2L2394.4 446.5L2388.4 446.8L2382.4 447.1L2376.4 447.4L2370.4 447.7L2364.4 448.1L2358.4 448.4L2352.4 448.8L2346.4 449.2L2340.4 449.6L2334.4 450.0L2328.4 450.4L2322.4 450.8L2316.4 451.2L2310.4 451.6L2304.4 451.9L2298.4 452.3L2292.4 452.7L2286.4 453.1L2280.3 453.5L2274.3 453.9L2268.3 454.3L2262.3 454.6L2256.3 454.9L2250.3 455.1L2244.3 455.3L2238.3 455.4L2232.3 455.5L2226.3 455.7L2220.3 455.8L2214.3 455.9L2208.3 456.0L2202.3 456.2L2196.3 456.4L2190.3 456.7L2184.3 457.0L2178.3 457.3L2172.3 457.6L2166.3 457.9L2160.3 458.2L2154.2 458.5L2148.2 458.8L2142.2 459.1L2136.2 459.4L2130.2 459.7L2124.2 460.0L2118.2 460.3L2112.2 460.6L2106.2 460.9L2100.2 461.2L2094.2 461.5L2088.2 462.0L2082.2 462.6L2076.2 463.3L2070.2 464.0L2064.2 464.7L2058.2 465.4L2052.2 466.1L2046.2 466.9L2040.2 467.7L2034.2 468.7L2028.1 470.2L2022.1 471.9L2016.1 473.9L2010.1 475.9L2004.1 477.8L1998.1 479.8L1992.1 481.8L1986.1 483.8L1980.1 485.6L1974.1 487.4L1968.1 489.0L1962.1 490.6L1956.1 492.1L1950.1 493.6L1944.1 495.0L1938.1 496.4L1932.1 497.2L1926.1 497.3L1920.1 496.9L1914.1 496.3L1908.0 495.6L1902.0 494.9L1896.0 494.3L1890.0 493.6L1884.0 492.9L1878.0 492.2L1872.0 491.4L1866.0 490.7L1860.0 489.9L1854.0 489.1L1848.0 488.3L1842.0 487.5L1836.0 486.8L1830.0 486.0L1824.0 485.4L1818.0 485.0L1812.0 484.6L1806.0 484.3L1800.0 484.0L1794.0 483.6L1788.0 483.3L1781.9 483.0L1775.9 482.7L1769.9 482.4L1763.9 482.0L1757.9 481.8L1751.9 481.8L1745.9 482.1L1739.9 482.6L1733.9 483.2L1727.9 483.8L1721.9 484.4L1715.9 485.0L1709.9 485.6L1703.9 486.2L1697.9 486.9L1691.9 487.7L1685.9 488.5L1679.9 489.4L1673.9 490.3L1667.9 491.2L1661.8 492.1L1655.8 493.0L1649.8 493.9L1643.8 494.7L1637.8 495.2L1631.8 495.6L1625.8 495.7L1619.8 495.9L1613.8 496.0L1607.8 496.2L1601.8 496.4L1595.8 496.7L1589.8 497.3L1583.8 498.0L1577.8 498.9L1571.8 499.7L1565.8 500.6L1559.8 501.5L1553.8 502.3L1547.8 503.2L1541.8 504.0L1535.7 504.8L1529.7 505.6L1523.7 506.4L1517.7 507.2L1511.7 508.0L1505.7 508.7L1499.7 509.5L1493.7 510.2L1487.7 510.7L1481.7 510.9L1475.7 510.8L1469.7 510.7L1463.7 510.6L1457.7 510.5L1451.7 510.3L1445.7 510.2L1439.7 510.1L1433.7 510.0L1427.7 509.8L1421.7 509.8L1415.6 510.3L1409.6 512.5L1403.6 516.4L1397.6 520.5L1391.6 523.4L1385.6 525.2L1379.6 526.9L1373.6 528.8L1367.6 531.6L1361.6 535.1L1355.6 539.1L1349.6 543.2L1343.6 547.4L1337.6 551.7L1331.6 556.1L1325.6 560.6L1319.6 565.1L1313.6 569.4L1307.6 573.5L1301.6 577.3L1295.6 581.0L1289.5 584.6L1283.5 588.2L1277.5 591.8L1271.5 595.4L1265.5 599.1L1259.5 603.0L1253.5 607.1L1247.5 611.2L1241.5 615.1L1235.5 618.5L1229.5 621.4L1223.5 624.1L1217.5 626.7L1211.5 629.6L1205.5 633.0L1199.5 637.2L1193.5 642.4L1187.5 649.0L1181.5 657.3L1175.5 667.6L1169.4 679.8L1163.4 693.3L1157.4 707.5L1151.4 722.4L1145.4 738.2L1139.4 755.2L1133.4 773.0L1127.4 791.5L1121.4 810.8L1115.4 831.0L1109.4 851.9L1103.4 873.3L1097.4 895.3L1091.4 917.7L1085.4 940.5L1079.4 963.4L1073.4 986.6L1067.4 1010.2L1061.4 1034.0L1055.4 1058.0L1049.4 1081.7L1043.3 1105.1L1037.3 1127.9L1031.3 1150.4L1025.3 1172.8L1019.3 1195.0L1013.3 1216.7L1007.3 1237.5L1001.3 1257.2L995.3 1275.8L989.3 1294.0L983.3 1312.0L977.3 1329.9L971.3 1347.5L965.3 1364.6L959.3 1381.1L953.3 1397.1L947.3 1412.2L941.3 1426.1L935.3 1439.0L929.3 1451.2L923.2 1463.3L917.2 1475.3L911.2 1487.2L905.2 1498.7L899.2 1509.6L893.2 1519.7L887.2 1529.2L881.2 1538.3L875.2 1547.1L869.2 1555.4L863.2 1563.2L857.2 1570.7L851.2 1578.0L845.2 1585.1L839.2 1592.0L833.2 1598.9L827.2 1606.1L821.2 1613.9L815.2 1622.3L809.2 1631.1L803.2 1639.9L797.1 1648.4L791.1 1656.6L785.1 1664.5L779.1 1671.5L773.1 1677.3L767.1 1682.6L761.1 1688.4L755.1 1695.9L749.1 1704.9L743.1 1714.6L737.1 1724.6L731.1 1734.8L725.1 1745.5L719.1 1756.8L713.1 1768.4L707.1 1779.3L701.1 1788.5L695.1 1795.6L689.1 1801.4L683.1 1806.9L677.0 1812.2L671.0 1817.5L665.0 1822.9L659.0 1828.2L653.0 1833.5L647.0 1838.9L641.0 1844.2L635.0 1849.6L629.0 1854.9L623.0 1860.2L617.0 1865.6L611.0 1871.0L605.0 1876.6L599.0 1882.5L593.0 1888.8L587.0 1895.4L581.0 1901.9L575.0 1908.5L569.0 1915.1L563.0 1921.7L557.0 1928.3L550.9 1934.9L544.9 1941.4L538.9 1948.0L532.9 1954.6L526.9 1961.2L520.9 1967.8L514.9 1974.4Z" fill="#e377c2" fill-opacity="0.2" stroke="none"/><path d="M514.9 1957.6L520.9 1949.3L526.9 1941.1L532.9 1932.9L538.9 1924.7L544.9 1916.5L550.9 1908.3L557.0 1900.1L563.0 1892.1L569.0 1884.4L575.0 1877.4L581.0 1870.6L587.0 1864.0L593.0 1857.4L599.0 1850.8L605.0 1844.2L611.0 1837.6L617.0 1830.9L623.0 1824.3L629.0 1817.5L635.0 1810.7L641.0 1803.8L647.0 1796.9L653.0 1789.9L659.0 1782.4L665.0 1773.8L671.0 1763.9L677.0 1753.2L683.1 1742.3L689.1 1731.2L695.1 1719.9L701.1 1708.4L707.1 1696.5L713.1 1684.6L719.1 1672.6L725.1 1660.5L731.1 1648.5L737.1 1636.5L743.1 1624.5L749.1 1612.5L755.1 1600.5L761.1 1588.5L767.1 1576.5L773.1 1564.5L779.1 1552.5L785.1 1540.6L791.1 1529.2L797.1 1518.4L803.2 1508.1L809.2 1498.0L815.2 1488.1L821.2 1478.5L827.2 1469.7L833.2 1462.0L839.2 1454.9L845.2 1448.0L851.2 1441.1L857.2 1434.5L863.2 1428.5L869.2 1423.5L875.2 1419.5L881.2 1415.9L887.2 1412.5L893.2 1409.1L899.2 1405.8L905.2 1402.9L911.2 1400.5L917.2 1398.4L923.2 1396.3L929.3 1394.2L935.3 1391.7L941.3 1388.4L947.3 1384.3L953.3 1379.2L959.3 1372.2L965.3 1362.4L971.3 1350.1L977.3 1336.7L983.3 1322.7L989.3 1308.2L995.3 1293.4L1001.3 1278.9L1007.3 1265.2L1013.3 1252.4L1019.3 1240.1L1025.3 1227.9L1031.3 1215.0L1037.3 1201.1L1043.3 1186.3L1049.4 1171.1L1055.4 1156.0L1061.4 1141.4L1067.4 1127.6L1073.4 1114.3L1079.4 1101.3L1085.4 1088.4L1091.4 1075.8L1097.4 1063.8L1103.4 1052.4L1109.4 1041.5L1115.4 1030.8L1121.4 1020.5L1127.4 1010.7L1133.4 1001.4L1139.4 992.3L1145.4 983.3L1151.4 974.6L1157.4 966.2L1163.4 958.5L1169.4 951.1L1175.5 943.7L1181.5 935.8L1187.5 927.0L1193.5 917.2L1199.5 906.7L1205.5 895.5L1211.5 883.5L1217.5 870.7L1223.5 857.6L1229.5 844.1L1235.5 830.1L1241.5 815.2L1247.5 799.9L1253.5 784.4L1259.5 769.5L1265.5 755.5L1271.5 742.7L1277.5 730.8L1283.5 720.3L1289.5 711.5L1295.6 704.5L1301.6 698.7L1307.6 694.3L1313.6 691.6L1319.6 690.2L1325.6 689.3L1331.6 688.5L1337.6 687.8L1343.6 687.4L1349.6 687.2L1355.6 687.0L1361.6 686.5L1367.6 685.3L1373.6 683.5L1379.6 681.5L1385.6 679.3L1391.6 677.3L1397.6 676.0L1403.6 675.6L1409.6 675.8L1415.6 676.3L1421.7 676.8L1427.7 677.3L1433.7 677.8L1439.7 678.3L1445.7 678.8L1451.7 679.3L1457.7 679.9L1463.7 680.8L1469.7 682.2L1475.7 684.0L1481.7 685.9L1487.7 687.9L1493.7 689.9L1499.7 691.7L1505.7 693.3L1511.7 694.7L1517.7 695.8L1523.7 696.2L1529.7 696.0L1535.7 695.4L1541.8 694.6L1547.8 693.9L1553.8 693.1L1559.8 692.1L1565.8 690.5L1571.8 688.0L1577.8 684.8L1583.8 681.4L1589.8 678.0L1595.8 674.6L1601.8 671.0L1607.8 667.4L1613.8 663.6L1619.8 659.8L1625.8 655.9L1631.8 651.6L1637.8 646.3L1643.8 639.3L1649.8 630.7L1655.8 621.4L1661.8 611.8L1667.9 602.2L1673.9 592.6L1679.9 583.0L1685.9 573.4L1691.9 563.9L1697.9 554.5L1703.9 545.4L1709.9 536.3L1715.9 527.4L1721.9 518.9L1727.9 512.0L1733.9 507.6L1739.9 505.3L1745.9 504.0L1751.9 502.9L1757.9 501.9L1763.9 500.9L1769.9 499.9L1775.9 498.8L1781.9 497.7L1788.0 496.4L1794.0 495.0L1800.0 493.6L1806.0 492.2L1812.0 490.8L1818.0 489.4L1824.0 488.0L1830.0 486.6L1836.0 485.2L1842.0 483.8L1848.0 482.4L1854.0 481.1L1860.0 480.1L1866.0 479.8L1872.0 480.3L1878.0 481.2L1884.0 482.3L1890.0 483.4L1896.0 484.6L1902.0 486.0L1908.0 488.1L1914.1 491.3L1920.1 495.3L1926.1 499.7L1932.1 504.1L1938.1 507.9L1944.1 510.6L1950.1 511.8L1956.1 512.2L1962.1 512.2L1968.1 512.2L1974.1 512.2L1980.1 512.2L1986.1 512.2L1992.1 512.2L1998.1 512.2L2004.1 512.2L2010.1 512.2L2016.1 512.2L2022.1 512.3L2028.1 512.5L2034.2 513.0L2040.2 513.9L2046.2 515.0L2052.2 516.2L2058.2 517.4L2064.2 518.6L2070.2 519.8L2076.2 521.1L2082.2 522.7L2088.2 525.4L2094.2 529.8L2100.2 535.3L2106.2 541.2L2112.2 547.3L2118.2 553.5L2124.2 560.2L2130.2 567.4L2136.2 574.8L2142.2 582.3L2148.2 589.8L2154.2 597.2L2160.3 604.4L2166.3 610.9L2172.3 616.2L2178.3 620.6L2184.3 624.7L2190.3 628.5L2196.3 632.0L2202.3 634.5L2208.3 635.9L2214.3 636.7L2220.3 637.1L2226.3 637.1L2232.3 635.8L2238.3 632.2L2244.3 626.6L2250.3 620.1L2256.3 612.9L2262.3 605.4L2268.3 597.5L2274.3 589.5L2280.3 581.8L2286.4 575.1L2292.4 570.3L2298.4 567.7L2304.4 566.3L2310.4 565.4L2316.4 564.6L2322.4 563.7L2328.4 562.8L2334.4 562.0L2340.4 561.1L2346.4 560.3L2352.4 559.4L2358.4 558.5L2364.4 557.6L2370.4 556.6L2376.4 555.5L2382.4 554.3L2388.4 553.1L2394.4 551.9L2400.4 550.7L2406.5 549.5L2412.5 548.3L2418.5 547.1L2424.5 545.9L2430.5 544.7L2436.5 543.5L2442.5 542.3L2448.5 541.1L2454.5 539.9L2460.5 538.7L2466.5 537.5L2472.5 536.3L2478.5 535.1L2484.5 533.9L2490.5 532.7L2496.5 531.5L2502.5 530.3L2508.5 529.1L2514.5 527.9L2520.5 526.7L2526.5 525.5L2532.6 524.3L2538.6 523.1L2544.6 521.9L2550.6 520.7L2556.6 519.5L2562.6 518.3L2568.6 517.1L2574.6 515.9L2580.6 514.7L2586.6 513.6L2592.6 512.6L2598.6 511.7L2604.6 511.1L2610.6 510.5L2616.6 509.9L2622.6 509.3L2628.6 508.7L2634.6 508.1L2640.6 507.4L2646.6 506.7L2652.7 505.8L2658.7 504.7L2664.7 503.5L2670.7 502.3L2676.7 501.1L2682.7 499.9L2688.7 498.7L2694.7 497.5L2700.7 496.3L2706.7 495.2L2712.7 494.0L2718.7 492.9L2724.7 491.8L2730.7 490.8L2736.7 489.7L2742.7 488.6L2748.7 487.5L2754.7 486.4L2760.7 485.3L2766.7 484.2L2766.7 573.9L2760.7 575.9L2754.7 577.9L2748.7 579.9L2742.7 582.0L2736.7 584.4L2730.7 587.5L2724.7 591.1L2718.7 595.2L2712.7 599.1L2706.7 602.5L2700.7 604.8L2694.7 606.3L2688.7 607.4L2682.7 608.4L2676.7 609.3L2670.7 609.7L2664.7 609.8L2658.6 609.5L2652.6 609.2L2646.6 608.8L2640.6 608.4L2634.6 608.1L2628.6 607.9L2622.6 607.9L2616.6 608.2L2610.6 608.5L2604.6 608.9L2598.6 609.3L2592.6 609.7L2586.6 610.0L2580.6 610.4L2574.6 610.8L2568.6 611.2L2562.6 611.5L2556.6 611.9L2550.5 612.3L2544.5 612.8L2538.5 613.5L2532.5 614.6L2526.5 616.2L2520.5 617.8L2514.5 619.5L2508.5 621.4L2502.5 623.7L2496.5 627.1L2490.5 631.9L2484.5 637.6L2478.5 643.4L2472.5 649.0L2466.5 654.0L2460.5 658.4L2454.5 662.5L2448.5 666.5L2442.4 670.4L2436.4 674.3L2430.4 677.9L2424.4 681.4L2418.4 684.8L2412.4 688.3L2406.4 691.7L2400.4 694.9L2394.4 697.9L2388.4 700.6L2382.4 703.2L2376.4 705.6L2370.4 707.7L2364.4 708.7L2358.4 707.9L2352.4 705.7L2346.4 702.8L2340.4 699.8L2334.3 696.9L2328.3 694.0L2322.3 691.4L2316.3 689.2L2310.3 687.1L2304.3 685.1L2298.3 683.3L2292.3 682.1L2286.3 681.7L2280.3 682.2L2274.3 683.1L2268.3 684.1L2262.3 685.4L2256.3 687.5L2250.3 690.5L2244.3 694.3L2238.3 698.2L2232.3 702.0L2226.3 705.1L2220.2 707.0L2214.2 707.5L2208.2 707.3L2202.2 706.9L2196.2 706.5L2190.2 706.1L2184.2 705.7L2178.2 705.2L2172.2 704.8L2166.2 704.4L2160.2 703.9L2154.2 703.3L2148.2 702.2L2142.2 700.0L2136.2 696.6L2130.2 692.5L2124.2 688.3L2118.2 684.0L2112.1 679.9L2106.1 676.1L2100.1 672.9L2094.1 670.1L2088.1 667.4L2082.1 664.9L2076.1 662.2L2070.1 659.4L2064.1 656.2L2058.1 652.6L2052.1 648.7L2046.1 644.7L2040.1 640.9L2034.1 637.6L2028.1 635.2L2022.1 633.6L2016.1 632.4L2010.1 632.0L2004.0 633.3L1998.0 637.0L1992.0 642.4L1986.0 648.4L1980.0 654.8L1974.0 661.7L1968.0 669.2L1962.0 677.1L1956.0 685.1L1950.0 693.4L1944.0 702.6L1938.0 713.0L1932.0 724.4L1926.0 736.3L1920.0 748.3L1914.0 760.3L1908.0 772.3L1902.0 784.3L1895.9 796.3L1889.9 808.3L1883.9 820.1L1877.9 831.1L1871.9 840.8L1865.9 849.4L1859.9 857.3L1853.9 865.0L1847.9 872.7L1841.9 880.0L1835.9 886.3L1829.9 891.2L1823.9 895.1L1817.9 898.6L1811.9 901.3L1805.9 902.8L1799.9 902.9L1793.9 902.2L1787.8 901.2L1781.8 900.3L1775.8 899.4L1769.8 898.7L1763.8 898.1L1757.8 897.6L1751.8 897.3L1745.8 897.3L1739.8 898.4L1733.8 900.7L1727.8 903.9L1721.8 907.4L1715.8 911.2L1709.8 915.7L1703.8 921.6L1697.8 928.7L1691.8 936.5L1685.8 944.5L1679.8 952.6L1673.7 961.0L1667.7 969.6L1661.7 978.5L1655.7 987.5L1649.7 996.2L1643.7 1003.7L1637.7 1009.0L1631.7 1011.7L1625.7 1012.7L1619.7 1012.6L1613.7 1011.7L1607.7 1010.3L1601.7 1008.8L1595.7 1007.0L1589.7 1004.2L1583.7 1000.0L1577.7 994.6L1571.7 988.8L1565.6 982.8L1559.6 976.8L1553.6 970.8L1547.6 965.2L1541.6 961.0L1535.6 959.3L1529.6 960.5L1523.6 963.4L1517.6 966.7L1511.6 970.2L1505.6 973.7L1499.6 977.4L1493.6 981.5L1487.6 985.9L1481.6 990.4L1475.6 994.9L1469.6 999.4L1463.6 1003.8L1457.5 1008.0L1451.5 1011.8L1445.5 1015.2L1439.5 1018.3L1433.5 1021.3L1427.5 1024.3L1421.5 1027.3L1415.5 1030.3L1409.5 1033.3L1403.5 1036.3L1397.5 1039.3L1391.5 1042.3L1385.5 1045.3L1379.5 1048.3L1373.5 1051.4L1367.5 1054.5L1361.5 1057.9L1355.5 1061.5L1349.4 1065.2L1343.4 1068.9L1337.4 1072.7L1331.4 1076.5L1325.4 1080.3L1319.4 1084.3L1313.4 1088.5L1307.4 1093.0L1301.4 1097.5L1295.4 1102.0L1289.4 1106.5L1283.4 1111.1L1277.4 1115.9L1271.4 1121.2L1265.4 1126.8L1259.4 1132.8L1253.4 1138.8L1247.4 1144.8L1241.3 1150.8L1235.3 1156.9L1229.3 1163.1L1223.3 1169.5L1217.3 1176.0L1211.3 1182.6L1205.3 1189.3L1199.3 1195.9L1193.3 1202.9L1187.3 1210.9L1181.3 1220.9L1175.3 1232.6L1169.3 1245.2L1163.3 1258.0L1157.3 1270.8L1151.3 1283.2L1145.3 1294.2L1139.3 1303.4L1133.2 1311.4L1127.2 1319.0L1121.2 1326.5L1115.2 1334.0L1109.2 1341.3L1103.2 1348.2L1097.2 1354.3L1091.2 1359.6L1085.2 1364.5L1079.2 1369.4L1073.2 1374.2L1067.2 1379.0L1061.2 1383.8L1055.2 1388.6L1049.2 1393.8L1043.2 1399.4L1037.2 1405.7L1031.2 1412.4L1025.2 1419.3L1019.1 1426.5L1013.1 1434.1L1007.1 1441.8L1001.1 1449.4L995.1 1456.4L989.1 1462.6L983.1 1468.0L977.1 1472.7L971.1 1476.7L965.1 1480.1L959.1 1483.2L953.1 1486.3L947.1 1489.4L941.1 1492.6L935.1 1495.9L929.1 1499.1L923.1 1501.9L917.1 1504.2L911.0 1506.0L905.0 1507.8L899.0 1510.0L893.0 1513.1L887.0 1516.7L881.0 1520.7L875.0 1525.4L869.0 1531.0L863.0 1537.4L857.0 1544.8L851.0 1553.2L845.0 1561.9L839.0 1570.5L833.0 1578.6L827.0 1586.4L821.0 1593.8L815.0 1600.8L809.0 1607.4L802.9 1613.9L796.9 1621.6L790.9 1632.3L784.9 1646.7L778.9 1663.1L772.9 1679.3L766.9 1692.4L760.9 1700.0L754.9 1702.4L748.9 1702.8L742.9 1705.1L736.9 1712.3L730.9 1724.9L724.9 1739.9L718.9 1753.9L712.9 1765.6L706.9 1775.5L700.9 1784.2L694.8 1791.7L688.8 1798.6L682.8 1805.0L676.8 1811.2L670.8 1816.9L664.8 1822.4L658.8 1827.8L652.8 1833.1L646.8 1838.4L640.8 1843.6L634.8 1848.8L628.8 1854.0L622.8 1859.3L616.8 1864.7L610.8 1870.2L604.8 1875.8L598.8 1881.4L592.8 1887.0L586.7 1892.8L580.7 1898.8L574.7 1905.1L568.7 1911.4L562.7 1917.8L556.7 1924.3L550.7 1930.7L544.7 1937.3L538.7 1943.8L532.7 1950.5L526.7 1957.1L520.7 1963.7L514.7 1970.3Z" fill="#7f7f7f" fill-opacity="0.2" stroke="none"/><path d="M868.71 288V2136M1343.35 288V2136M1817.99 288V2136M2292.63 288V2136M2767.27 288V2136M400 2076.00H2880M400 1742.40H2880M400 1408.80H2880M400 1075.20H2880M400 741.60H2880M400 408.00H2880" stroke="#b0b0b0" stroke-width="5.556" fill="none" stroke-linecap="square"/><path d="M514.9 2036.0L520.9 2032.9L526.9 2029.7L532.9 2026.6L538.9 2023.4L544.9 2020.2L550.9 2017.1L557.0 2014.0L563.0 2011.3L569.0 2009.3L575.0 2008.4L581.0 2008.1L587.0 2007.6L593.0 2006.8L599.0 2005.9L605.0 2005.0L611.0 2004.1L617.0 2003.1L623.0 2002.2L629.0 2001.3L635.0 2000.5L641.0 1999.8L647.0 1999.1L653.0 1998.6L659.0 1998.0L665.0 1997.4L671.0 1996.8L677.0 1996.2L683.1 1995.6L689.1 1994.9L695.1 1994.1L701.1 1993.2L707.1 1992.2L713.1 1991.2L719.1 1990.2L725.1 1989.3L731.1 1988.3L737.1 1987.3L743.1 1986.3L749.1 1985.3L755.1 1984.4L761.1 1983.4L767.1 1982.5L773.1 1981.5L779.1 1980.6L785.1 1979.6L791.1 1978.7L797.1 1977.7L803.2 1976.7L809.2 1975.7L815.2 1974.7L821.2 1973.6L827.2 1972.6L833.2 1971.6L839.2 1970.6L845.2 1969.6L851.2 1968.6L857.2 1967.6L863.2 1966.7L869.2 1965.9L875.2 1965.0L881.2 1964.1L887.2 1963.3L893.2 1962.4L899.2 1961.6L905.2 1960.8L911.2 1960.1L917.2 1959.4L923.2 1958.9L929.3 1958.3L935.3 1957.7L941.3 1957.2L947.3 1956.6L953.3 1956.1L959.3 1955.6L965.3 1955.2L971.3 1955.1L977.3 1955.0L983.3 1955.0L989.3 1954.9L995.3 1954.9L1001.3 1954.8L1007.3 1954.8L1013.3 1954.9L1019.3 1955.0L1025.3 1955.2L1031.3 1955.5L1037.3 1955.8L1043.3 1956.1L1049.4 1956.4L1055.4 1956.7L1061.4 1957.0L1067.4 1957.3L1073.4 1957.6L1079.4 1957.9L1085.4 1958.2L1091.4 1958.5L1097.4 1958.8L1103.4 1959.1L1109.4 1959.4L1115.4 1959.7L1121.4 1960.0L1127.4 1960.2L1133.4 1960.3L1139.4 1960.3L1145.4 1960.4L1151.4 1960.4L1157.4 1960.4L1163.4 1960.4L1169.4 1960.4L1175.5 1960.4L1181.5 1960.4L1187.5 1960.4L1193.5 1960.4L1199.5 1960.4L1205.5 1960.4L1211.5 1960.4L1217.5 1960.4L1223.5 1960.4L1229.5 1960.4L1235.5 1960.4L1241.5 1960.4L1247.5 1960.4L1253.5 1960.4L1259.5 1960.4L1265.5 1960.4L1271.5 1960.4L1277.5 1960.4L1283.5 1960.4L1289.5 1960.4L1295.6 1960.3L1301.6 1960.2L1307.6 1960.1L1313.6 1960.0L1319.6 1959.9L1325.6 1959.8L1331.6 1959.7L1337.6 1959.5L1343.6 1959.4L1349.6 1959.3L1355.6 1959.1L1361.6 1959.0L1367.6 1958.8L1373.6 1958.6L1379.6 1958.4L1385.6 1958.3L1391.6 1958.1L1397.6 1957.9L1403.6 1957.8L1409.6 1957.7L1415.6 1957.7L1421.7 1957.8L1427.7 1957.9L1433.7 1958.1L1439.7 1958.2L1445.7 1958.3L1451.7 1958.4L1457.7 1958.5L1463.7 1958.7L1469.7 1958.8L1475.7 1959.0L1481.7 1959.2L1487.7 1959.4L1493.7 1959.5L1499.7 1959.7L1505.7 1959.9L1511.7 1960.1L1517.7 1960.2L1523.7 1960.2L1529.7 1960.1L1535.7 1959.9L1541.8 1959.7L1547.8 1959.6L1553.8 1959.4L1559.8 1959.2L1565.8 1959.0L1571.8 1958.8L1577.8 1958.6L1583.8 1958.4L1589.8 1958.2L1595.8 1958.0L1601.8 1957.8L1607.8 1957.6L1613.8 1957.4L1619.8 1957.2L1625.8 1956.9L1631.8 1956.8L1637.8 1956.7L1643.8 1956.8L1649.8 1957.2L1655.8 1957.5L1661.8 1958.0L1667.9 1958.4L1673.9 1958.8L1679.9 1959.2L1685.9 1959.6L1691.9 1960.1L1697.9 1960.5L1703.9 1960.9L1709.9 1961.3L1715.9 1961.7L1721.9 1962.2L1727.9 1962.6L1733.9 1963.0L1739.9 1963.4L1745.9 1963.8L1751.9 1964.2L1757.9 1964.6L1763.9 1965.0L1769.9 1965.4L1775.9 1965.7L1781.9 1966.1L1788.0 1966.4L1794.0 1966.8L1800.0 1967.1L1806.0 1967.3L1812.0 1967.4L1818.0 1967.3L1824.0 1967.2L1830.0 1967.0L1836.0 1966.8L1842.0 1966.6L1848.0 1966.5L1854.0 1966.3L1860.0 1966.0L1866.0 1965.6L1872.0 1965.2L1878.0 1964.6L1884.0 1964.0L1890.0 1963.4L1896.0 1962.8L1902.0 1962.2L1908.0 1961.6L1914.1 1961.0L1920.1 1960.3L1926.1 1959.6L1932.1 1958.8L1938.1 1958.0L1944.1 1957.3L1950.1 1956.5L1956.1 1955.7L1962.1 1954.9L1968.1 1954.2L1974.1 1953.6L1980.1 1953.3L1986.1 1953.1L1992.1 1953.1L1998.1 1953.1L2004.1 1953.1L2010.1 1953.1L2016.1 1953.1L2022.1 1953.1L2028.1 1953.1L2034.2 1953.3L2040.2 1953.6L2046.2 1953.9L2052.2 1954.3L2058.2 1954.6L2064.2 1955.0L2070.2 1955.3L2076.2 1955.7L2082.2 1956.0L2088.2 1956.2L2094.2 1956.2L2100.2 1956.1L2106.2 1955.9L2112.2 1955.7L2118.2 1955.5L2124.2 1955.4L2130.2 1955.2L2136.2 1955.0L2142.2 1954.8L2148.2 1954.5L2154.2 1954.3L2160.3 1954.0L2166.3 1953.7L2172.3 1953.4L2178.3 1953.1L2184.3 1952.8L2190.3 1952.4L2196.3 1952.1L2202.3 1951.6L2208.3 1951.0L2214.3 1950.3L2220.3 1949.6L2226.3 1948.9L2232.3 1948.1L2238.3 1947.4L2244.3 1946.7L2250.3 1946.0L2256.3 1945.2L2262.3 1944.3L2268.3 1943.3L2274.3 1942.4L2280.3 1941.4L2286.4 1940.5L2292.4 1939.5L2298.4 1938.6L2304.4 1937.6L2310.4 1936.7L2316.4 1936.0L2322.4 1935.3L2328.4 1934.7L2334.4 1934.1L2340.4 1933.5L2346.4 1932.9L2352.4 1932.3L2358.4 1931.7L2364.4 1931.2L2370.4 1930.9L2376.4 1930.7L2382.4 1930.7L2388.4 1930.7L2394.4 1930.7L2400.4 1930.7L2406.5 1930.7L2412.5 1930.6L2418.5 1930.6L2424.5 1930.6L2430.5 1930.5L2436.5 1930.4L2442.5 1930.3L2448.5 1930.2L2454.5 1930.1L2460.5 1929.9L2466.5 1929.8L2472.5 1929.7L2478.5 1929.5L2484.5 1929.3L2490.5 1929.0L2496.5 1928.7L2502.5 1928.4L2508.5 1928.1L2514.5 1927.8L2520.5 1927.5L2526.5 1927.2L2532.6 1926.9L2538.6 1926.6L2544.6 1926.2L2550.6 1925.8L2556.6 1925.3L2562.6 1924.9L2568.6 1924.5L2574.6 1924.1L2580.6 1923.7L2586.6 1923.2L2592.6 1922.8L2598.6 1922.2L2604.6 1921.6L2610.6 1921.0L2616.6 1920.5L2622.6 1920.1L2628.6 1919.9L2634.6 1920.0L2640.6 1920.4L2646.6 1920.8L2652.7 1921.2L2658.7 1921.6L2664.7 1922.0L2670.7 1922.4L2676.7 1922.8L2682.7 1923.2L2688.7 1923.6L2694.7 1924.0L2700.7 1924.5L2706.7 1924.9L2712.7 1925.3L2718.7 1925.7L2724.7 1926.1L2730.7 1926.3L2736.7 1926.4L2742.7 1926.2L2748.7 1925.9L2754.7 1925.6L2760.7 1925.3L2766.7 1925.0" fill="none" stroke="#1f77b4" stroke-width="10.42" stroke-dasharray="38.54 16.67" stroke-linejoin="round"/><path d="M514.9 2034.9L520.9 2032.8L526.9 2030.7L532.9 2028.7L538.9 2026.6L544.9 2024.5L550.9 2022.4L557.0 2020.4L563.0 2018.5L569.0 2017.2L575.0 2016.4L581.0 2016.0L587.0 2015.4L593.0 2014.5L599.0 2013.6L605.0 2012.6L611.0 2011.6L617.0 2010.6L623.0 2009.6L629.0 2008.6L635.0 2007.6L641.0 2006.6L647.0 2005.6L653.0 2004.6L659.0 2003.5L665.0 2002.5L671.0 2001.5L677.0 2000.5L683.1 1999.4L689.1 1998.5L695.1 1997.6L701.1 1996.9L707.1 1996.2L713.1 1995.6L719.1 1995.0L725.1 1994.3L731.1 1993.7L737.1 1993.0L743.1 1992.5L749.1 1992.0L755.1 1991.8L761.1 1991.5L767.1 1991.4L773.1 1991.2L779.1 1991.0L785.1 1990.8L791.1 1990.6L797.1 1990.4L803.2 1990.2L809.2 1989.9L815.2 1989.5L821.2 1989.1L827.2 1988.7L833.2 1988.3L839.2 1988.0L845.2 1987.6L851.2 1987.2L857.2 1986.7L863.2 1986.1L869.2 1985.5L875.2 1984.9L881.2 1984.2L887.2 1983.6L893.2 1983.0L899.2 1982.3L905.2 1981.7L911.2 1981.1L917.2 1980.5L923.2 1980.0L929.3 1979.5L935.3 1979.0L941.3 1978.5L947.3 1977.9L953.3 1977.4L959.3 1976.9L965.3 1976.5L971.3 1976.1L977.3 1975.9L983.3 1975.6L989.3 1975.4L995.3 1975.2L1001.3 1975.0L1007.3 1974.8L1013.3 1974.6L1019.3 1974.7L1025.3 1974.8L1031.3 1975.1L1037.3 1975.4L1043.3 1975.7L1049.4 1976.0L1055.4 1976.3L1061.4 1976.6L1067.4 1976.8L1073.4 1976.9L1079.4 1976.8L1085.4 1976.5L1091.4 1976.2L1097.4 1975.9L1103.4 1975.6L1109.4 1975.3L1115.4 1975.0L1121.4 1974.8L1127.4 1974.5L1133.4 1974.3L1139.4 1974.2L1145.4 1974.0L1151.4 1973.9L1157.4 1973.8L1163.4 1973.7L1169.4 1973.6L1175.5 1973.5L1181.5 1973.5L1187.5 1973.8L1193.5 1974.3L1199.5 1975.0L1205.5 1975.7L1211.5 1976.5L1217.5 1977.2L1223.5 1977.9L1229.5 1978.6L1235.5 1979.3L1241.5 1979.8L1247.5 1980.3L1253.5 1980.6L1259.5 1980.9L1265.5 1981.2L1271.5 1981.5L1277.5 1981.8L1283.5 1982.1L1289.5 1982.4L1295.6 1982.7L1301.6 1982.9L1307.6 1983.1L1313.6 1983.3L1319.6 1983.5L1325.6 1983.6L1331.6 1983.8L1337.6 1984.0L1343.6 1984.2L1349.6 1984.3L1355.6 1984.5L1361.6 1984.6L1367.6 1984.8L1373.6 1984.9L1379.6 1985.0L1385.6 1985.1L1391.6 1985.2L1397.6 1985.4L1403.6 1985.5L1409.6 1985.6L1415.6 1985.8L1421.7 1986.0L1427.7 1986.1L1433.7 1986.3L1439.7 1986.5L1445.7 1986.7L1451.7 1986.9L1457.7 1987.0L1463.7 1987.2L1469.7 1987.3L1475.7 1987.5L1481.7 1987.6L1487.7 1987.7L1493.7 1987.8L1499.7 1988.0L1505.7 1988.1L1511.7 1988.2L1517.7 1988.3L1523.7 1988.5L1529.7 1988.7L1535.7 1988.8L1541.8 1989.0L1547.8 1989.2L1553.8 1989.4L1559.8 1989.5L1565.8 1989.7L1571.8 1989.9L1577.8 1990.1L1583.8 1990.2L1589.8 1990.3L1595.8 1990.4L1601.8 1990.5L1607.8 1990.6L1613.8 1990.7L1619.8 1990.8L1625.8 1990.9L1631.8 1991.0L1637.8 1991.0L1643.8 1990.9L1649.8 1990.7L1655.8 1990.4L1661.8 1990.1L1667.9 1989.8L1673.9 1989.5L1679.9 1989.2L1685.9 1988.9L1691.9 1988.6L1697.9 1988.3L1703.9 1988.0L1709.9 1987.7L1715.9 1987.4L1721.9 1987.1L1727.9 1986.8L1733.9 1986.5L1739.9 1986.2L1745.9 1985.9L1751.9 1985.6L1757.9 1985.3L1763.9 1985.0L1769.9 1984.7L1775.9 1984.4L1781.9 1984.1L1788.0 1983.8L1794.0 1983.5L1800.0 1983.2L1806.0 1982.8L1812.0 1982.3L1818.0 1981.8L1824.0 1981.2L1830.0 1980.6L1836.0 1980.0L1842.0 1979.4L1848.0 1978.8L1854.0 1978.2L1860.0 1977.6L1866.0 1977.0L1872.0 1976.4L1878.0 1975.8L1884.0 1975.2L1890.0 1974.6L1896.0 1974.0L1902.0 1973.4L1908.0 1972.8L1914.1 1972.2L1920.1 1971.7L1926.1 1971.2L1932.1 1970.8L1938.1 1970.3L1944.1 1969.9L1950.1 1969.5L1956.1 1969.1L1962.1 1968.7L1968.1 1968.3L1974.1 1968.1L1980.1 1968.1L1986.1 1968.4L1992.1 1968.8L1998.1 1969.2L2004.1 1969.6L2010.1 1970.0L2016.1 1970.4L2022.1 1970.9L2028.1 1971.3L2034.2 1971.7L2040.2 1972.1L2046.2 1972.5L2052.2 1973.0L2058.2 1973.4L2064.2 1973.8L2070.2 1974.2L2076.2 1974.6L2082.2 1975.0L2088.2 1975.4L2094.2 1975.6L2100.2 1975.8L2106.2 1976.0L2112.2 1976.2L2118.2 1976.4L2124.2 1976.6L2130.2 1976.7L2136.2 1976.9L2142.2 1976.9L2148.2 1976.6L2154.2 1976.2L2160.3 1975.6L2166.3 1975.0L2172.3 1974.4L2178.3 1973.8L2184.3 1973.2L2190.3 1972.6L2196.3 1971.9L2202.3 1971.0L2208.3 1970.0L2214.3 1968.8L2220.3 1967.6L2226.3 1966.4L2232.3 1965.2L2238.3 1964.0L2244.3 1962.8L2250.3 1961.7L2256.3 1960.7L2262.3 1959.9L2268.3 1959.2L2274.3 1958.6L2280.3 1958.0L2286.4 1957.4L2292.4 1956.8L2298.4 1956.2L2304.4 1955.6L2310.4 1955.1L2316.4 1954.6L2322.4 1954.3L2328.4 1954.0L2334.4 1953.7L2340.4 1953.4L2346.4 1953.1L2352.4 1952.8L2358.4 1952.5L2364.4 1952.2L2370.4 1951.9L2376.4 1951.6L2382.4 1951.3L2388.4 1951.0L2394.4 1950.7L2400.4 1950.4L2406.5 1950.1L2412.5 1949.8L2418.5 1949.5L2424.5 1949.3L2430.5 1949.2L2436.5 1949.2L2442.5 1949.2L2448.5 1949.4L2454.5 1949.9L2460.5 1950.8L2466.5 1951.9L2472.5 1953.1L2478.5 1954.3L2484.5 1955.5L2490.5 1956.7L2496.5 1957.9L2502.5 1959.1L2508.5 1960.3L2514.5 1961.5L2520.5 1962.7L2526.5 1963.9L2532.6 1964.9L2538.6 1965.8L2544.6 1966.4L2550.6 1966.9L2556.6 1967.3L2562.6 1967.8L2568.6 1968.2L2574.6 1968.6L2580.6 1969.0L2586.6 1969.4L2592.6 1969.7L2598.6 1969.8L2604.6 1969.9L2610.6 1969.9L2616.6 1969.9L2622.6 1969.9L2628.6 1969.9L2634.6 1969.9L2640.6 1969.9L2646.6 1969.9L2652.7 1969.9L2658.7 1969.9L2664.7 1969.9L2670.7 1969.9L2676.7 1969.9L2682.7 1969.9L2688.7 1969.9L2694.7 1969.9L2700.7 1969.9L2706.7 1970.0L2712.7 1970.1L2718.7 1970.3L2724.7 1970.4L2730.7 1970.6L2736.7 1970.8L2742.7 1970.9L2748.7 1971.1L2754.7 1971.2L2760.7 1971.4L2766.7 1971.6" fill="none" stroke="#ff7f0e" stroke-width="10.42" stroke-dasharray="38.54 16.67" stroke-linejoin="round"/><path d="M515.3 1987.5L521.3 1982.5L527.3 1977.6L533.3 1972.9L539.3 1968.1L545.3 1963.4L551.3 1958.8L557.3 1954.1L563.3 1949.5L569.4 1945.1L575.4 1940.8L581.4 1936.5L587.4 1932.2L593.4 1927.9L599.4 1923.7L605.4 1919.5L611.4 1915.5L617.4 1911.7L623.4 1908.0L629.4 1904.3L635.4 1900.7L641.4 1897.1L647.4 1893.4L653.4 1889.7L659.4 1885.8L665.4 1881.8L671.4 1877.7L677.4 1873.6L683.4 1869.4L689.4 1865.2L695.4 1860.8L701.4 1856.5L707.4 1852.2L713.4 1847.8L719.4 1843.5L725.4 1839.1L731.5 1834.8L737.5 1830.4L743.5 1826.1L749.5 1821.8L755.5 1817.4L761.5 1813.1L767.5 1808.7L773.5 1804.4L779.5 1800.0L785.5 1795.7L791.5 1791.4L797.5 1787.0L803.5 1782.7L809.5 1778.3L815.5 1774.0L821.5 1769.6L827.5 1765.3L833.5 1760.9L839.5 1756.5L845.5 1751.8L851.5 1746.6L857.5 1741.0L863.5 1735.1L869.5 1729.1L875.5 1723.1L881.5 1717.1L887.6 1711.1L893.6 1705.1L899.6 1699.2L905.6 1693.5L911.6 1688.0L917.6 1682.7L923.6 1677.4L929.6 1672.2L935.6 1666.9L941.6 1661.5L947.6 1655.9L953.6 1649.7L959.6 1643.1L965.6 1636.3L971.6 1629.4L977.6 1622.5L983.6 1615.5L989.6 1608.2L995.6 1600.5L1001.6 1592.6L1007.6 1584.7L1013.6 1576.9L1019.6 1569.6L1025.6 1562.4L1031.6 1553.9L1037.6 1543.1L1043.7 1530.6L1049.7 1517.4L1055.7 1504.1L1061.7 1490.7L1067.7 1477.3L1073.7 1464.0L1079.7 1451.0L1085.7 1438.2L1091.7 1425.5L1097.7 1413.2L1103.7 1401.4L1109.7 1389.9L1115.7 1378.5L1121.7 1367.3L1127.7 1356.3L1133.7 1345.5L1139.7 1334.8L1145.7 1324.5L1151.7 1315.0L1157.7 1306.4L1163.7 1298.4L1169.7 1290.7L1175.7 1282.9L1181.7 1275.0L1187.7 1266.9L1193.7 1258.6L1199.8 1250.3L1205.8 1241.6L1211.8 1232.2L1217.8 1221.7L1223.8 1211.2L1229.8 1201.9L1235.8 1193.9L1241.8 1186.4L1247.8 1178.9L1253.8 1171.2L1259.8 1163.4L1265.8 1155.4L1271.8 1147.4L1277.8 1139.5L1283.8 1131.7L1289.8 1124.3L1295.8 1117.1L1301.8 1110.1L1307.8 1103.1L1313.8 1096.3L1319.8 1090.0L1325.8 1084.4L1331.8 1079.2L1337.8 1074.2L1343.8 1069.0L1349.8 1063.1L1355.8 1056.2L1361.9 1048.0L1367.9 1039.2L1373.9 1030.2L1379.9 1021.2L1385.9 1012.2L1391.9 1002.9L1397.9 992.9L1403.9 981.9L1409.9 970.1L1415.9 958.2L1421.9 946.2L1427.9 934.2L1433.9 922.3L1439.9 911.0L1445.9 900.6L1451.9 891.1L1457.9 882.0L1463.9 873.2L1469.9 864.4L1475.9 855.6L1481.9 847.0L1487.9 838.3L1493.9 830.1L1499.9 822.8L1505.9 817.1L1511.9 812.5L1518.0 808.3L1524.0 804.1L1530.0 799.9L1536.0 795.8L1542.0 791.7L1548.0 787.6L1554.0 783.6L1560.0 779.5L1566.0 775.5L1572.0 771.5L1578.0 767.5L1584.0 763.2L1590.0 758.0L1596.0 751.7L1602.0 744.4L1608.0 736.8L1614.0 729.0L1620.0 720.8L1626.0 712.1L1632.0 702.7L1638.0 692.9L1644.0 683.1L1650.0 673.2L1656.0 663.2L1662.0 653.3L1668.0 643.3L1674.1 633.4L1680.1 624.0L1686.1 615.3L1692.1 607.1L1698.1 599.1L1704.1 591.4L1710.1 584.2L1716.1 578.2L1722.1 573.1L1728.1 568.7L1734.1 564.3L1740.1 560.1L1746.1 556.1L1752.1 553.0L1758.1 551.1L1764.1 550.0L1770.1 549.2L1776.1 548.5L1782.1 547.7L1788.1 547.0L1794.1 546.3L1800.1 545.7L1806.1 545.1L1812.1 544.6L1818.1 544.2L1824.1 543.7L1830.2 543.2L1836.2 542.7L1842.2 542.3L1848.2 541.9L1854.2 541.9L1860.2 542.2L1866.2 542.7L1872.2 543.3L1878.2 543.9L1884.2 544.5L1890.2 545.1L1896.2 545.6L1902.2 546.1L1908.2 546.5L1914.2 546.9L1920.2 547.3L1926.2 547.6L1932.2 548.0L1938.2 548.1L1944.2 547.9L1950.2 547.1L1956.2 546.1L1962.2 545.0L1968.2 543.9L1974.2 542.7L1980.2 541.6L1986.2 540.4L1992.3 539.0L1998.3 537.6L2004.3 536.1L2010.3 534.6L2016.3 533.1L2022.3 531.6L2028.3 530.0L2034.3 528.4L2040.3 526.7L2046.3 524.9L2052.3 523.1L2058.3 521.3L2064.3 519.5L2070.3 517.7L2076.3 515.9L2082.3 514.1L2088.3 512.5L2094.3 511.1L2100.3 509.9L2106.3 508.7L2112.3 507.5L2118.3 506.3L2124.3 505.1L2130.3 503.9L2136.3 502.7L2142.3 501.8L2148.4 501.2L2154.4 500.9L2160.4 500.7L2166.4 500.6L2172.4 500.5L2178.4 500.3L2184.4 500.2L2190.4 500.1L2196.4 500.1L2202.4 500.3L2208.4 500.6L2214.4 501.1L2220.4 501.6L2226.4 502.2L2232.4 502.7L2238.4 503.1L2244.4 503.2L2250.4 503.0L2256.4 502.4L2262.4 501.7L2268.4 500.9L2274.4 500.2L2280.4 499.4L2286.4 498.5L2292.4 497.4L2298.4 496.1L2304.5 494.7L2310.5 493.2L2316.5 491.7L2322.5 490.2L2328.5 488.7L2334.5 487.5L2340.5 486.4L2346.5 485.6L2352.5 484.8L2358.5 484.1L2364.5 483.3L2370.5 482.6L2376.5 482.1L2382.5 481.8L2388.5 481.8L2394.5 482.0L2400.5 482.2L2406.5 482.4L2412.5 482.6L2418.5 482.9L2424.5 483.4L2430.5 484.0L2436.5 484.9L2442.5 485.7L2448.5 486.6L2454.5 487.5L2460.6 488.5L2466.6 489.5L2472.6 490.7L2478.6 492.1L2484.6 493.5L2490.6 495.0L2496.6 496.5L2502.6 498.0L2508.6 499.5L2514.6 501.0L2520.6 502.5L2526.6 504.0L2532.6 505.5L2538.6 507.0L2544.6 508.5L2550.6 510.0L2556.6 511.3L2562.6 512.2L2568.6 512.9L2574.6 513.5L2580.6 514.0L2586.6 514.3L2592.6 514.3L2598.6 513.8L2604.6 512.8L2610.6 511.7L2616.6 510.6L2622.7 509.5L2628.7 508.3L2634.7 507.1L2640.7 505.8L2646.7 504.4L2652.7 502.9L2658.7 501.4L2664.7 499.9L2670.7 498.4L2676.7 497.0L2682.7 495.7L2688.7 494.7L2694.7 493.9L2700.7 493.2L2706.7 492.4L2712.7 491.7L2718.7 490.9L2724.7 490.2L2730.7 489.7L2736.7 489.2L2742.7 488.7L2748.7 488.3L2754.7 487.9L2760.7 487.4L2766.7 487.0" fill="none" stroke="#2ca02c" stroke-width="10.42" stroke-dasharray="38.54 16.67" stroke-linejoin="round"/><path d="M515.3 1991.7L521.3 1986.5L527.3 1981.6L533.3 1976.9L539.3 1972.4L545.3 1967.9L551.3 1963.4L557.3 1958.9L563.3 1954.5L569.4 1950.1L575.4 1945.9L581.4 1941.7L587.4 1937.5L593.4 1933.3L599.4 1929.2L605.4 1925.0L611.4 1921.0L617.4 1917.1L623.4 1913.2L629.4 1909.4L635.4 1905.6L641.4 1901.8L647.4 1898.0L653.4 1894.2L659.4 1890.3L665.4 1886.4L671.4 1882.4L677.4 1878.3L683.4 1874.0L689.4 1869.4L695.4 1864.7L701.4 1860.1L707.4 1855.7L713.4 1851.5L719.4 1847.5L725.4 1843.5L731.5 1839.5L737.5 1835.5L743.5 1831.5L749.5 1827.6L755.5 1823.9L761.5 1820.2L767.5 1816.6L773.5 1813.0L779.5 1809.4L785.5 1805.8L791.5 1802.1L797.5 1798.3L803.5 1794.3L809.5 1790.2L815.5 1786.0L821.5 1781.8L827.5 1777.5L833.5 1773.3L839.5 1768.8L845.5 1764.1L851.5 1759.0L857.5 1753.9L863.5 1748.6L869.5 1743.4L875.5 1738.0L881.5 1732.3L887.6 1725.9L893.6 1718.9L899.6 1711.7L905.6 1704.3L911.6 1696.8L917.6 1688.7L923.6 1679.8L929.6 1670.2L935.6 1660.3L941.6 1650.1L947.6 1639.2L953.6 1627.5L959.6 1615.0L965.6 1602.0L971.6 1587.8L977.6 1572.2L983.6 1555.5L989.6 1538.2L995.6 1520.5L1001.6 1502.6L1007.6 1484.6L1013.6 1466.6L1019.6 1448.7L1025.6 1430.7L1031.6 1412.1L1037.6 1391.4L1043.7 1368.0L1049.7 1345.2L1055.7 1327.0L1061.7 1313.0L1067.7 1300.9L1073.7 1289.8L1079.7 1279.5L1085.7 1269.7L1091.7 1260.2L1097.7 1250.9L1103.7 1241.9L1109.7 1233.4L1115.7 1225.1L1121.7 1216.6L1127.7 1207.3L1133.7 1196.8L1139.7 1185.3L1145.7 1173.4L1151.7 1161.7L1157.7 1150.5L1163.7 1139.9L1169.7 1129.7L1175.7 1119.7L1181.7 1109.8L1187.7 1100.1L1193.7 1090.9L1199.8 1082.2L1205.8 1073.7L1211.8 1065.3L1217.8 1056.7L1223.8 1047.9L1229.8 1039.0L1235.8 1030.0L1241.8 1020.9L1247.8 1011.8L1253.8 1002.6L1259.8 993.1L1265.8 983.5L1271.8 973.8L1277.8 963.6L1283.8 952.7L1289.8 941.1L1295.8 929.2L1301.8 917.2L1307.8 905.2L1313.8 893.2L1319.8 881.2L1325.8 869.3L1331.8 857.7L1337.8 846.7L1343.8 836.5L1349.8 826.7L1355.8 817.0L1361.9 807.1L1367.9 796.8L1373.9 786.2L1379.9 775.5L1385.9 764.7L1391.9 753.9L1397.9 743.1L1403.9 732.3L1409.9 721.5L1415.9 710.9L1421.9 700.6L1427.9 690.7L1433.9 681.0L1439.9 671.6L1445.9 662.7L1451.9 654.7L1457.9 647.5L1463.9 640.8L1469.9 634.6L1475.9 629.4L1481.9 625.6L1487.9 623.0L1493.9 621.1L1499.9 620.1L1505.9 620.0L1511.9 620.7L1518.0 621.5L1524.0 622.3L1530.0 623.2L1536.0 624.1L1542.0 625.1L1548.0 626.1L1554.0 627.1L1560.0 628.1L1566.0 629.1L1572.0 629.9L1578.0 630.3L1584.0 630.1L1590.0 629.6L1596.0 628.9L1602.0 628.3L1608.0 628.1L1614.0 628.5L1620.0 629.6L1626.0 630.9L1632.0 632.2L1638.0 632.7L1644.0 632.2L1650.0 630.7L1656.0 628.6L1662.0 626.5L1668.0 624.2L1674.1 621.9L1680.1 619.5L1686.1 617.3L1692.1 615.4L1698.1 614.3L1704.1 614.2L1710.1 614.5L1716.1 615.0L1722.1 615.1L1728.1 614.7L1734.1 613.9L1740.1 612.7L1746.1 611.6L1752.1 610.6L1758.1 609.9L1764.1 609.3L1770.1 608.8L1776.1 608.4L1782.1 608.3L1788.1 608.7L1794.1 609.8L1800.1 611.1L1806.1 612.6L1812.1 613.8L1818.1 614.3L1824.1 613.7L1830.2 612.2L1836.2 610.3L1842.2 608.3L1848.2 606.3L1854.2 604.3L1860.2 602.2L1866.2 600.0L1872.2 597.9L1878.2 595.7L1884.2 593.6L1890.2 591.3L1896.2 588.9L1902.2 586.4L1908.2 583.9L1914.2 581.3L1920.2 578.7L1926.2 576.0L1932.2 573.1L1938.2 569.9L1944.2 566.5L1950.2 563.0L1956.2 559.6L1962.2 556.5L1968.2 553.9L1974.2 551.8L1980.2 550.0L1986.2 548.3L1992.3 546.7L1998.3 545.3L2004.3 544.2L2010.3 543.3L2016.3 542.6L2022.3 541.8L2028.3 541.0L2034.3 540.3L2040.3 539.4L2046.3 538.5L2052.3 537.4L2058.3 536.2L2064.3 535.0L2070.3 533.8L2076.3 532.6L2082.3 531.4L2088.3 530.3L2094.3 529.2L2100.3 528.1L2106.3 527.0L2112.3 526.0L2118.3 524.9L2124.3 523.9L2130.3 522.8L2136.3 521.6L2142.3 520.3L2148.4 518.9L2154.4 517.6L2160.4 516.2L2166.4 514.9L2172.4 513.5L2178.4 512.1L2184.4 510.7L2190.4 509.2L2196.4 507.7L2202.4 506.3L2208.4 505.2L2214.4 504.6L2220.4 504.7L2226.4 505.1L2232.4 505.6L2238.4 506.1L2244.4 507.0L2250.4 508.2L2256.4 509.8L2262.4 511.5L2268.4 513.2L2274.4 514.9L2280.4 516.7L2286.4 518.6L2292.4 520.7L2298.4 522.8L2304.5 524.9L2310.5 526.7L2316.5 528.2L2322.5 529.2L2328.5 530.1L2334.5 530.7L2340.5 530.8L2346.5 530.1L2352.5 528.7L2358.5 527.2L2364.5 525.4L2370.5 523.4L2376.5 521.0L2382.5 518.4L2388.5 515.7L2394.5 513.0L2400.5 510.4L2406.5 508.0L2412.5 505.6L2418.5 503.4L2424.5 501.1L2430.5 498.9L2436.5 496.7L2442.5 494.7L2448.5 493.1L2454.5 492.1L2460.6 491.5L2466.6 491.0L2472.6 490.6L2478.6 490.5L2484.6 490.9L2490.6 491.8L2496.6 493.0L2502.6 494.1L2508.6 495.3L2514.6 496.4L2520.6 497.3L2526.6 498.1L2532.6 498.9L2538.6 499.7L2544.6 500.4L2550.6 500.9L2556.6 501.3L2562.6 501.5L2568.6 501.7L2574.6 501.8L2580.6 501.5L2586.6 500.7L2592.6 499.5L2598.6 498.2L2604.6 496.8L2610.6 495.2L2616.6 493.2L2622.7 490.8L2628.7 488.1L2634.7 485.3L2640.7 482.6L2646.7 480.0L2652.7 477.9L2658.7 476.0L2664.7 474.3L2670.7 472.6L2676.7 471.0L2682.7 469.4L2688.7 467.8L2694.7 466.5L2700.7 465.4L2706.7 464.4L2712.7 463.6L2718.7 462.7L2724.7 461.9L2730.7 461.4L2736.7 461.2L2742.7 461.4L2748.7 461.7L2754.7 462.1L2760.7 462.5L2766.7 462.9" fill="none" stroke="#d62728" stroke-width="10.42" stroke-dasharray="38.54 16.67" stroke-linejoin="round"/><path d="M514.9 2036.0L520.9 2032.7L526.9 2029.5L532.9 2026.2L538.9 2023.0L544.9 2019.8L550.9 2016.6L557.0 2013.3L563.0 2010.1L569.0 2006.9L575.0 2003.7L581.0 2000.5L587.0 1997.3L593.0 1994.1L599.0 1990.9L605.0 1987.6L611.0 1984.4L617.0 1981.3L623.0 1978.2L629.0 1975.3L635.0 1972.7L641.0 1970.1L647.0 1967.6L653.0 1965.2L659.0 1962.7L665.0 1960.2L671.0 1957.7L677.0 1955.3L683.1 1952.9L689.1 1950.5L695.1 1948.2L701.1 1945.8L707.1 1943.5L713.1 1941.1L719.1 1938.8L725.1 1936.4L731.1 1933.8L737.1 1931.2L743.1 1928.5L749.1 1925.7L755.1 1923.0L761.1 1920.3L767.1 1917.5L773.1 1914.8L779.1 1912.1L785.1 1909.5L791.1 1906.9L797.1 1904.3L803.2 1901.8L809.2 1899.2L815.2 1896.6L821.2 1894.1L827.2 1891.4L833.2 1888.7L839.2 1886.0L845.2 1883.2L851.2 1880.4L857.2 1877.6L863.2 1874.8L869.2 1872.0L875.2 1869.2L881.2 1866.4L887.2 1863.4L893.2 1860.4L899.2 1857.5L905.2 1854.5L911.2 1851.5L917.2 1848.5L923.2 1845.4L929.3 1842.0L935.3 1838.3L941.3 1834.3L947.3 1830.3L953.3 1826.2L959.3 1822.1L965.3 1817.9L971.3 1813.4L977.3 1808.3L983.3 1802.5L989.3 1796.3L995.3 1789.9L1001.3 1783.3L1007.3 1776.2L1013.3 1768.7L1019.3 1760.9L1025.3 1753.1L1031.3 1745.2L1037.3 1737.1L1043.3 1728.8L1049.4 1719.8L1055.4 1710.3L1061.4 1700.6L1067.4 1690.8L1073.4 1681.1L1079.4 1671.5L1085.4 1662.6L1091.4 1655.1L1097.4 1649.2L1103.4 1644.1L1109.4 1638.9L1115.4 1633.1L1121.4 1626.8L1127.4 1620.4L1133.4 1614.0L1139.4 1607.4L1145.4 1600.7L1151.4 1593.7L1157.4 1586.5L1163.4 1579.1L1169.4 1571.6L1175.5 1563.9L1181.5 1555.7L1187.5 1546.6L1193.5 1536.7L1199.5 1526.5L1205.5 1515.9L1211.5 1504.4L1217.5 1491.9L1223.5 1478.6L1229.5 1465.0L1235.5 1451.0L1241.5 1436.8L1247.5 1422.2L1253.5 1406.8L1259.5 1390.4L1265.5 1373.3L1271.5 1356.0L1277.5 1339.1L1283.5 1322.5L1289.5 1306.5L1295.6 1291.3L1301.6 1276.6L1307.6 1262.4L1313.6 1248.6L1319.6 1235.2L1325.6 1222.1L1331.6 1209.0L1337.6 1196.0L1343.6 1183.0L1349.6 1170.4L1355.6 1158.4L1361.6 1147.1L1367.6 1136.2L1373.6 1125.4L1379.6 1115.0L1385.6 1104.9L1391.6 1095.1L1397.6 1085.4L1403.6 1075.5L1409.6 1065.0L1415.6 1053.7L1421.7 1041.9L1427.7 1029.9L1433.7 1017.9L1439.7 1005.9L1445.7 993.9L1451.7 981.9L1457.7 970.0L1463.7 958.3L1469.7 947.0L1475.7 936.0L1481.7 925.1L1487.7 914.0L1493.7 902.2L1499.7 889.6L1505.7 877.2L1511.7 866.7L1517.7 859.1L1523.7 852.1L1529.7 842.8L1535.7 831.2L1541.8 818.7L1547.8 806.0L1553.8 793.0L1559.8 780.3L1565.8 768.2L1571.8 757.3L1577.8 747.5L1583.8 738.3L1589.8 729.5L1595.8 721.4L1601.8 714.8L1607.8 709.4L1613.8 704.5L1619.8 699.8L1625.8 695.2L1631.8 690.5L1637.8 685.9L1643.8 681.4L1649.8 677.0L1655.8 672.6L1661.8 668.3L1667.9 664.0L1673.9 659.6L1679.9 655.3L1685.9 651.0L1691.9 646.6L1697.9 642.2L1703.9 637.3L1709.9 631.6L1715.9 625.0L1721.9 618.0L1727.9 610.8L1733.9 603.7L1739.9 596.6L1745.9 589.5L1751.9 582.5L1757.9 575.6L1763.9 569.2L1769.9 563.7L1775.9 559.5L1781.9 556.2L1788.0 553.2L1794.0 550.2L1800.0 547.2L1806.0 544.5L1812.0 542.1L1818.0 540.0L1824.0 538.1L1830.0 536.2L1836.0 534.4L1842.0 532.5L1848.0 530.8L1854.0 529.3L1860.0 528.1L1866.0 527.1L1872.0 526.2L1878.0 525.3L1884.0 524.4L1890.0 523.6L1896.0 522.9L1902.0 522.6L1908.0 522.6L1914.1 522.7L1920.1 522.9L1926.1 523.0L1932.1 523.2L1938.1 523.6L1944.1 524.4L1950.1 525.8L1956.1 527.5L1962.1 529.2L1968.1 530.9L1974.1 532.3L1980.1 533.2L1986.1 533.7L1992.1 533.9L1998.1 534.1L2004.1 534.2L2010.1 534.3L2016.1 534.3L2022.1 534.0L2028.1 533.2L2034.2 532.2L2040.2 531.1L2046.2 530.0L2052.2 528.8L2058.2 527.7L2064.2 526.7L2070.2 525.8L2076.2 524.9L2082.2 524.1L2088.2 523.4L2094.2 522.6L2100.2 521.8L2106.2 521.0L2112.2 520.3L2118.2 519.5L2124.2 518.9L2130.2 518.4L2136.2 518.0L2142.2 517.5L2148.2 517.1L2154.2 516.7L2160.3 516.3L2166.3 515.9L2172.3 515.4L2178.3 514.8L2184.3 514.0L2190.3 513.1L2196.3 512.1L2202.3 511.1L2208.3 510.1L2214.3 509.0L2220.3 507.7L2226.3 505.8L2232.3 503.5L2238.3 500.8L2244.3 498.1L2250.3 495.4L2256.3 492.4L2262.3 489.2L2268.3 485.8L2274.3 482.3L2280.3 478.8L2286.4 475.5L2292.4 472.5L2298.4 469.8L2304.4 467.4L2310.4 464.9L2316.4 462.5L2322.4 460.2L2328.4 457.9L2334.4 456.2L2340.4 455.1L2346.4 454.5L2352.4 454.2L2358.4 453.9L2364.4 453.9L2370.4 454.2L2376.4 454.9L2382.4 456.0L2388.4 457.1L2394.4 458.2L2400.4 459.3L2406.5 460.4L2412.5 461.4L2418.5 462.3L2424.5 463.1L2430.5 463.9L2436.5 464.6L2442.5 465.4L2448.5 466.1L2454.5 466.5L2460.5 466.5L2466.5 465.9L2472.5 465.0L2478.5 464.0L2484.5 462.9L2490.5 461.3L2496.5 459.2L2502.5 456.5L2508.5 453.5L2514.5 450.5L2520.5 447.5L2526.5 444.6L2532.6 441.7L2538.6 439.1L2544.6 436.7L2550.6 434.6L2556.6 432.5L2562.6 430.4L2568.6 428.3L2574.6 426.2L2580.6 424.1L2586.6 422.0L2592.6 420.2L2598.6 418.5L2604.6 417.1L2610.6 415.7L2616.6 414.3L2622.6 412.9L2628.6 411.5L2634.6 410.2L2640.6 408.8L2646.6 407.5L2652.7 406.3L2658.7 405.2L2664.7 404.2L2670.7 403.2L2676.7 402.1L2682.7 401.1L2688.7 400.1L2694.7 399.1L2700.7 398.2L2706.7 397.6L2712.7 397.2L2718.7 396.9L2724.7 396.8L2730.7 396.6L2736.7 396.4L2742.7 396.3L2748.7 396.1L2754.7 396.0L2760.7 395.8L2766.7 395.6" fill="none" stroke="#9467bd" stroke-width="10.42" stroke-dasharray="38.54 16.67" stroke-linejoin="round"/><path d="M514.9 2024.8L520.9 2020.9L526.9 2017.3L532.9 2014.3L538.9 2011.6L544.9 2009.1L550.9 2006.7L556.9 2004.2L562.9 2001.7L568.9 1999.3L574.9 1997.1L580.9 1995.1L586.9 1993.6L592.9 1992.2L598.9 1991.0L604.9 1989.7L610.9 1988.5L616.9 1987.2L623.0 1986.0L629.0 1984.9L635.0 1983.9L641.0 1983.1L647.0 1982.5L653.0 1981.9L659.0 1981.4L665.0 1980.8L671.0 1980.2L677.0 1979.7L683.0 1979.1L689.0 1978.3L695.0 1977.4L701.0 1976.4L707.0 1975.4L713.0 1974.4L719.0 1973.3L725.0 1972.3L731.0 1971.3L737.0 1970.2L743.0 1969.1L749.0 1968.0L755.0 1966.9L761.0 1965.7L767.0 1964.5L773.0 1963.3L779.0 1962.2L785.0 1961.0L791.0 1959.8L797.0 1958.7L803.0 1957.6L809.0 1956.5L815.0 1955.5L821.0 1954.5L827.0 1953.4L833.0 1952.4L839.0 1951.3L845.0 1950.3L851.0 1949.2L857.0 1948.2L863.0 1947.2L869.0 1946.1L875.0 1945.1L881.0 1944.1L887.0 1943.1L893.0 1942.0L899.0 1941.1L905.0 1940.2L911.0 1939.6L917.0 1939.1L923.0 1938.7L929.1 1938.3L935.1 1937.9L941.1 1937.5L947.1 1937.1L953.1 1936.7L959.1 1936.1L965.1 1935.4L971.1 1934.4L977.1 1933.4L983.1 1932.4L989.1 1931.3L995.1 1930.3L1001.1 1929.3L1007.1 1928.2L1013.1 1927.1L1019.1 1926.0L1025.1 1924.8L1031.1 1923.6L1037.1 1922.3L1043.1 1921.1L1049.1 1919.9L1055.1 1918.6L1061.1 1917.4L1067.1 1916.3L1073.1 1915.3L1079.1 1914.4L1085.1 1913.5L1091.1 1912.7L1097.1 1911.9L1103.1 1911.1L1109.1 1910.3L1115.1 1909.5L1121.1 1908.7L1127.1 1907.8L1133.1 1907.0L1139.1 1906.1L1145.1 1905.3L1151.1 1904.4L1157.1 1903.5L1163.1 1902.7L1169.1 1901.8L1175.1 1900.9L1181.1 1900.1L1187.1 1899.1L1193.1 1898.2L1199.1 1897.2L1205.1 1896.3L1211.1 1895.4L1217.1 1894.4L1223.1 1893.5L1229.1 1892.6L1235.2 1891.9L1241.2 1891.3L1247.2 1890.9L1253.2 1890.4L1259.2 1890.0L1265.2 1889.5L1271.2 1889.1L1277.2 1888.6L1283.2 1888.1L1289.2 1887.6L1295.2 1886.9L1301.2 1886.2L1307.2 1885.4L1313.2 1884.6L1319.2 1883.8L1325.2 1883.0L1331.2 1882.2L1337.2 1881.3L1343.2 1880.2L1349.2 1878.7L1355.2 1877.0L1361.2 1875.2L1367.2 1873.4L1373.2 1871.7L1379.2 1869.9L1385.2 1868.1L1391.2 1866.3L1397.2 1864.5L1403.2 1862.7L1409.2 1860.9L1415.2 1859.1L1421.2 1857.3L1427.2 1855.5L1433.2 1853.7L1439.2 1852.0L1445.2 1850.3L1451.2 1848.8L1457.2 1847.4L1463.2 1846.1L1469.2 1844.9L1475.2 1843.7L1481.2 1842.4L1487.2 1841.2L1493.2 1840.0L1499.2 1838.8L1505.2 1837.7L1511.2 1836.6L1517.2 1835.6L1523.2 1834.6L1529.2 1833.6L1535.2 1832.7L1541.3 1831.7L1547.3 1830.6L1553.3 1829.4L1559.3 1828.0L1565.3 1826.3L1571.3 1824.4L1577.3 1822.5L1583.3 1820.6L1589.3 1818.7L1595.3 1816.8L1601.3 1814.7L1607.3 1812.4L1613.3 1809.4L1619.3 1805.9L1625.3 1802.1L1631.3 1798.2L1637.3 1794.3L1643.3 1790.4L1649.3 1786.3L1655.3 1781.9L1661.3 1776.9L1667.3 1771.6L1673.3 1766.2L1679.3 1760.8L1685.3 1755.9L1691.3 1751.7L1697.3 1747.7L1703.3 1743.1L1709.3 1737.9L1715.3 1732.6L1721.3 1728.1L1727.3 1724.6L1733.3 1721.8L1739.3 1719.2L1745.3 1716.8L1751.3 1714.7L1757.3 1713.0L1763.3 1711.8L1769.3 1710.7L1775.3 1709.7L1781.3 1708.8L1787.3 1708.0L1793.3 1707.4L1799.3 1706.8L1805.3 1706.1L1811.3 1705.0L1817.3 1703.1L1823.3 1700.4L1829.3 1697.1L1835.3 1693.4L1841.3 1689.2L1847.4 1684.3L1853.4 1679.1L1859.4 1673.4L1865.4 1667.2L1871.4 1660.6L1877.4 1653.7L1883.4 1646.6L1889.4 1639.3L1895.4 1631.9L1901.4 1624.6L1907.4 1617.6L1913.4 1610.8L1919.4 1604.1L1925.4 1597.6L1931.4 1591.4L1937.4 1585.4L1943.4 1579.5L1949.4 1573.8L1955.4 1568.6L1961.4 1563.7L1967.4 1558.9L1973.4 1554.2L1979.4 1549.5L1985.4 1545.0L1991.4 1540.8L1997.4 1536.9L2003.4 1533.1L2009.4 1529.3L2015.4 1525.6L2021.4 1521.8L2027.4 1518.0L2033.4 1514.0L2039.4 1509.9L2045.4 1505.7L2051.4 1501.5L2057.4 1497.3L2063.4 1493.0L2069.4 1488.8L2075.4 1484.6L2081.4 1480.3L2087.4 1475.9L2093.4 1471.3L2099.4 1466.5L2105.4 1461.7L2111.4 1456.8L2117.4 1451.9L2123.4 1447.2L2129.4 1442.8L2135.4 1439.3L2141.4 1436.7L2147.4 1434.6L2153.4 1432.7L2159.5 1430.9L2165.5 1428.9L2171.5 1426.9L2177.5 1424.2L2183.5 1420.7L2189.5 1416.5L2195.5 1412.0L2201.5 1407.5L2207.5 1403.0L2213.5 1398.3L2219.5 1392.9L2225.5 1386.3L2231.5 1378.3L2237.5 1369.6L2243.5 1360.6L2249.5 1351.2L2255.5 1340.8L2261.5 1328.9L2267.5 1315.7L2273.5 1302.0L2279.5 1287.9L2285.5 1273.7L2291.5 1259.4L2297.5 1245.9L2303.5 1234.0L2309.5 1223.9L2315.5 1214.8L2321.5 1205.8L2327.5 1196.4L2333.5 1186.8L2339.5 1177.3L2345.5 1168.5L2351.5 1160.2L2357.5 1152.3L2363.5 1144.7L2369.5 1137.3L2375.5 1130.1L2381.5 1123.2L2387.5 1117.0L2393.5 1112.3L2399.5 1109.0L2405.5 1106.5L2411.5 1104.5L2417.5 1102.9L2423.5 1101.8L2429.5 1100.9L2435.5 1100.1L2441.5 1099.3L2447.5 1098.5L2453.5 1097.6L2459.5 1096.7L2465.6 1095.5L2471.6 1094.3L2477.6 1092.9L2483.6 1091.5L2489.6 1090.1L2495.6 1088.7L2501.6 1087.1L2507.6 1085.3L2513.6 1083.3L2519.6 1081.3L2525.6 1079.3L2531.6 1077.3L2537.6 1075.1L2543.6 1072.8L2549.6 1070.4L2555.6 1067.9L2561.6 1065.4L2567.6 1062.8L2573.6 1060.3L2579.6 1057.6L2585.6 1055.0L2591.6 1052.2L2597.6 1049.5L2603.6 1046.5L2609.6 1043.2L2615.6 1039.3L2621.6 1035.1L2627.6 1030.7L2633.6 1026.3L2639.6 1021.6L2645.6 1016.4L2651.6 1010.8L2657.6 1004.9L2663.6 999.3L2669.6 994.1L2675.6 989.5L2681.6 985.2L2687.6 981.0L2693.6 976.8L2699.6 972.8L2705.6 969.0L2711.6 965.2L2717.6 961.7L2723.6 958.7L2729.6 956.4L2735.6 954.4L2741.6 952.6L2747.6 950.9L2753.6 949.5L2759.6 948.4L2765.6 947.5" fill="none" stroke="#8c564b" stroke-width="10.42" stroke-dasharray="38.54 16.67" stroke-linejoin="round"/><path d="M514.9 1968.8L520.9 1960.0L526.9 1951.3L532.9 1942.6L538.9 1934.1L544.9 1926.3L550.9 1919.5L557.0 1913.4L563.0 1907.4L569.0 1901.4L575.0 1895.4L581.0 1889.3L587.0 1883.3L593.0 1877.3L599.0 1871.4L605.0 1865.5L611.0 1859.7L617.0 1853.8L623.0 1848.0L629.0 1842.1L635.0 1835.9L641.0 1829.3L647.0 1822.4L653.0 1815.4L659.0 1808.3L665.0 1801.2L671.0 1793.8L677.0 1786.1L683.1 1778.1L689.1 1770.0L695.1 1761.7L701.1 1753.3L707.1 1744.5L713.1 1735.2L719.1 1725.4L725.1 1715.3L731.1 1704.5L737.1 1693.0L743.1 1681.0L749.1 1668.8L755.1 1656.7L761.1 1644.6L767.1 1632.5L773.1 1620.4L779.1 1608.0L785.1 1595.2L791.1 1581.9L797.1 1568.2L803.2 1553.6L809.2 1538.0L815.2 1521.5L821.2 1504.8L827.2 1487.9L833.2 1471.0L839.2 1454.1L845.2 1437.1L851.2 1420.1L857.2 1403.2L863.2 1386.7L869.2 1370.8L875.2 1355.4L881.2 1340.0L887.2 1324.1L893.2 1307.1L899.2 1289.5L905.2 1271.6L911.2 1254.0L917.2 1237.1L923.2 1220.8L929.3 1204.2L935.3 1186.5L941.3 1167.8L947.3 1148.8L953.3 1129.8L959.3 1111.4L965.3 1093.6L971.3 1076.5L977.3 1059.7L983.3 1043.1L989.3 1026.9L995.3 1011.4L1001.3 996.2L1007.3 981.2L1013.3 966.3L1019.3 951.7L1025.3 937.7L1031.3 924.3L1037.3 911.1L1043.3 898.1L1049.4 885.0L1055.4 871.7L1061.4 858.0L1067.4 844.1L1073.4 830.2L1079.4 816.2L1085.4 802.5L1091.4 789.4L1097.4 776.9L1103.4 764.7L1109.4 752.8L1115.4 741.0L1121.4 730.1L1127.4 720.5L1133.4 711.9L1139.4 703.7L1145.4 695.0L1151.4 685.6L1157.4 675.5L1163.4 665.0L1169.4 654.3L1175.5 643.4L1181.5 632.7L1187.5 622.4L1193.5 613.0L1199.5 604.5L1205.5 596.8L1211.5 589.6L1217.5 583.1L1223.5 576.9L1229.5 570.8L1235.5 564.9L1241.5 559.2L1247.5 554.1L1253.5 549.4L1259.5 545.1L1265.5 541.0L1271.5 537.2L1277.5 533.7L1283.5 530.8L1289.5 528.1L1295.6 525.4L1301.6 522.7L1307.6 519.7L1313.6 516.7L1319.6 513.6L1325.6 510.5L1331.6 507.7L1337.6 505.3L1343.6 503.0L1349.6 500.7L1355.6 498.3L1361.6 495.7L1367.6 493.3L1373.6 491.4L1379.6 490.0L1385.6 488.9L1391.6 488.0L1397.6 487.2L1403.6 486.6L1409.6 485.9L1415.6 485.3L1421.7 484.7L1427.7 484.1L1433.7 483.6L1439.7 483.3L1445.7 483.3L1451.7 483.4L1457.7 483.5L1463.7 483.6L1469.7 483.7L1475.7 483.8L1481.7 484.0L1487.7 484.0L1493.7 483.8L1499.7 483.5L1505.7 482.9L1511.7 482.3L1517.7 481.7L1523.7 481.1L1529.7 480.5L1535.7 479.9L1541.8 479.2L1547.8 478.4L1553.8 477.1L1559.8 475.6L1565.8 474.0L1571.8 472.4L1577.8 470.7L1583.8 469.1L1589.8 467.4L1595.8 465.8L1601.8 464.1L1607.8 462.4L1613.8 460.7L1619.8 459.0L1625.8 457.4L1631.8 455.7L1637.8 454.3L1643.8 453.2L1649.8 452.4L1655.8 451.8L1661.8 451.2L1667.9 450.6L1673.9 450.0L1679.9 449.4L1685.9 448.8L1691.9 448.2L1697.9 447.7L1703.9 447.2L1709.9 446.7L1715.9 446.2L1721.9 445.8L1727.9 445.3L1733.9 444.9L1739.9 444.4L1745.9 443.9L1751.9 443.5L1757.9 443.0L1763.9 442.7L1769.9 442.7L1775.9 443.0L1781.9 443.5L1788.0 444.1L1794.0 444.7L1800.0 445.3L1806.0 445.9L1812.0 446.5L1818.0 447.1L1824.0 447.9L1830.0 448.8L1836.0 449.8L1842.0 450.9L1848.0 452.0L1854.0 453.1L1860.0 454.1L1866.0 454.9L1872.0 455.4L1878.0 455.8L1884.0 456.2L1890.0 456.5L1896.0 456.8L1902.0 456.8L1908.0 456.5L1914.1 455.9L1920.1 455.2L1926.1 454.4L1932.1 453.6L1938.1 452.7L1944.1 451.5L1950.1 450.0L1956.1 448.4L1962.1 446.7L1968.1 444.9L1974.1 443.2L1980.1 441.5L1986.1 439.8L1992.1 438.3L1998.1 436.7L2004.1 435.2L2010.1 433.7L2016.1 432.2L2022.1 430.7L2028.1 429.4L2034.2 428.3L2040.2 427.6L2046.2 427.1L2052.2 426.6L2058.2 426.1L2064.2 425.6L2070.2 425.1L2076.2 424.7L2082.2 424.2L2088.2 424.0L2094.2 424.1L2100.2 424.4L2106.2 424.7L2112.2 425.1L2118.2 425.4L2124.2 425.8L2130.2 426.2L2136.2 426.5L2142.2 426.8L2148.2 427.1L2154.2 427.4L2160.3 427.7L2166.3 427.9L2172.3 428.1L2178.3 428.4L2184.3 428.6L2190.3 428.8L2196.3 429.0L2202.3 429.2L2208.3 429.2L2214.3 429.3L2220.3 429.3L2226.3 429.3L2232.3 429.3L2238.3 429.3L2244.3 429.3L2250.3 429.2L2256.3 429.1L2262.3 428.8L2268.3 428.4L2274.3 428.0L2280.3 427.6L2286.4 427.2L2292.4 426.8L2298.4 426.3L2304.4 425.9L2310.4 425.4L2316.4 424.9L2322.4 424.4L2328.4 423.8L2334.4 423.2L2340.4 422.6L2346.4 422.0L2352.4 421.4L2358.4 420.8L2364.4 420.2L2370.4 419.7L2376.4 419.2L2382.4 418.8L2388.4 418.4L2394.4 417.9L2400.4 417.5L2406.5 417.1L2412.5 416.7L2418.5 416.3L2424.5 416.0L2430.5 415.9L2436.5 415.8L2442.5 415.8L2448.5 415.8L2454.5 415.8L2460.5 415.8L2466.5 415.8L2472.5 415.8L2478.5 415.7L2484.5 415.5L2490.5 415.2L2496.5 414.9L2502.5 414.5L2508.5 414.1L2514.5 413.8L2520.5 413.4L2526.5 413.1L2532.6 412.8L2538.6 412.5L2544.6 412.3L2550.6 412.2L2556.6 412.1L2562.6 411.9L2568.6 411.8L2574.6 411.7L2580.6 411.6L2586.6 411.5L2592.6 411.4L2598.6 411.5L2604.6 411.6L2610.6 411.7L2616.6 411.8L2622.6 411.9L2628.6 412.0L2634.6 412.2L2640.6 412.3L2646.6 412.5L2652.7 412.9L2658.7 413.4L2664.7 414.0L2670.7 414.6L2676.7 415.2L2682.7 415.8L2688.7 416.4L2694.7 417.0L2700.7 417.6L2706.7 418.2L2712.7 418.7L2718.7 419.3L2724.7 419.8L2730.7 420.4L2736.7 420.9L2742.7 421.5L2748.7 422.0L2754.7 422.6L2760.7 423.1L2766.7 423.7" fill="none" stroke="#e377c2" stroke-width="10.42" stroke-dasharray="38.54 16.67" stroke-linejoin="round"/><path d="M514.1 1965.2L520.1 1956.8L526.1 1948.5L532.1 1940.3L538.1 1932.1L544.2 1923.7L550.2 1915.3L556.2 1907.3L562.2 1900.1L568.2 1893.6L574.2 1887.7L580.2 1882.3L586.2 1877.4L592.2 1872.5L598.2 1867.7L604.2 1862.8L610.2 1857.5L616.3 1851.7L622.3 1845.5L628.3 1839.3L634.3 1833.1L640.3 1826.9L646.3 1820.5L652.3 1813.3L658.3 1804.9L664.3 1795.4L670.3 1785.5L676.3 1775.4L682.3 1765.1L688.4 1754.4L694.4 1743.0L700.4 1729.8L706.4 1715.1L712.4 1700.6L718.4 1687.9L724.4 1676.9L730.4 1666.6L736.4 1656.6L742.4 1646.6L748.4 1636.6L754.4 1626.5L760.5 1616.5L766.5 1606.5L772.5 1596.6L778.5 1587.0L784.5 1577.8L790.5 1569.1L796.5 1560.7L802.5 1552.4L808.5 1544.2L814.5 1536.1L820.5 1528.1L826.5 1520.1L832.6 1512.3L838.6 1505.2L844.6 1499.1L850.6 1493.7L856.6 1488.7L862.6 1483.8L868.6 1478.9L874.6 1474.1L880.6 1469.8L886.6 1466.3L892.6 1463.4L898.7 1460.8L904.7 1458.2L910.7 1455.6L916.7 1453.1L922.7 1450.5L928.7 1447.6L934.7 1444.1L940.7 1440.1L946.7 1435.6L952.7 1431.1L958.7 1426.4L964.7 1421.5L970.8 1415.5L976.8 1407.3L982.8 1397.0L988.8 1385.6L994.8 1374.2L1000.8 1363.2L1006.8 1352.5L1012.8 1341.9L1018.8 1331.3L1024.8 1320.5L1030.8 1309.8L1036.8 1299.0L1042.9 1288.5L1048.9 1278.4L1054.9 1268.6L1060.9 1258.9L1066.9 1249.4L1072.9 1240.1L1078.9 1231.2L1084.9 1222.5L1090.9 1213.9L1096.9 1205.5L1102.9 1197.0L1108.9 1188.0L1115.0 1177.8L1121.0 1166.6L1127.0 1155.0L1133.0 1143.9L1139.0 1133.6L1145.0 1124.2L1151.0 1115.1L1157.0 1106.0L1163.0 1097.0L1169.0 1087.7L1175.0 1078.3L1181.0 1068.7L1187.1 1059.2L1193.1 1049.9L1199.1 1041.1L1205.1 1032.8L1211.1 1024.7L1217.1 1016.7L1223.1 1008.6L1229.1 1000.6L1235.1 992.6L1241.1 984.6L1247.1 976.6L1253.1 968.6L1259.2 960.7L1265.2 953.1L1271.2 945.7L1277.2 938.4L1283.2 931.3L1289.2 924.4L1295.2 917.8L1301.2 911.6L1307.2 905.6L1313.2 900.0L1319.2 895.5L1325.2 892.7L1331.3 891.0L1337.3 889.6L1343.3 888.3L1349.3 887.1L1355.3 885.9L1361.3 884.9L1367.3 883.9L1373.3 883.0L1379.3 882.1L1385.3 881.2L1391.3 880.3L1397.4 879.3L1403.4 878.3L1409.4 876.9L1415.4 874.9L1421.4 872.4L1427.4 869.7L1433.4 866.9L1439.4 864.2L1445.4 861.4L1451.4 858.6L1457.4 855.9L1463.4 853.3L1469.5 850.7L1475.5 848.1L1481.5 845.5L1487.5 842.9L1493.5 840.4L1499.5 837.9L1505.5 835.7L1511.5 834.0L1517.5 832.8L1523.5 831.9L1529.5 831.0L1535.5 830.2L1541.6 829.4L1547.6 828.6L1553.6 827.9L1559.6 827.4L1565.6 827.4L1571.6 827.9L1577.6 828.5L1583.6 829.2L1589.6 829.8L1595.6 830.5L1601.6 831.2L1607.6 831.7L1613.7 831.8L1619.7 831.2L1625.7 830.0L1631.7 828.1L1637.7 824.8L1643.7 820.1L1649.7 814.4L1655.7 808.1L1661.7 801.5L1667.7 794.5L1673.7 787.3L1679.7 780.2L1685.8 773.6L1691.8 768.0L1697.8 762.9L1703.8 757.1L1709.8 750.4L1715.8 743.3L1721.8 736.3L1727.8 729.4L1733.8 722.7L1739.8 717.0L1745.8 712.7L1751.8 709.6L1757.9 707.0L1763.9 704.6L1769.9 702.7L1775.9 701.8L1781.9 702.2L1787.9 703.4L1793.9 704.9L1799.9 706.3L1805.9 707.5L1811.9 708.3L1817.9 708.7L1823.9 708.9L1830.0 709.1L1836.0 709.0L1842.0 708.0L1848.0 705.9L1854.0 703.0L1860.0 699.8L1866.0 696.5L1872.0 692.7L1878.0 688.2L1884.0 682.8L1890.0 677.0L1896.1 671.0L1902.1 664.9L1908.1 658.6L1914.1 652.0L1920.1 645.1L1926.1 638.1L1932.1 631.1L1938.1 624.3L1944.1 617.7L1950.1 611.4L1956.1 605.3L1962.1 599.3L1968.2 593.5L1974.2 588.4L1980.2 584.3L1986.2 581.2L1992.2 578.5L1998.2 576.1L2004.2 574.0L2010.2 572.8L2016.2 573.1L2022.2 574.2L2028.2 575.7L2034.2 577.2L2040.3 578.9L2046.3 580.9L2052.3 583.2L2058.3 585.6L2064.3 588.1L2070.3 590.6L2076.3 593.1L2082.3 595.6L2088.3 598.1L2094.3 600.6L2100.3 603.3L2106.3 606.3L2112.4 610.2L2118.4 615.3L2124.4 621.1L2130.4 627.0L2136.4 632.8L2142.4 638.2L2148.4 642.9L2154.4 646.8L2160.4 650.4L2166.4 653.9L2172.4 657.2L2178.4 660.2L2184.5 662.6L2190.5 664.6L2196.5 666.5L2202.5 668.4L2208.5 670.2L2214.5 671.7L2220.5 672.1L2226.5 670.6L2232.5 667.3L2238.5 663.1L2244.5 658.7L2250.5 654.2L2256.6 649.8L2262.6 645.5L2268.6 641.3L2274.6 637.4L2280.6 633.7L2286.6 630.3L2292.6 627.7L2298.6 626.0L2304.6 624.7L2310.6 623.6L2316.6 622.7L2322.6 622.1L2328.7 622.0L2334.7 622.1L2340.7 622.4L2346.7 622.7L2352.7 623.3L2358.7 624.4L2364.7 625.9L2370.7 627.5L2376.7 629.1L2382.7 630.0L2388.7 630.1L2394.7 629.4L2400.8 628.4L2406.8 627.5L2412.8 626.5L2418.8 625.4L2424.8 624.4L2430.8 623.3L2436.8 622.1L2442.8 620.7L2448.8 619.2L2454.8 617.6L2460.8 615.9L2466.9 613.9L2472.9 611.8L2478.9 609.6L2484.9 607.4L2490.9 605.5L2496.9 603.9L2502.9 603.2L2508.9 603.4L2514.9 603.9L2520.9 604.2L2526.9 604.1L2532.9 603.6L2539.0 602.9L2545.0 601.6L2551.0 599.9L2557.0 598.0L2563.0 595.9L2569.0 593.5L2575.0 590.9L2581.0 588.4L2587.0 586.2L2593.0 584.7L2599.0 583.6L2605.0 582.8L2611.1 581.9L2617.1 580.8L2623.1 579.4L2629.1 577.7L2635.1 575.9L2641.1 574.2L2647.1 572.8L2653.1 571.5L2659.1 570.4L2665.1 569.6L2671.1 569.5L2677.1 570.1L2683.2 571.1L2689.2 572.2L2695.2 573.2L2701.2 574.0L2707.2 574.5L2713.2 574.5L2719.2 573.8L2725.2 572.5L2731.2 570.7L2737.2 568.8L2743.2 566.6L2749.2 564.1L2755.3 561.0L2761.3 557.7L2767.3 554.3" fill="none" stroke="#7f7f7f" stroke-width="10.42" stroke-dasharray="38.54 16.67" stroke-linejoin="round"/></g><rect x="400" y="288" width="2480" height="1848" fill="none" stroke="#000" stroke-width="5.556" stroke-linejoin="miter"/><path d="M868.71 2136v24.3M1343.35 2136v24.3M1817.99 2136v24.3M2292.63 2136v24.3M2767.27 2136v24.3M400 2076.00h-24.3M400 1742.40h-24.3M400 1408.80h-24.3M400 1075.20h-24.3M400 741.60h-24.3M400 408.00h-24.3" stroke="#000" stroke-width="5.556" fill="none"/><text transform="translate(868.71,2238.30) scale(1.048,1)" font-family="Liberation Sans, sans-serif" font-size="74.5" text-anchor="middle" fill="#000">200</text><text transform="translate(1343.35,2238.30) scale(1.048,1)" font-family="Liberation Sans, sans-serif" font-size="74.5" text-anchor="middle" fill="#000">400</text><text transform="translate(1817.99,2238.30) scale(1.048,1)" font-family="Liberation Sans, sans-serif" font-size="74.5" text-anchor="middle" fill="#000">600</text><text transform="translate(2292.63,2238.30) scale(1.048,1)" font-family="Liberation Sans, sans-serif" font-size="74.5" text-anchor="middle" fill="#000">800</text><text transform="translate(2767.27,2238.30) scale(1.048,1)" font-family="Liberation Sans, sans-serif" font-size="74.5" text-anchor="middle" fill="#000">1000</text><text transform="translate(350.00,2103.70) scale(1.046,1)" font-family="Liberation Sans, sans-serif" font-size="74.5" text-anchor="end" fill="#000">0</text><text transform="translate(350.00,1770.10) scale(1.046,1)" font-family="Liberation Sans, sans-serif" font-size="74.5" text-anchor="end" fill="#000">1000</text><text transform="translate(350.00,1436.50) scale(1.046,1)" font-family="Liberation Sans, sans-serif" font-size="74.5" text-anchor="end" fill="#000">2000</text><text transform="translate(350.00,1102.90) scale(1.046,1)" font-family="Liberation Sans, sans-serif" font-size="74.5" text-anchor="end" fill="#000">3000</text><text transform="translate(350.00,769.30) scale(1.046,1)" font-family="Liberation Sans, sans-serif" font-size="74.5" text-anchor="end" fill="#000">4000</text><text transform="translate(350.00,435.70) scale(1.046,1)" font-family="Liberation Sans, sans-serif" font-size="74.5" text-anchor="end" fill="#000">5000</text><text transform="translate(1640.00,247.30) scale(1.0446,1)" font-family="Liberation Sans, sans-serif" font-size="89.4" text-anchor="middle" fill="#000">Humanoid-v5</text><text transform="translate(1641.60,2333.50) scale(1.074,1)" font-family="Liberation Sans, sans-serif" font-size="74.5" text-anchor="middle" fill="#000">Steps ×1000</text><text transform="translate(138.70,1219.30) rotate(-90) scale(0.998,1)" font-family="Liberation Sans, sans-serif" font-size="74.5" text-anchor="middle" fill="#000">Reward</text><rect x="1794.5" y="794.5" width="1049.6999999999998" height="834.5" rx="13.9" ry="13.9" fill="#ffffff" fill-opacity="0.8" stroke="#cccccc" stroke-opacity="0.8" stroke-width="6.944"/><path d="M1822 849.90H1961" stroke="#1f77b4" stroke-width="10.42" stroke-dasharray="38.54 16.67" fill="none"/><text transform="translate(2016.61,875.30) scale(0.9967,1)" font-family="Liberation Sans, sans-serif" font-size="74.5" text-anchor="start" fill="#000">2016-ICLR-DDPG-office</text><path d="M1822 951.74H1961" stroke="#ff7f0e" stroke-width="10.42" stroke-dasharray="38.54 16.67" fill="none"/><text transform="translate(2016.67,977.14) scale(0.9828,1)" font-family="Liberation Sans, sans-serif" font-size="74.5" text-anchor="start" fill="#000">2016-ICLR-DDPG-self</text><path d="M1822 1053.58H1961" stroke="#2ca02c" stroke-width="10.42" stroke-dasharray="38.54 16.67" fill="none"/><text transform="translate(2016.59,1078.98) scale(1.0022,1)" font-family="Liberation Sans, sans-serif" font-size="74.5" text-anchor="start" fill="#000">2018-ICML-SAC-office</text><path d="M1822 1155.42H1961" stroke="#d62728" stroke-width="10.42" stroke-dasharray="38.54 16.67" fill="none"/><text transform="translate(2016.65,1180.82) scale(0.9874,1)" font-family="Liberation Sans, sans-serif" font-size="74.5" text-anchor="start" fill="#000">2018-ICML-SAC-self</text><path d="M1822 1257.26H1961" stroke="#9467bd" stroke-width="10.42" stroke-dasharray="38.54 16.67" fill="none"/><text transform="translate(2016.56,1282.66) scale(1.0107,1)" font-family="Liberation Sans, sans-serif" font-size="74.5" text-anchor="start" fill="#000">2018-ICML-TD3-office</text><path d="M1822 1359.10H1961" stroke="#8c564b" stroke-width="10.42" stroke-dasharray="38.54 16.67" fill="none"/><text transform="translate(2016.62,1384.50) scale(0.9957,1)" font-family="Liberation Sans, sans-serif" font-size="74.5" text-anchor="start" fill="#000">2018-ICML-TD3-self</text><path d="M1822 1460.94H1961" stroke="#e377c2" stroke-width="10.42" stroke-dasharray="38.54 16.67" fill="none"/><text transform="translate(2016.66,1486.34) scale(0.9853,1)" font-family="Liberation Sans, sans-serif" font-size="74.5" text-anchor="start" fill="#000">2021-ICLR-REDQ-self</text><path d="M1822 1562.78H1961" stroke="#7f7f7f" stroke-width="10.42" stroke-dasharray="38.54 16.67" fill="none"/><text transform="translate(2016.58,1588.18) scale(1.0051,1)" font-family="Liberation Sans, sans-serif" font-size="74.5" text-anchor="start" fill="#000">2022-ICLR-DroQ-self</text></svg></body></html>
